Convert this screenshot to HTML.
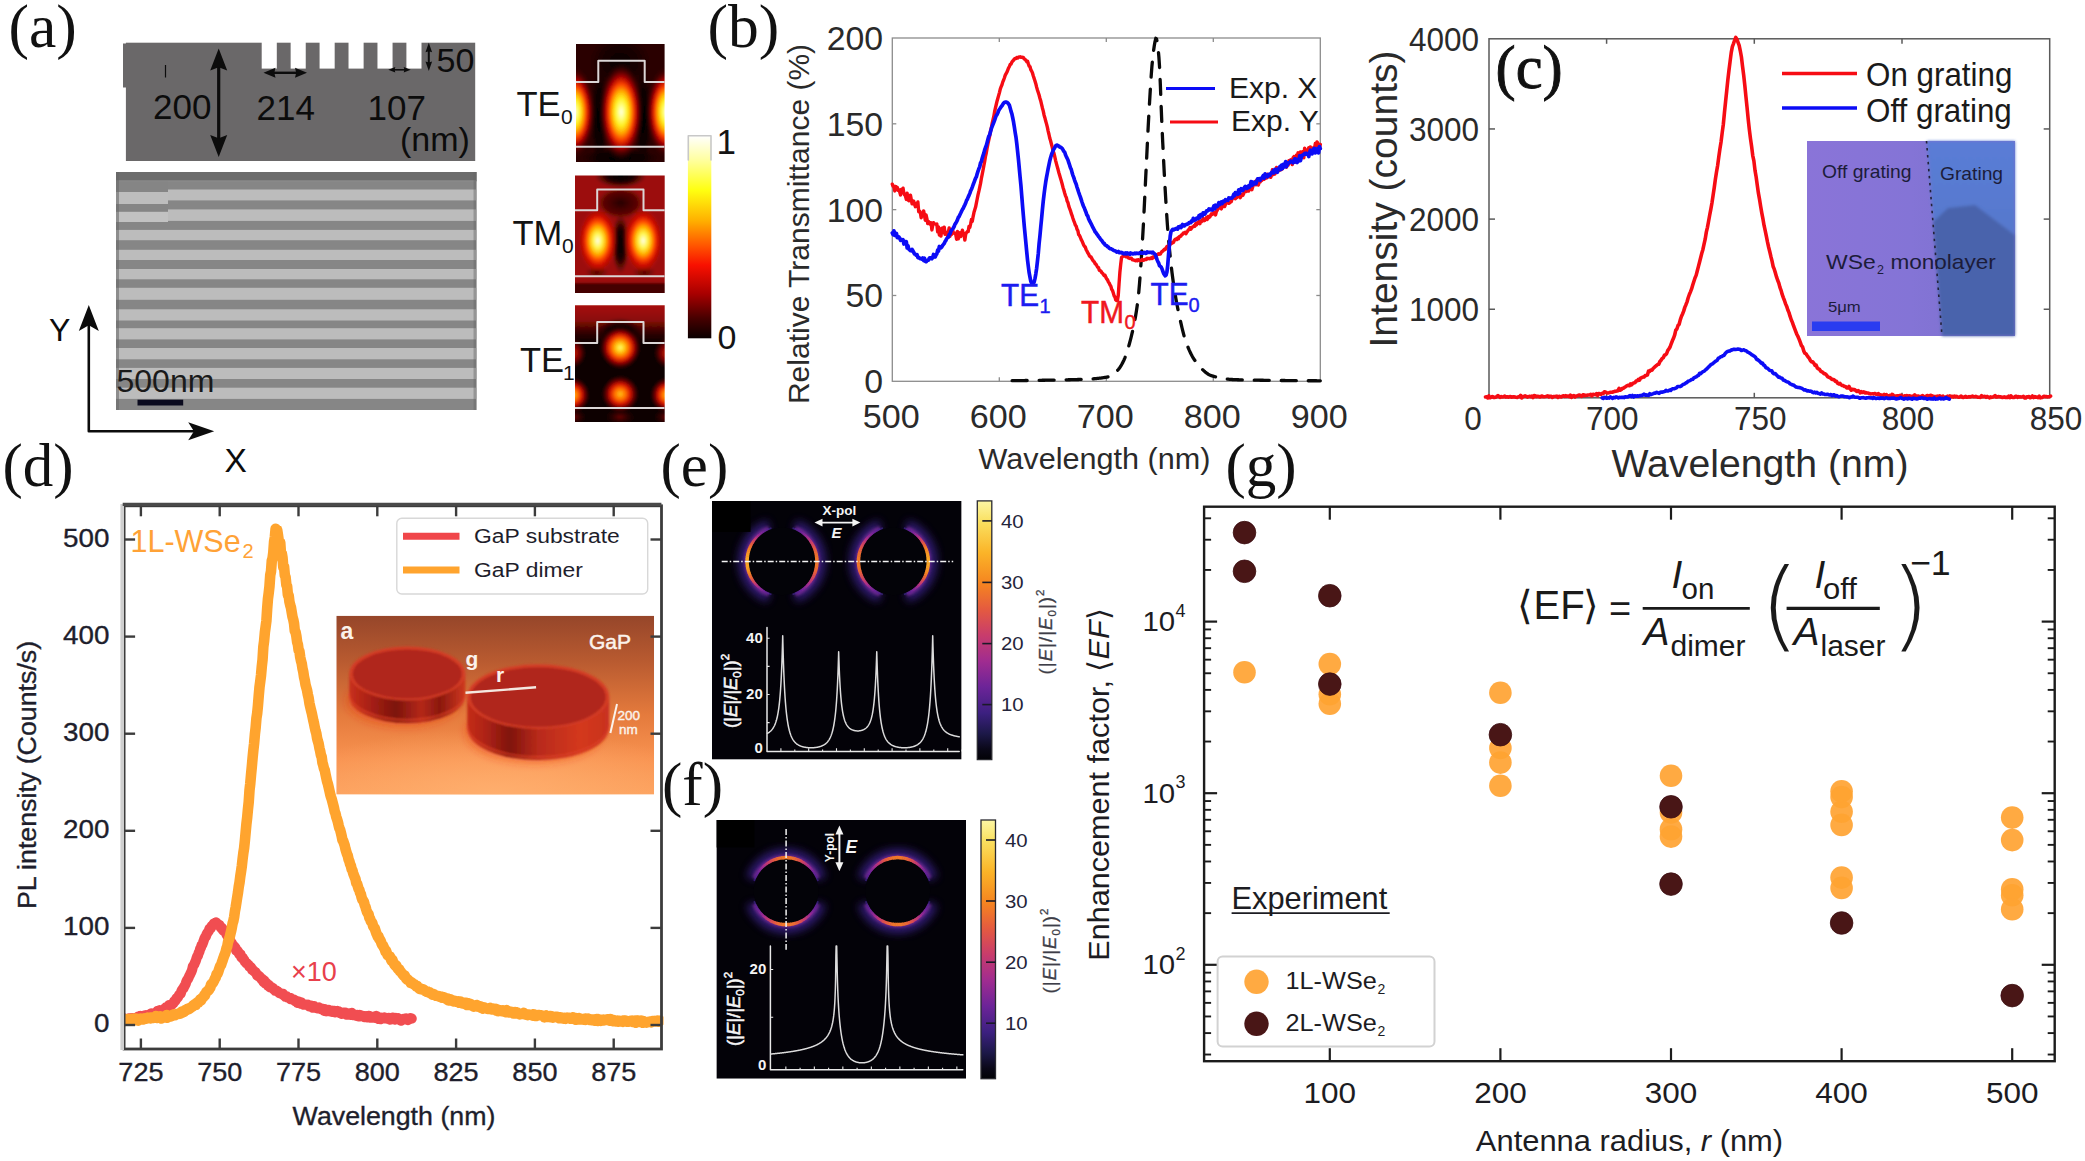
<!DOCTYPE html>
<html><head><meta charset="utf-8"><title>Figure</title>
<style>
html,body{margin:0;padding:0;background:#fff;}
svg{display:block}
.s{font-family:"Liberation Sans",Arial,sans-serif}
.r{font-family:"Liberation Serif","Times New Roman",serif}
</style></head><body>
<svg width="2085" height="1161" viewBox="0 0 2085 1161">
<defs>
<filter id="b1" x="-5%" y="-5%" width="110%" height="110%"><feGaussianBlur stdDeviation="0.7"/></filter>
<radialGradient id="hg1"><stop offset="0" stop-color="#000" stop-opacity="0.9"/><stop offset="0.6" stop-color="#100000" stop-opacity="0.6"/><stop offset="1" stop-color="#200000" stop-opacity="0"/></radialGradient>
<radialGradient id="hg2"><stop offset="0" stop-color="#000" stop-opacity="1"/><stop offset="0.5" stop-color="#050000" stop-opacity="0.85"/><stop offset="1" stop-color="#100000" stop-opacity="0"/></radialGradient>
<radialGradient id="hg3"><stop offset="0" stop-color="#000" stop-opacity="1"/><stop offset="0.5" stop-color="#050000" stop-opacity="0.85"/><stop offset="1" stop-color="#100000" stop-opacity="0"/></radialGradient>
<radialGradient id="hg4"><stop offset="0" stop-color="#000" stop-opacity="1"/><stop offset="0.5" stop-color="#050000" stop-opacity="0.85"/><stop offset="1" stop-color="#100000" stop-opacity="0"/></radialGradient>
<radialGradient id="hg5"><stop offset="0" stop-color="#ffffe4" stop-opacity="1"/><stop offset="0.14" stop-color="#ffff80" stop-opacity="1"/><stop offset="0.28" stop-color="#ffee20" stop-opacity="1"/><stop offset="0.42" stop-color="#ffa800" stop-opacity="1"/><stop offset="0.56" stop-color="#fa4000" stop-opacity="1"/><stop offset="0.7" stop-color="#b40600" stop-opacity="0.95"/><stop offset="0.85" stop-color="#5a0000" stop-opacity="0.6"/><stop offset="1" stop-color="#300000" stop-opacity="0"/></radialGradient>
<radialGradient id="hg6"><stop offset="0" stop-color="#ffffe4" stop-opacity="1"/><stop offset="0.14" stop-color="#ffff80" stop-opacity="1"/><stop offset="0.28" stop-color="#ffee20" stop-opacity="1"/><stop offset="0.42" stop-color="#ffa800" stop-opacity="1"/><stop offset="0.56" stop-color="#fa4000" stop-opacity="1"/><stop offset="0.7" stop-color="#b40600" stop-opacity="0.95"/><stop offset="0.85" stop-color="#5a0000" stop-opacity="0.6"/><stop offset="1" stop-color="#300000" stop-opacity="0"/></radialGradient>
<radialGradient id="hg7"><stop offset="0" stop-color="#ffffe4" stop-opacity="1"/><stop offset="0.14" stop-color="#ffff80" stop-opacity="1"/><stop offset="0.28" stop-color="#ffee20" stop-opacity="1"/><stop offset="0.42" stop-color="#ffa800" stop-opacity="1"/><stop offset="0.56" stop-color="#fa4000" stop-opacity="1"/><stop offset="0.7" stop-color="#b40600" stop-opacity="0.95"/><stop offset="0.85" stop-color="#5a0000" stop-opacity="0.6"/><stop offset="1" stop-color="#300000" stop-opacity="0"/></radialGradient>
<radialGradient id="hg8"><stop offset="0" stop-color="#000" stop-opacity="1"/><stop offset="0.5" stop-color="#050000" stop-opacity="0.85"/><stop offset="1" stop-color="#100000" stop-opacity="0"/></radialGradient>
<radialGradient id="hg9"><stop offset="0" stop-color="#1a0000" stop-opacity="0.9"/><stop offset="0.7" stop-color="#300000" stop-opacity="0.6"/><stop offset="1" stop-color="#500000" stop-opacity="0"/></radialGradient>
<radialGradient id="hg10"><stop offset="0" stop-color="#000" stop-opacity="1"/><stop offset="0.5" stop-color="#050000" stop-opacity="0.85"/><stop offset="1" stop-color="#100000" stop-opacity="0"/></radialGradient>
<radialGradient id="hg11"><stop offset="0" stop-color="#200000" stop-opacity="0.8"/><stop offset="1" stop-color="#400000" stop-opacity="0"/></radialGradient>
<radialGradient id="hg12"><stop offset="0" stop-color="#200000" stop-opacity="0.8"/><stop offset="1" stop-color="#400000" stop-opacity="0"/></radialGradient>
<radialGradient id="hg13"><stop offset="0" stop-color="#ffffe8" stop-opacity="1"/><stop offset="0.22" stop-color="#fff44a" stop-opacity="1"/><stop offset="0.4" stop-color="#ffb000" stop-opacity="1"/><stop offset="0.56" stop-color="#ff4a00" stop-opacity="1"/><stop offset="0.74" stop-color="#d00c00" stop-opacity="0.9"/><stop offset="1" stop-color="#a00a08" stop-opacity="0"/></radialGradient>
<radialGradient id="hg14"><stop offset="0" stop-color="#ffffe8" stop-opacity="1"/><stop offset="0.22" stop-color="#fff44a" stop-opacity="1"/><stop offset="0.4" stop-color="#ffb000" stop-opacity="1"/><stop offset="0.56" stop-color="#ff4a00" stop-opacity="1"/><stop offset="0.74" stop-color="#d00c00" stop-opacity="0.9"/><stop offset="1" stop-color="#a00a08" stop-opacity="0"/></radialGradient>
<radialGradient id="hg15"><stop offset="0" stop-color="#000" stop-opacity="1"/><stop offset="0.5" stop-color="#050000" stop-opacity="0.85"/><stop offset="1" stop-color="#100000" stop-opacity="0"/></radialGradient>
<radialGradient id="hg16"><stop offset="0" stop-color="#fff870" stop-opacity="1"/><stop offset="0.16" stop-color="#ffd820" stop-opacity="1"/><stop offset="0.34" stop-color="#ff9000" stop-opacity="1"/><stop offset="0.52" stop-color="#f03800" stop-opacity="1"/><stop offset="0.7" stop-color="#a80400" stop-opacity="0.9"/><stop offset="0.86" stop-color="#500000" stop-opacity="0.55"/><stop offset="1" stop-color="#300000" stop-opacity="0"/></radialGradient>
<radialGradient id="hg17"><stop offset="0" stop-color="#ffc010" stop-opacity="1"/><stop offset="0.3" stop-color="#ff6a00" stop-opacity="1"/><stop offset="0.55" stop-color="#d81000" stop-opacity="0.95"/><stop offset="0.8" stop-color="#700000" stop-opacity="0.6"/><stop offset="1" stop-color="#300000" stop-opacity="0"/></radialGradient>
<radialGradient id="hg18"><stop offset="0" stop-color="#ffc010" stop-opacity="1"/><stop offset="0.3" stop-color="#ff6a00" stop-opacity="1"/><stop offset="0.55" stop-color="#d81000" stop-opacity="0.95"/><stop offset="0.8" stop-color="#700000" stop-opacity="0.6"/><stop offset="1" stop-color="#300000" stop-opacity="0"/></radialGradient>
<radialGradient id="hg19"><stop offset="0" stop-color="#ffc010" stop-opacity="1"/><stop offset="0.3" stop-color="#ff6a00" stop-opacity="1"/><stop offset="0.55" stop-color="#d81000" stop-opacity="0.95"/><stop offset="0.8" stop-color="#700000" stop-opacity="0.6"/><stop offset="1" stop-color="#300000" stop-opacity="0"/></radialGradient>
<radialGradient id="hg20"><stop offset="0" stop-color="#d01000" stop-opacity="1"/><stop offset="0.5" stop-color="#900400" stop-opacity="0.8"/><stop offset="1" stop-color="#300000" stop-opacity="0"/></radialGradient>
<radialGradient id="hg21"><stop offset="0" stop-color="#d01000" stop-opacity="1"/><stop offset="0.5" stop-color="#900400" stop-opacity="0.8"/><stop offset="1" stop-color="#300000" stop-opacity="0"/></radialGradient>
<radialGradient id="hg22"><stop offset="0" stop-color="#800000" stop-opacity="0.8"/><stop offset="1" stop-color="#300000" stop-opacity="0"/></radialGradient>
<radialGradient id="hg23"><stop offset="0" stop-color="#800000" stop-opacity="0.8"/><stop offset="1" stop-color="#300000" stop-opacity="0"/></radialGradient>
<radialGradient id="hg24"><stop offset="0" stop-color="#800000" stop-opacity="0.8"/><stop offset="1" stop-color="#300000" stop-opacity="0"/></radialGradient>
<linearGradient id="te1top" x1="0" y1="0" x2="0" y2="1"><stop offset="0" stop-color="#b01410"/><stop offset="0.45" stop-color="#8a0c08"/><stop offset="1" stop-color="#300000" stop-opacity="0"/></linearGradient>
<linearGradient id="hotbar" x1="0" y1="0" x2="0" y2="1">
<stop offset="0" stop-color="#ffffff"/><stop offset="0.12" stop-color="#ffffa0"/><stop offset="0.27" stop-color="#ffff10"/><stop offset="0.42" stop-color="#ffb000"/><stop offset="0.55" stop-color="#ff5000"/><stop offset="0.64" stop-color="#f81000"/><stop offset="0.78" stop-color="#a80000"/><stop offset="0.9" stop-color="#480000"/><stop offset="1" stop-color="#0a0000"/></linearGradient>
<filter id="b2" x="-10%" y="-10%" width="120%" height="120%"><feGaussianBlur stdDeviation="1.2"/></filter>
<linearGradient id="infb" x1="0" y1="0" x2="0" y2="1">
<stop offset="0" stop-color="#fcf6a4"/><stop offset="0.08" stop-color="#fae060"/><stop offset="0.2" stop-color="#fbb428"/><stop offset="0.32" stop-color="#f58420"/><stop offset="0.42" stop-color="#e45a40"/><stop offset="0.52" stop-color="#c83c6c"/><stop offset="0.62" stop-color="#a02c90"/><stop offset="0.72" stop-color="#6c2498"/><stop offset="0.82" stop-color="#3c2080"/><stop offset="0.9" stop-color="#1c1848"/><stop offset="0.96" stop-color="#0a0818"/><stop offset="1" stop-color="#020206"/></linearGradient>
<filter id="g1" x="-50%" y="-50%" width="200%" height="200%"><feGaussianBlur stdDeviation="4.5"/></filter>
<filter id="g2" x="-50%" y="-50%" width="200%" height="200%"><feGaussianBlur stdDeviation="1.6"/></filter>
<filter id="g3" x="-50%" y="-50%" width="200%" height="200%"><feGaussianBlur stdDeviation="0.7"/></filter>
<filter id="gb" x="-20%" y="-20%" width="140%" height="140%"><feGaussianBlur stdDeviation="0.6"/></filter>
<filter id="g4" x="-5%" y="-5%" width="110%" height="110%"><feGaussianBlur stdDeviation="0.5"/></filter>

<linearGradient id="dbg" x1="0" y1="0" x2="0" y2="1"><stop offset="0" stop-color="#96462a"/><stop offset="0.25" stop-color="#b85a30"/><stop offset="0.55" stop-color="#e47a3c"/><stop offset="0.8" stop-color="#f89250"/><stop offset="1" stop-color="#fca05c"/></linearGradient>
<radialGradient id="dglow" cx="0.5" cy="1" r="0.7"><stop offset="0" stop-color="#ffb070" stop-opacity="0.9"/><stop offset="1" stop-color="#ffb070" stop-opacity="0"/></radialGradient>
<linearGradient id="dside" x1="0" y1="0" x2="1" y2="0"><stop offset="0" stop-color="#c8301c"/><stop offset="0.18" stop-color="#a82014"/><stop offset="0.4" stop-color="#7c140c"/><stop offset="0.62" stop-color="#b4281a"/><stop offset="0.78" stop-color="#8a180e"/><stop offset="1" stop-color="#d03820"/></linearGradient>
<linearGradient id="dside2" x1="0" y1="0" x2="1" y2="0"><stop offset="0" stop-color="#c42c1a"/><stop offset="0.12" stop-color="#b02416"/><stop offset="0.3" stop-color="#80140c"/><stop offset="0.5" stop-color="#b82a1a"/><stop offset="0.8" stop-color="#d4381e"/><stop offset="1" stop-color="#c83220"/></linearGradient>
<radialGradient id="dtop"><stop offset="0" stop-color="#b4261a"/><stop offset="0.85" stop-color="#b0241a"/><stop offset="1" stop-color="#d03a26"/></radialGradient>
<filter id="b4" x="-10%" y="-10%" width="120%" height="120%"><feGaussianBlur stdDeviation="1.1"/></filter>
<filter id="b5" x="-20%" y="-20%" width="140%" height="140%"><feGaussianBlur stdDeviation="5"/></filter>

<linearGradient id="cins" x1="0" y1="0" x2="1" y2="0"><stop offset="0" stop-color="#8a74d8"/><stop offset="0.5" stop-color="#8474d6"/><stop offset="1" stop-color="#7a70cc"/></linearGradient>
<linearGradient id="cins2" x1="0" y1="0" x2="0" y2="1"><stop offset="0" stop-color="#5a7cd6"/><stop offset="0.5" stop-color="#5678cc"/><stop offset="1" stop-color="#4e6cb8"/></linearGradient>
<filter id="b3" x="-5%" y="-5%" width="110%" height="110%"><feGaussianBlur stdDeviation="1.5"/></filter>

</defs>
<rect width="2085" height="1161" fill="#fff"/>
<g id="pa">
<text x="8.5" y="47" class="r" font-size="61.5" fill="#111">(a)</text>
<rect x="125.9" y="42.7" width="349.3" height="118.3" fill="#6a6869" />
<rect x="123" y="43.5" width="4" height="44" fill="#6a6869" />
<rect x="261.7" y="41" width="15.1" height="27.6" fill="#fff" />
<rect x="290.64" y="41" width="15.1" height="27.6" fill="#fff" />
<rect x="319.58" y="41" width="15.1" height="27.6" fill="#fff" />
<rect x="348.52" y="41" width="15.1" height="27.6" fill="#fff" />
<rect x="377.46" y="41" width="15.1" height="27.6" fill="#fff" />
<rect x="406.4" y="41" width="15.1" height="27.6" fill="#fff" />
<line x1="218.7" y1="62" x2="218.7" y2="144" stroke="#0c0c0c" stroke-width="3.2" />
<polygon points="218.7,48.5 227.2,70.5 218.7,67.2 210.2,70.5" fill="#0c0c0c"/>
<polygon points="218.7,157 210.2,135 218.7,138.3 227.2,135" fill="#0c0c0c"/>
<line x1="165.5" y1="65" x2="165.5" y2="77.5" stroke="#0c0c0c" stroke-width="1.2" />
<text x="153" y="118.7" class="s" font-size="35" fill="#0c0c0c">200</text>
<text x="256.5" y="120.3" class="s" font-size="35" fill="#0c0c0c">214</text>
<text x="367.5" y="120" class="s" font-size="35" fill="#0c0c0c">107</text>
<text x="400" y="150.6" class="s" font-size="34" fill="#0c0c0c">(nm)</text>
<text x="436.5" y="71.6" class="s" font-size="34" fill="#0c0c0c">50</text>
<line x1="272" y1="72.8" x2="298" y2="72.8" stroke="#0c0c0c" stroke-width="2.4" />
<polygon points="263.5,72.8 275.5,67.8 274.3,72.8 275.5,77.8" fill="#0c0c0c"/>
<polygon points="307,72.8 295,77.8 296.2,72.8 295,67.8" fill="#0c0c0c"/>
<line x1="392" y1="69.8" x2="407" y2="69.8" stroke="#0c0c0c" stroke-width="1.6" />
<polygon points="388.3,69.8 395.3,67.05 394.6,69.8 395.3,72.55" fill="#0c0c0c"/>
<polygon points="410.7,69.8 403.7,72.55 404.4,69.8 403.7,67.05" fill="#0c0c0c"/>
<line x1="428.8" y1="50" x2="428.8" y2="63" stroke="#0c0c0c" stroke-width="2" />
<polygon points="428.8,42.7 432.1,52.2 428.8,51.25 425.5,52.2" fill="#0c0c0c"/>
<polygon points="428.8,71 425.5,61.5 428.8,62.45 432.1,61.5" fill="#0c0c0c"/>
<g filter="url(#b1)">
<rect x="116" y="172" width="360.5" height="238" fill="#868686" />
<rect x="116" y="172" width="360.5" height="9" fill="#6c6c6c" />
<rect x="116" y="180.3" width="360.5" height="1.2" fill="#8c8c8c" />
<rect x="116" y="189.5" width="360.5" height="10.9" fill="#bcbcbc" />
<rect x="116" y="209.4" width="360.5" height="11.5" fill="#bcbcbc" />
<rect x="116" y="229.9" width="360.5" height="10.3" fill="#bcbcbc" />
<rect x="116" y="249.8" width="360.5" height="10.2" fill="#bcbcbc" />
<rect x="116" y="269" width="360.5" height="10.3" fill="#bcbcbc" />
<rect x="116" y="287.8" width="360.5" height="12" fill="#bcbcbc" />
<rect x="116" y="309.3" width="360.5" height="11.2" fill="#bcbcbc" />
<rect x="116" y="328.2" width="360.5" height="11.2" fill="#bcbcbc" />
<rect x="116" y="348" width="360.5" height="11.3" fill="#bcbcbc" />
<rect x="116" y="367.9" width="360.5" height="11.1" fill="#bcbcbc" />
<rect x="116" y="387.7" width="360.5" height="11.2" fill="#bcbcbc" />
<rect x="116" y="181.5" width="52" height="40.5" fill="#858585" />
<rect x="116" y="192" width="52" height="12" fill="#bdbdbd" />
<rect x="116" y="211.8" width="52" height="10.2" fill="#c2c2c2" />
<rect x="116" y="172" width="3" height="238" fill="#666" opacity="0.55"/>
<rect x="473.5" y="172" width="3" height="238" fill="#666" opacity="0.45"/>
</g>
<rect x="137.5" y="399.7" width="45.7" height="5.8" fill="#0a0a1e" />
<text x="116.5" y="392" class="s" font-size="32" fill="#1a1a1a">500nm</text>
<polyline points="88.8,322 88.8,431.3 195,431.3" fill="none" stroke="#0c0c0c" stroke-width="2.6" stroke-linejoin="round" stroke-linecap="round" stroke-linejoin="miter" stroke-linecap="butt"/>
<polygon points="88.8,305 98.8,331 88.8,325.28 78.8,331" fill="#0c0c0c"/>
<polygon points="214.2,431.3 188.2,440.3 193.92,431.3 188.2,422.3" fill="#0c0c0c"/>
<text x="49" y="341" class="s" font-size="32" fill="#0c0c0c">Y</text>
<text x="224.5" y="472.3" class="s" font-size="33.5" fill="#0c0c0c">X</text>
</g>
<g id="pa2">
<clipPath id="c1"><rect x="576" y="43.9" width="88.60000000000002" height="118.1"/></clipPath>
<g clip-path="url(#c1)"><g filter="url(#b2)">
<rect x="571" y="38.9" width="98.6" height="128.1" fill="#2c0606" />
<ellipse cx="620" cy="62" rx="34" ry="30" fill="url(#hg1)"/>
<ellipse cx="599.5" cy="118" rx="9" ry="52" fill="url(#hg2)"/>
<ellipse cx="643" cy="118" rx="9" ry="52" fill="url(#hg3)"/>
<ellipse cx="620" cy="158" rx="40" ry="10" fill="url(#hg4)"/>
<ellipse cx="621.2" cy="112" rx="22.5" ry="50" fill="url(#hg5)"/>
<ellipse cx="574.5" cy="112" rx="21" ry="46" fill="url(#hg6)"/>
<ellipse cx="666.5" cy="112" rx="21" ry="46" fill="url(#hg7)"/>
</g>
<polyline points="576,82.1 598.3,82.1 598.3,60.8 644.7,60.8 644.7,82.1 664.6,82.1" fill="none" stroke="#dcd6d6" stroke-width="2" stroke-linejoin="round" stroke-linecap="round" stroke-linejoin="miter" stroke-linecap="butt"/><line x1="576" y1="146.7" x2="664.6" y2="146.7" stroke="#dcd6d6" stroke-width="2" />
</g>
<clipPath id="c2"><rect x="575" y="175.5" width="89.70000000000005" height="117.39999999999998"/></clipPath>
<g clip-path="url(#c2)"><g filter="url(#b2)">
<rect x="570" y="170.5" width="99.7" height="127.4" fill="#9c0e0a" />
<ellipse cx="620.5" cy="176" rx="26" ry="12" fill="url(#hg8)"/>
<ellipse cx="620.5" cy="203" rx="24" ry="16" fill="url(#hg9)"/>
<ellipse cx="620.5" cy="244" rx="9" ry="30" fill="url(#hg10)"/>
<ellipse cx="597" cy="272" rx="12" ry="6" fill="url(#hg11)"/>
<ellipse cx="644" cy="272" rx="12" ry="6" fill="url(#hg12)"/>
<rect x="570" y="283" width="99.7" height="15" fill="#300404" opacity="0.8"/>
<ellipse cx="597.7" cy="240.6" rx="20.5" ry="34" fill="url(#hg13)"/>
<ellipse cx="643.2" cy="240.6" rx="20.5" ry="34" fill="url(#hg14)"/>
</g>
<polyline points="575,210.3 597.2,210.3 597.2,189.4 643.5,189.4 643.5,210.3 664.7,210.3" fill="none" stroke="#dcd6d6" stroke-width="2" stroke-linejoin="round" stroke-linecap="round" stroke-linejoin="miter" stroke-linecap="butt"/><line x1="575" y1="276.2" x2="664.7" y2="276.2" stroke="#dcd6d6" stroke-width="2" />
</g>
<clipPath id="c3"><rect x="575" y="305.2" width="89.70000000000005" height="116.80000000000001"/></clipPath>
<g clip-path="url(#c3)"><g filter="url(#b2)">
<rect x="570" y="300.2" width="99.7" height="126.8" fill="#0c0000" />
<rect x="570" y="300.2" width="99.70000000000005" height="45" fill="url(#te1top)"/>
<ellipse cx="620.2" cy="332" rx="22" ry="14" fill="url(#hg15)"/>
<ellipse cx="620.2" cy="347.6" rx="21" ry="22" fill="url(#hg16)"/>
<ellipse cx="620.2" cy="394" rx="19" ry="19" fill="url(#hg17)"/>
<ellipse cx="573" cy="395" rx="17" ry="18" fill="url(#hg18)"/>
<ellipse cx="667" cy="395" rx="17" ry="18" fill="url(#hg19)"/>
<ellipse cx="573" cy="353" rx="14" ry="16" fill="url(#hg20)"/>
<ellipse cx="667" cy="353" rx="14" ry="16" fill="url(#hg21)"/>
<ellipse cx="620" cy="417" rx="16" ry="9" fill="url(#hg22)"/>
<ellipse cx="575" cy="417" rx="12" ry="9" fill="url(#hg23)"/>
<ellipse cx="665" cy="417" rx="12" ry="9" fill="url(#hg24)"/>
</g>
<polyline points="575,342.9 597.2,342.9 597.2,322 643.5,322 643.5,342.9 664.7,342.9" fill="none" stroke="#dcd6d6" stroke-width="2" stroke-linejoin="round" stroke-linecap="round" stroke-linejoin="miter" stroke-linecap="butt"/><line x1="575" y1="408" x2="664.7" y2="408" stroke="#dcd6d6" stroke-width="2" />
</g>
<text x="516.5" y="116.2" class="s" font-size="34.5" fill="#141414">TE</text><text x="561" y="123.7" class="s" font-size="21" fill="#141414">0</text>
<text x="512.5" y="245.2" class="s" font-size="34.5" fill="#141414">TM</text><text x="562" y="252.7" class="s" font-size="21" fill="#141414">0</text>
<text x="520" y="372" class="s" font-size="34.5" fill="#141414">TE</text><text x="563" y="379.5" class="s" font-size="21" fill="#141414">1</text>
<rect x="687.9" y="135.5" width="23.4" height="202.8" fill="url(#hotbar)" stroke="none"/>
<polyline points="688.3,160 688.3,135.8 711,135.8 711,160" fill="none" stroke="#c8c8c8" stroke-width="1.6" stroke-linejoin="round" stroke-linecap="round" stroke-linejoin="miter" stroke-linecap="butt"/>
<text x="716.5" y="154" class="s" font-size="35" fill="#141414">1</text>
<text x="717.5" y="348.5" class="s" font-size="34" fill="#141414">0</text>
</g>
<g id="pb">
<text x="707.5" y="46.5" class="r" font-size="61.5" fill="#111">(b)</text>
<rect x="892.3" y="38" width="428" height="343.3" fill="none" stroke="#8c8c8c" stroke-width="1.3"/>
<line x1="999.3" y1="381.3" x2="999.3" y2="377.3" stroke="#8c8c8c" stroke-width="1.3" />
<line x1="999.3" y1="38" x2="999.3" y2="42" stroke="#8c8c8c" stroke-width="1.3" />
<line x1="1106.3" y1="381.3" x2="1106.3" y2="377.3" stroke="#8c8c8c" stroke-width="1.3" />
<line x1="1106.3" y1="38" x2="1106.3" y2="42" stroke="#8c8c8c" stroke-width="1.3" />
<line x1="1213.3" y1="381.3" x2="1213.3" y2="377.3" stroke="#8c8c8c" stroke-width="1.3" />
<line x1="1213.3" y1="38" x2="1213.3" y2="42" stroke="#8c8c8c" stroke-width="1.3" />
<line x1="892.3" y1="295.48" x2="896.3" y2="295.48" stroke="#8c8c8c" stroke-width="1.3" />
<line x1="1320.3" y1="295.48" x2="1316.3" y2="295.48" stroke="#8c8c8c" stroke-width="1.3" />
<line x1="892.3" y1="209.65" x2="896.3" y2="209.65" stroke="#8c8c8c" stroke-width="1.3" />
<line x1="1320.3" y1="209.65" x2="1316.3" y2="209.65" stroke="#8c8c8c" stroke-width="1.3" />
<line x1="892.3" y1="123.82" x2="896.3" y2="123.82" stroke="#8c8c8c" stroke-width="1.3" />
<line x1="1320.3" y1="123.82" x2="1316.3" y2="123.82" stroke="#8c8c8c" stroke-width="1.3" />
<text x="0" y="0" class="s" font-size="32.5" fill="#2a2a2a" text-anchor="end"  transform="translate(883 393.3) scale(1.04 1)">0</text>
<text x="0" y="0" class="s" font-size="32.5" fill="#2a2a2a" text-anchor="end"  transform="translate(883 307.48) scale(1.04 1)">50</text>
<text x="0" y="0" class="s" font-size="32.5" fill="#2a2a2a" text-anchor="end"  transform="translate(883 221.65) scale(1.04 1)">100</text>
<text x="0" y="0" class="s" font-size="32.5" fill="#2a2a2a" text-anchor="end"  transform="translate(883 135.82) scale(1.04 1)">150</text>
<text x="0" y="0" class="s" font-size="32.5" fill="#2a2a2a" text-anchor="end"  transform="translate(883 50) scale(1.04 1)">200</text>
<text x="0" y="0" class="s" font-size="32.5" fill="#2a2a2a" text-anchor="middle"  transform="translate(891.3 428) scale(1.05 1)">500</text>
<text x="0" y="0" class="s" font-size="32.5" fill="#2a2a2a" text-anchor="middle"  transform="translate(998.3 428) scale(1.05 1)">600</text>
<text x="0" y="0" class="s" font-size="32.5" fill="#2a2a2a" text-anchor="middle"  transform="translate(1105.3 428) scale(1.05 1)">700</text>
<text x="0" y="0" class="s" font-size="32.5" fill="#2a2a2a" text-anchor="middle"  transform="translate(1212.3 428) scale(1.05 1)">800</text>
<text x="0" y="0" class="s" font-size="32.5" fill="#2a2a2a" text-anchor="middle"  transform="translate(1319.3 428) scale(1.05 1)">900</text>
<text x="0" y="0" class="s" font-size="30" fill="#2a2a2a" text-anchor="middle"  transform="translate(1094.5 469) scale(1.02 1)">Wavelength (nm)</text>
<text x="809" y="224" class="s" font-size="30" fill="#2a2a2a" text-anchor="middle" transform="rotate(-90 809 224)">Relative Transmittance (%)</text>
<polyline points="1012.14,380.68 1012.91,380.67 1013.68,380.66 1014.46,380.65 1015.23,380.65 1016,380.64 1016.77,380.63 1017.55,380.62 1018.32,380.61 1019.09,380.6 1019.86,380.59 1020.64,380.58 1021.41,380.57 1022.18,380.56 1022.95,380.55 1023.72,380.54 1024.5,380.53 1025.27,380.52 1026.04,380.51 1026.81,380.5 1027.59,380.49 1028.36,380.48 1029.13,380.47 1029.9,380.46 1030.68,380.45 1031.45,380.43 1032.22,380.42 1032.99,380.41 1033.77,380.4 1034.54,380.39 1035.31,380.38 1036.08,380.36 1036.85,380.35 1037.63,380.34 1038.4,380.33 1039.17,380.32 1039.94,380.3 1040.72,380.29 1041.49,380.28 1042.26,380.27 1043.03,380.26 1043.81,380.24 1044.58,380.23 1045.35,380.22 1046.12,380.21 1046.89,380.19 1047.67,380.18 1048.44,380.17 1049.21,380.16 1049.98,380.14 1050.76,380.13 1051.53,380.12 1052.3,380.1 1053.07,380.09 1053.85,380.08 1054.62,380.06 1055.39,380.05 1056.16,380.04 1056.94,380.02 1057.71,380.01 1058.48,379.99 1059.25,379.98 1060.02,379.96 1060.8,379.95 1061.57,379.93 1062.34,379.92 1063.11,379.9 1063.89,379.88 1064.66,379.87 1065.43,379.85 1066.2,379.83 1066.98,379.81 1067.75,379.79 1068.52,379.77 1069.29,379.75 1070.06,379.73 1070.84,379.71 1071.61,379.69 1072.38,379.67 1073.15,379.65 1073.93,379.63 1074.7,379.6 1075.47,379.58 1076.24,379.56 1077.02,379.53 1077.79,379.51 1078.56,379.48 1079.33,379.45 1080.11,379.43 1080.88,379.4 1081.65,379.37 1082.42,379.34 1083.19,379.31 1083.97,379.28 1084.74,379.25 1085.51,379.21 1086.28,379.18 1087.06,379.15 1087.83,379.11 1088.6,379.07 1089.37,379.03 1090.15,378.99 1090.92,378.94 1091.69,378.89 1092.46,378.84 1093.23,378.79 1094.01,378.73 1094.78,378.67 1095.55,378.61 1096.32,378.54 1097.1,378.47 1097.87,378.39 1098.64,378.31 1099.41,378.23 1100.19,378.14 1100.96,378.04 1101.73,377.94 1102.5,377.84 1103.28,377.73 1104.05,377.61 1104.82,377.49 1105.59,377.36 1106.36,377.23 1107.14,377.09 1107.91,376.94 1108.68,376.78 1109.45,376.55 1110.23,376.24 1111,375.85 1111.77,375.38 1112.54,374.86 1113.32,374.28 1114.09,373.65 1114.86,372.99 1115.63,372.29 1116.4,371.57 1117.18,370.83 1117.95,370 1118.72,369.07 1119.49,368.03 1120.27,366.88 1121.04,365.64 1121.81,364.3 1122.58,362.87 1123.36,361.35 1124.13,359.69 1124.9,357.85 1125.67,355.81 1126.44,353.6 1127.22,351.23 1127.99,348.71 1128.76,346.04 1129.53,343.24 1130.31,340.32 1131.08,337.29 1131.85,334.15 1132.62,330.9 1133.4,327.47 1134.17,323.78 1134.94,319.79 1135.71,315.4 1136.49,310.58 1137.26,305.23 1138.03,299.28 1138.8,291.9 1139.57,282.95 1140.35,272.74 1141.12,261.54 1141.89,249.66 1142.66,237.37 1143.44,223.81 1144.21,208.44 1144.98,192.28 1145.75,176.33 1146.53,160.75 1147.3,144.8 1148.07,129.17 1148.84,114.59 1149.61,101.3 1150.39,88.4 1151.16,76.47 1151.93,66.22 1152.7,58.14 1153.48,51.41 1154.25,46.03 1155.02,41.57 1155.79,38.29 1156.57,38.97 1157.34,42.89 1158.11,48.29 1158.88,56.83 1159.66,68.71 1160.43,86.72 1161.2,107.38 1161.97,126.24 1162.74,142.71 1163.52,158.58 1164.29,173.6 1165.06,187.53 1165.83,200.57 1166.61,213.02 1167.38,224.51 1168.15,234.65 1168.92,243.41 1169.7,251.53 1170.47,259.07 1171.24,266.08 1172.01,272.57 1172.78,278.58 1173.56,284.13 1174.33,289.27 1175.1,294.05 1175.87,298.53 1176.65,302.74 1177.42,306.72 1178.19,310.52 1178.96,314.17 1179.74,317.72 1180.51,321.23 1181.28,324.66 1182.05,328 1182.83,331.19 1183.6,334.21 1184.37,337.01 1185.14,339.57 1185.91,341.84 1186.69,343.91 1187.46,345.9 1188.23,347.8 1189,349.62 1189.78,351.35 1190.55,352.99 1191.32,354.54 1192.09,356 1192.87,357.36 1193.64,358.63 1194.41,359.81 1195.18,360.89 1195.95,361.89 1196.73,362.87 1197.5,363.84 1198.27,364.78 1199.04,365.71 1199.82,366.6 1200.59,367.48 1201.36,368.32 1202.13,369.13 1202.91,369.91 1203.68,370.65 1204.45,371.36 1205.22,372.02 1206,372.65 1206.77,373.23 1207.54,373.76 1208.31,374.24 1209.08,374.68 1209.86,375.06 1210.63,375.38 1211.4,375.64 1212.17,375.88 1212.95,376.11 1213.72,376.33 1214.49,376.54 1215.26,376.75 1216.04,376.95 1216.81,377.14 1217.58,377.33 1218.35,377.51 1219.12,377.68 1219.9,377.85 1220.67,378.01 1221.44,378.16 1222.21,378.31 1222.99,378.44 1223.76,378.57 1224.53,378.7 1225.3,378.81 1226.08,378.92 1226.85,379.02 1227.62,379.12 1228.39,379.2 1229.16,379.28 1229.94,379.35 1230.71,379.41 1231.48,379.47 1232.25,379.52 1233.03,379.56 1233.8,379.59 1234.57,379.62 1235.34,379.65 1236.12,379.68 1236.89,379.7 1237.66,379.73 1238.43,379.75 1239.21,379.78 1239.98,379.8 1240.75,379.83 1241.52,379.85 1242.29,379.87 1243.07,379.89 1243.84,379.91 1244.61,379.93 1245.38,379.95 1246.16,379.97 1246.93,379.99 1247.7,380.01 1248.47,380.02 1249.25,380.04 1250.02,380.06 1250.79,380.07 1251.56,380.09 1252.33,380.1 1253.11,380.12 1253.88,380.13 1254.65,380.15 1255.42,380.16 1256.2,380.17 1256.97,380.19 1257.74,380.2 1258.51,380.21 1259.29,380.22 1260.06,380.23 1260.83,380.24 1261.6,380.25 1262.38,380.26 1263.15,380.27 1263.92,380.28 1264.69,380.29 1265.46,380.3 1266.24,380.31 1267.01,380.32 1267.78,380.33 1268.55,380.34 1269.33,380.35 1270.1,380.36 1270.87,380.37 1271.64,380.38 1272.42,380.38 1273.19,380.39 1273.96,380.4 1274.73,380.41 1275.5,380.42 1276.28,380.43 1277.05,380.44 1277.82,380.45 1278.59,380.45 1279.37,380.46 1280.14,380.47 1280.91,380.48 1281.68,380.49 1282.46,380.5 1283.23,380.51 1284,380.51 1284.77,380.52 1285.55,380.53 1286.32,380.54 1287.09,380.55 1287.86,380.56 1288.63,380.56 1289.41,380.57 1290.18,380.58 1290.95,380.59 1291.72,380.59 1292.5,380.6 1293.27,380.61 1294.04,380.62 1294.81,380.62 1295.59,380.63 1296.36,380.64 1297.13,380.65 1297.9,380.65 1298.67,380.66 1299.45,380.67 1300.22,380.67 1300.99,380.68 1301.76,380.69 1302.54,380.69 1303.31,380.7 1304.08,380.7 1304.85,380.71 1305.63,380.71 1306.4,380.72 1307.17,380.73 1307.94,380.73 1308.72,380.73 1309.49,380.74 1310.26,380.74 1311.03,380.75 1311.8,380.75 1312.58,380.76 1313.35,380.76 1314.12,380.76 1314.89,380.77 1315.67,380.77 1316.44,380.77 1317.21,380.78 1317.98,380.78 1318.76,380.78 1319.53,380.78 1320.3,380.79" fill="none" stroke="#0a0a0a" stroke-width="3.3" stroke-linejoin="round" stroke-linecap="round" stroke-dasharray="15 12" stroke-linecap="butt"/>
<polyline points="892.3,184.14 893.12,186.36 893.95,186.2 894.77,190.93 895.6,186.39 896.42,187.07 897.25,187.35 898.07,190.15 898.9,189.84 899.72,192.02 900.55,194.96 901.37,189.47 902.2,189.97 903.02,188.15 903.85,193.19 904.67,194.97 905.49,195.98 906.32,199.42 907.14,193.22 907.97,199.73 908.79,200.79 909.62,198.96 910.44,195.19 911.27,199.51 912.09,203.87 912.92,203.91 913.74,201.11 914.57,204.15 915.39,206.72 916.22,206.14 917.04,204.38 917.86,201.93 918.69,211.71 919.51,210.95 920.34,212.38 921.16,217.76 921.99,214.6 922.81,215.82 923.64,210.85 924.46,215.23 925.29,220.28 926.11,215.03 926.94,218.79 927.76,223.61 928.59,221.48 929.41,222.48 930.23,224.26 931.06,222.74 931.88,229.93 932.71,225.37 933.53,222.67 934.36,223.86 935.18,223.84 936.01,224.44 936.83,224.04 937.66,231.79 938.48,226.96 939.31,234.93 940.13,231.98 940.96,236.04 941.78,228.32 942.6,227.91 943.43,232.43 944.25,227.27 945.08,234.23 945.9,232.16 946.73,232.32 947.55,235.83 948.38,231.86 949.2,227.9 950.03,236.22 950.85,231.13 951.68,234.27 952.5,229.3 953.33,233.18 954.15,232.99 954.97,233.38 955.8,234.65 956.62,239.23 957.45,231.49 958.27,238.89 959.1,234.2 959.92,232.84 960.75,236.47 961.57,233.4 962.4,230.24 963.22,233.12 964.05,235.07 964.87,240.14 965.69,234.23 966.52,232.51 967.34,231.52 968.17,231.62 968.99,226.44 969.82,227.24 970.64,223.89 971.47,219.48 972.29,221.33 973.12,216.58 973.94,212.56 974.77,209.77 975.59,207.1 976.42,202.81 977.24,198.71 978.06,194.63 978.89,191.22 979.71,187.47 980.54,183.39 981.36,178.53 982.19,174.32 983.01,170.27 983.84,165.7 984.66,161.38 985.49,156.5 986.31,152.77 987.14,148.02 987.96,143.73 988.79,139.89 989.61,136.46 990.43,131.47 991.26,128.28 992.08,123.74 992.91,120.23 993.73,116.69 994.56,111.98 995.38,108.2 996.21,104.75 997.03,101.16 997.86,98.31 998.68,95.34 999.51,92.33 1000.33,88.79 1001.16,86.68 1001.98,84.76 1002.8,81.88 1003.63,79.99 1004.45,77.75 1005.28,75.05 1006.1,73.62 1006.93,72.2 1007.75,70.07 1008.58,67.98 1009.4,66.43 1010.23,64.56 1011.05,64.05 1011.88,62.12 1012.7,61.05 1013.53,60.24 1014.35,58.96 1015.17,58.48 1016,58.64 1016.82,57.42 1017.65,58.06 1018.47,57.22 1019.3,57.03 1020.12,56.73 1020.95,57.2 1021.77,57.09 1022.6,57.51 1023.42,57.56 1024.25,58.99 1025.07,59.35 1025.9,60.28 1026.72,61.63 1027.54,61.16 1028.37,63.84 1029.19,66.15 1030.02,66.75 1030.84,69.75 1031.67,71.1 1032.49,73.02 1033.32,75.99 1034.14,78.38 1034.97,81.06 1035.79,83.64 1036.62,87.14 1037.44,89.92 1038.27,92.47 1039.09,95.02 1039.91,98.27 1040.74,100.88 1041.56,104.39 1042.39,107.94 1043.21,110.88 1044.04,114.9 1044.86,117.71 1045.69,121.07 1046.51,123.89 1047.34,127.13 1048.16,131.06 1048.99,134.49 1049.81,138.3 1050.64,141.05 1051.46,144.21 1052.28,147.38 1053.11,151.1 1053.93,153.08 1054.76,156.59 1055.58,160.31 1056.41,163.64 1057.23,166.68 1058.06,169.58 1058.88,172.72 1059.71,175.54 1060.53,178.4 1061.36,181.09 1062.18,184.07 1063.01,187.44 1063.83,189.98 1064.65,193.04 1065.48,195.83 1066.3,197.42 1067.13,201.06 1067.95,202.6 1068.78,206.16 1069.6,208.41 1070.43,210.52 1071.25,213.39 1072.08,215.61 1072.9,218.21 1073.73,220.59 1074.55,222.68 1075.38,225.09 1076.2,226.3 1077.02,229.23 1077.85,230.55 1078.67,234.54 1079.5,235.43 1080.32,237.2 1081.15,239.51 1081.97,240.81 1082.8,242.83 1083.62,244.97 1084.45,246.34 1085.27,246.91 1086.1,249.55 1086.92,251.01 1087.75,252.76 1088.57,253.9 1089.39,255.86 1090.22,256.7 1091.04,256.84 1091.87,258.69 1092.69,260.1 1093.52,261.11 1094.34,261.97 1095.17,263.71 1095.99,264.24 1096.82,265.78 1097.64,267.22 1098.47,267.57 1099.29,270.31 1100.12,270.51 1100.94,271.12 1101.76,272.6 1102.59,273.27 1103.41,274.51 1104.24,275.6 1105.06,275.29 1105.89,277.4 1106.71,278.99 1107.54,279.8 1108.36,281.94 1109.19,283.03 1110.01,284.91 1110.84,286.11 1111.66,289.24 1112.48,290.39 1113.31,293 1114.13,295.87 1114.96,296.97 1115.78,299.95 1116.61,300.54 1117.43,300.35 1118.26,295.38 1119.08,283.4 1119.91,271.96 1120.73,264.13 1121.56,257.38 1122.38,256.8 1123.21,256.07 1124.03,256.04 1124.85,255.76 1125.68,256.62 1126.5,255.89 1127.33,256.2 1128.15,257.82 1128.98,258.22 1129.8,258.44 1130.63,258.26 1131.45,258.23 1132.28,259.79 1133.1,259.76 1133.93,260.15 1134.75,260.36 1135.58,260.74 1136.4,260 1137.22,260.74 1138.05,259.64 1138.87,259.89 1139.7,260.69 1140.52,260.63 1141.35,260.37 1142.17,259.4 1143,260.24 1143.82,260.38 1144.65,259.6 1145.47,259.25 1146.3,259.51 1147.12,258.35 1147.95,258.74 1148.77,258.46 1149.59,258.81 1150.42,258.22 1151.24,257.98 1152.07,258.57 1152.89,257.12 1153.72,257.64 1154.54,256.47 1155.37,256.66 1156.19,254.71 1157.02,254.96 1157.84,254.25 1158.67,253.73 1159.49,254.18 1160.32,254.07 1161.14,252.64 1161.96,251.47 1162.79,251.12 1163.61,250.09 1164.44,249.26 1165.26,249.52 1166.09,247.96 1166.91,246.44 1167.74,246.74 1168.56,246.58 1169.39,245.05 1170.21,244.42 1171.04,243.35 1171.86,243.22 1172.69,242.12 1173.51,242.43 1174.33,240.43 1175.16,239.45 1175.98,238.91 1176.81,239.46 1177.63,238.01 1178.46,238.78 1179.28,236.74 1180.11,236.26 1180.93,236.03 1181.76,234.68 1182.58,234.24 1183.41,232.92 1184.23,233.03 1185.06,232.33 1185.88,233.72 1186.7,232.42 1187.53,231.19 1188.35,229.88 1189.18,229.58 1190,227.54 1190.83,229.26 1191.65,228.07 1192.48,227 1193.3,226.91 1194.13,225.61 1194.95,226.13 1195.78,223.5 1196.6,224.74 1197.43,222.66 1198.25,223.32 1199.07,221.11 1199.9,223.68 1200.72,221.04 1201.55,221.53 1202.37,220.23 1203.2,218.58 1204.02,220.67 1204.85,220.34 1205.67,219.42 1206.5,217.41 1207.32,219.37 1208.15,216.47 1208.97,217.58 1209.8,216.86 1210.62,215.36 1211.44,213.88 1212.27,214.57 1213.09,213.84 1213.92,212.71 1214.74,212.44 1215.57,214.96 1216.39,211.52 1217.22,210.29 1218.04,208.4 1218.87,206.57 1219.69,207.82 1220.52,208.04 1221.34,208.89 1222.17,206.9 1222.99,205.39 1223.81,204.14 1224.64,206.56 1225.46,204.44 1226.29,203.05 1227.11,200.99 1227.94,202.72 1228.76,203.31 1229.59,202.97 1230.41,201.93 1231.24,201.8 1232.06,199.05 1232.89,198.12 1233.71,198.07 1234.54,196.8 1235.36,198.74 1236.18,196.9 1237.01,197.52 1237.83,196.3 1238.66,193.89 1239.48,195.3 1240.31,197.66 1241.13,194.55 1241.96,194.73 1242.78,195.47 1243.61,193.76 1244.43,190.35 1245.26,188.6 1246.08,191.62 1246.91,188.59 1247.73,187.73 1248.55,191.11 1249.38,188.67 1250.2,188.12 1251.03,187.2 1251.85,189.7 1252.68,187 1253.5,183.99 1254.33,183.07 1255.15,181.5 1255.98,184.8 1256.8,180.3 1257.63,181.9 1258.45,185.01 1259.27,180.62 1260.1,182.1 1260.92,179.96 1261.75,180.56 1262.57,177.57 1263.4,178.8 1264.22,179.27 1265.05,176.36 1265.87,177.16 1266.7,177.89 1267.52,174.11 1268.35,176.81 1269.17,176.72 1270,175.99 1270.82,177.28 1271.64,174.95 1272.47,169.63 1273.29,174.59 1274.12,172.22 1274.94,173.94 1275.77,172.4 1276.59,167.54 1277.42,168.26 1278.24,170.81 1279.07,169 1279.89,170.2 1280.72,169.58 1281.54,169.33 1282.37,168.76 1283.19,165.65 1284.01,164.54 1284.84,164.23 1285.66,165.1 1286.49,167.14 1287.31,163.82 1288.14,165.15 1288.96,160.68 1289.79,160.86 1290.61,159.9 1291.44,161.79 1292.26,164.52 1293.09,157.81 1293.91,156.67 1294.74,162.25 1295.56,158.06 1296.38,155.12 1297.21,159.78 1298.03,152.72 1298.86,157.07 1299.68,158.23 1300.51,152.01 1301.33,153.99 1302.16,155.69 1302.98,151.56 1303.81,157.75 1304.63,148.26 1305.46,154.01 1306.28,150.85 1307.11,151.98 1307.93,149.44 1308.75,147.81 1309.58,151.46 1310.4,147 1311.23,149.13 1312.05,149.59 1312.88,147.92 1313.7,149.35 1314.53,148.32 1315.35,143.42 1316.18,145.67 1317,141.88 1317.83,143.16 1318.65,146.36 1319.48,148.09 1320.3,144.48" fill="none" stroke="#f60c14" stroke-width="3.4" stroke-linejoin="round" stroke-linecap="round" />
<polyline points="892.3,233 893.12,234.63 893.95,230.81 894.77,235.39 895.6,235.28 896.42,233.42 897.25,237.69 898.07,237.64 898.9,236.94 899.72,238.3 900.55,240.25 901.37,239.39 902.2,240.35 903.02,239.63 903.85,244.01 904.67,243.5 905.49,241.69 906.32,241.68 907.14,247.95 907.97,245.64 908.79,249.07 909.62,249.77 910.44,250.65 911.27,250.8 912.09,249.43 912.92,250.69 913.74,252.51 914.57,253.99 915.39,254.25 916.22,255.24 917.04,254.63 917.86,257.56 918.69,257.28 919.51,258.08 920.34,258.61 921.16,258.68 921.99,259.26 922.81,257.95 923.64,260.51 924.46,258.24 925.29,261.36 926.11,261.71 926.94,260.74 927.76,260.17 928.59,260.07 929.41,258.06 930.23,257.74 931.06,258.15 931.88,258.76 932.71,257.64 933.53,254.49 934.36,255.49 935.18,256.96 936.01,255.05 936.83,253.89 937.66,250.21 938.48,251.15 939.31,246.48 940.13,247.94 940.96,247.87 941.78,246.97 942.6,245.34 943.43,244.52 944.25,243.4 945.08,241.56 945.9,240.37 946.73,238.59 947.55,237.64 948.38,237.2 949.2,234.54 950.03,234.03 950.85,231.43 951.68,229.88 952.5,229.19 953.33,227.96 954.15,226.54 954.97,224.24 955.8,223.07 956.62,221.63 957.45,219.92 958.27,217.52 959.1,216.49 959.92,214.71 960.75,213.03 961.57,211.26 962.4,209.53 963.22,208.39 964.05,206.46 964.87,204.85 965.69,203.01 966.52,200.51 967.34,199.19 968.17,197.13 968.99,195.39 969.82,193.37 970.64,190.88 971.47,189.25 972.29,187.18 973.12,184.73 973.94,182.57 974.77,180.28 975.59,178.26 976.42,176.66 977.24,173.54 978.06,171.24 978.89,168.63 979.71,166.75 980.54,162.98 981.36,161.59 982.19,158.2 983.01,155.68 983.84,153.1 984.66,149.89 985.49,147.52 986.31,145.53 987.14,142.47 987.96,139.34 988.79,136.23 989.61,135 990.43,131.96 991.26,128.91 992.08,126.67 992.91,124.53 993.73,122.49 994.56,120.32 995.38,117.82 996.21,115.7 997.03,114.56 997.86,112.74 998.68,110.5 999.51,109.28 1000.33,108.06 1001.16,106.73 1001.98,105.81 1002.8,104.31 1003.63,103.17 1004.45,102.23 1005.28,102.2 1006.1,102.16 1006.93,102.32 1007.75,102.96 1008.58,104 1009.4,105.33 1010.23,108.15 1011.05,111.39 1011.88,113.85 1012.7,117.75 1013.53,121.94 1014.35,127.04 1015.17,132.52 1016,137.39 1016.82,144.03 1017.65,151.92 1018.47,159.67 1019.3,168.5 1020.12,177.45 1020.95,185.84 1021.77,196.13 1022.6,206.52 1023.42,216.08 1024.25,225.95 1025.07,234.43 1025.9,243.19 1026.72,251.73 1027.54,260.12 1028.37,266.9 1029.19,272.95 1030.02,277.39 1030.84,281.51 1031.67,283.17 1032.49,283.07 1033.32,283.69 1034.14,281.96 1034.97,278.65 1035.79,274.1 1036.62,268.48 1037.44,261.18 1038.27,253.65 1039.09,243.76 1039.91,236.11 1040.74,227.18 1041.56,218.85 1042.39,209.79 1043.21,201.45 1044.04,194.41 1044.86,188 1045.69,182.17 1046.51,177.36 1047.34,173 1048.16,168.6 1048.99,164.56 1049.81,160.69 1050.64,157.49 1051.46,154.76 1052.28,152.81 1053.11,150.35 1053.93,149 1054.76,147.58 1055.58,145.97 1056.41,145.29 1057.23,145.11 1058.06,145.87 1058.88,146.09 1059.71,147.04 1060.53,147.07 1061.36,147.84 1062.18,148.41 1063.01,149.82 1063.83,151.39 1064.65,152.07 1065.48,154.76 1066.3,156.58 1067.13,158.26 1067.95,160 1068.78,162.58 1069.6,165.02 1070.43,167.73 1071.25,169.37 1072.08,172.63 1072.9,175.3 1073.73,177.43 1074.55,180.03 1075.38,182.24 1076.2,184.16 1077.02,187.25 1077.85,189.62 1078.67,192.24 1079.5,194.68 1080.32,196.8 1081.15,199.33 1081.97,202.01 1082.8,204.52 1083.62,206.46 1084.45,208.25 1085.27,210.55 1086.1,212.56 1086.92,215.09 1087.75,216.03 1088.57,218.76 1089.39,220.52 1090.22,221.98 1091.04,223.57 1091.87,225.24 1092.69,227.12 1093.52,228.51 1094.34,230.08 1095.17,231.89 1095.99,232.67 1096.82,234.12 1097.64,235.01 1098.47,236.44 1099.29,237.27 1100.12,238.53 1100.94,239.59 1101.76,240.56 1102.59,241.75 1103.41,243 1104.24,243.36 1105.06,244.95 1105.89,245.38 1106.71,245.72 1107.54,246.74 1108.36,247 1109.19,248.11 1110.01,248.58 1110.84,248.73 1111.66,249.17 1112.48,249.47 1113.31,250.33 1114.13,250.6 1114.96,250.83 1115.78,251.19 1116.61,252.05 1117.43,252.01 1118.26,251.52 1119.08,252.64 1119.91,252.18 1120.73,252.73 1121.56,252.4 1122.38,253.17 1123.21,253.02 1124.03,253.86 1124.85,253.27 1125.68,252.97 1126.5,253.91 1127.33,253.01 1128.15,253.67 1128.98,253.44 1129.8,254.37 1130.63,253.05 1131.45,253.72 1132.28,253.61 1133.1,253.86 1133.93,253.76 1134.75,253.03 1135.58,253.6 1136.4,253.11 1137.22,253.48 1138.05,253.3 1138.87,253.59 1139.7,253.24 1140.52,252.44 1141.35,253.04 1142.17,253 1143,253.24 1143.82,252.64 1144.65,252.42 1145.47,253.38 1146.3,253.18 1147.12,251.92 1147.95,252.44 1148.77,252.52 1149.59,252.38 1150.42,252.24 1151.24,252.42 1152.07,252.9 1152.89,252.28 1153.72,253.2 1154.54,253.76 1155.37,254.91 1156.19,257.04 1157.02,259.65 1157.84,261.58 1158.67,262.98 1159.49,265.67 1160.32,266.21 1161.14,267.05 1161.96,268.73 1162.79,271.19 1163.61,273.49 1164.44,274.72 1165.26,275.8 1166.09,274.92 1166.91,271.92 1167.74,265.11 1168.56,254.27 1169.39,245.47 1170.21,236.09 1171.04,231.43 1171.86,230.59 1172.69,229.4 1173.51,229.87 1174.33,229.02 1175.16,229.2 1175.98,228.67 1176.81,228.27 1177.63,229.14 1178.46,226.95 1179.28,227.63 1180.11,226.35 1180.93,227.6 1181.76,225.91 1182.58,224.49 1183.41,225.69 1184.23,225.96 1185.06,224.71 1185.88,224.56 1186.7,224.42 1187.53,223.92 1188.35,223.84 1189.18,222.59 1190,222.78 1190.83,222.7 1191.65,220.86 1192.48,221.18 1193.3,218.35 1194.13,220.27 1194.95,220.16 1195.78,219.51 1196.6,218.21 1197.43,218.62 1198.25,218.59 1199.07,215.52 1199.9,217.53 1200.72,214.55 1201.55,215.25 1202.37,215.8 1203.2,212.78 1204.02,213.96 1204.85,214.17 1205.67,212.65 1206.5,210.97 1207.32,211 1208.15,210.33 1208.97,208.91 1209.8,209.87 1210.62,209.2 1211.44,209.28 1212.27,209.99 1213.09,208.2 1213.92,205.94 1214.74,208.82 1215.57,205.2 1216.39,205.8 1217.22,206.51 1218.04,205 1218.87,202.71 1219.69,204.66 1220.52,202.72 1221.34,201.84 1222.17,203.5 1222.99,201.35 1223.81,200.94 1224.64,201.52 1225.46,199.74 1226.29,200.38 1227.11,200.11 1227.94,200.33 1228.76,198 1229.59,198.4 1230.41,198.04 1231.24,198.2 1232.06,197.94 1232.89,196.77 1233.71,194.48 1234.54,195.77 1235.36,192.59 1236.18,193.29 1237.01,193.07 1237.83,194.19 1238.66,189.87 1239.48,193.46 1240.31,190.54 1241.13,188.6 1241.96,190.41 1242.78,190.5 1243.61,189.16 1244.43,187.47 1245.26,186.4 1246.08,186.83 1246.91,188.46 1247.73,187.45 1248.55,185.81 1249.38,187.23 1250.2,185.38 1251.03,181.62 1251.85,185.46 1252.68,182.02 1253.5,184.31 1254.33,183.02 1255.15,182.17 1255.98,183.62 1256.8,181.23 1257.63,178.83 1258.45,179.13 1259.27,178.66 1260.1,180.26 1260.92,178.87 1261.75,177.9 1262.57,176.76 1263.4,175.34 1264.22,178.19 1265.05,173.88 1265.87,176.25 1266.7,175.74 1267.52,176.67 1268.35,174.56 1269.17,174.34 1270,175.36 1270.82,173.52 1271.64,172.46 1272.47,172.8 1273.29,170.57 1274.12,172.82 1274.94,169.49 1275.77,170.66 1276.59,169.37 1277.42,172.31 1278.24,168.84 1279.07,168.69 1279.89,166.7 1280.72,169.55 1281.54,165.14 1282.37,168.53 1283.19,164.31 1284.01,165.04 1284.84,166.72 1285.66,161.61 1286.49,166.57 1287.31,164.49 1288.14,163.45 1288.96,162.5 1289.79,162.55 1290.61,161.18 1291.44,161.31 1292.26,161.58 1293.09,162.76 1293.91,161.36 1294.74,158.85 1295.56,161.9 1296.38,159.33 1297.21,162.58 1298.03,159.87 1298.86,161.04 1299.68,155.71 1300.51,160.58 1301.33,157.44 1302.16,155.34 1302.98,155.14 1303.81,154.43 1304.63,153.51 1305.46,154.14 1306.28,153.09 1307.11,154.26 1307.93,153.8 1308.75,156.51 1309.58,152.65 1310.4,150.27 1311.23,153.51 1312.05,153.89 1312.88,151.2 1313.7,148.89 1314.53,148.35 1315.35,152.95 1316.18,148.96 1317,150.62 1317.83,148.49 1318.65,152.86 1319.48,146.51 1320.3,148.6" fill="none" stroke="#0c0cf6" stroke-width="3.7" stroke-linejoin="round" stroke-linecap="round" />
<text x="0" y="0" class="s" font-size="32" fill="#1c1cf0" stroke="#1c1cf0" stroke-width="0.5" transform="translate(1001 306) scale(0.93 1)">TE</text><text x="1039.5" y="312.5" class="s" font-size="20" fill="#1c1cf0" stroke="#1c1cf0" stroke-width="0.4">1</text>
<text x="0" y="0" class="s" font-size="32" fill="#f01820" stroke="#f01820" stroke-width="0.5" transform="translate(1081 322.5) scale(0.93 1)">TM</text><text x="1124.5" y="329" class="s" font-size="20" fill="#f01820" stroke="#f01820" stroke-width="0.4">0</text>
<text x="0" y="0" class="s" font-size="32" fill="#1c1cf0" stroke="#1c1cf0" stroke-width="0.5" transform="translate(1150.5 305) scale(0.93 1)">TE</text><text x="1188.5" y="311.5" class="s" font-size="20" fill="#1c1cf0" stroke="#1c1cf0" stroke-width="0.4">0</text>
<line x1="1166" y1="88.5" x2="1215" y2="88.5" stroke="#0c0cf6" stroke-width="3" />
<line x1="1170" y1="122" x2="1218" y2="122" stroke="#f60c14" stroke-width="3" />
<text x="1229" y="97.5" class="s" font-size="30" fill="#1a1a1a">Exp. X</text>
<text x="1231" y="131" class="s" font-size="30" fill="#1a1a1a">Exp. Y</text>
</g>
<g id="pc">
<rect x="1489" y="38.8" width="560.7" height="359" fill="none" stroke="#5a5a5a" stroke-width="1.5"/>
<line x1="1606.6" y1="397.8" x2="1606.6" y2="392.8" stroke="#5a5a5a" stroke-width="1.5" />
<line x1="1606.6" y1="38.8" x2="1606.6" y2="43.8" stroke="#5a5a5a" stroke-width="1.5" />
<line x1="1754.3" y1="397.8" x2="1754.3" y2="392.8" stroke="#5a5a5a" stroke-width="1.5" />
<line x1="1754.3" y1="38.8" x2="1754.3" y2="43.8" stroke="#5a5a5a" stroke-width="1.5" />
<line x1="1902" y1="397.8" x2="1902" y2="392.8" stroke="#5a5a5a" stroke-width="1.5" />
<line x1="1902" y1="38.8" x2="1902" y2="43.8" stroke="#5a5a5a" stroke-width="1.5" />
<line x1="1489" y1="309.25" x2="1495" y2="309.25" stroke="#5a5a5a" stroke-width="1.5" />
<line x1="2049.7" y1="309.25" x2="2043.7" y2="309.25" stroke="#5a5a5a" stroke-width="1.5" />
<line x1="1489" y1="219.1" x2="1495" y2="219.1" stroke="#5a5a5a" stroke-width="1.5" />
<line x1="2049.7" y1="219.1" x2="2043.7" y2="219.1" stroke="#5a5a5a" stroke-width="1.5" />
<line x1="1489" y1="128.95" x2="1495" y2="128.95" stroke="#5a5a5a" stroke-width="1.5" />
<line x1="2049.7" y1="128.95" x2="2043.7" y2="128.95" stroke="#5a5a5a" stroke-width="1.5" />
<text x="0" y="0" class="s" font-size="33.5" fill="#2a2a2a" text-anchor="end"  transform="translate(1479 321.05) scale(0.94 1)">1000</text>
<text x="0" y="0" class="s" font-size="33.5" fill="#2a2a2a" text-anchor="end"  transform="translate(1479 230.9) scale(0.94 1)">2000</text>
<text x="0" y="0" class="s" font-size="33.5" fill="#2a2a2a" text-anchor="end"  transform="translate(1479 140.75) scale(0.94 1)">3000</text>
<text x="0" y="0" class="s" font-size="33.5" fill="#2a2a2a" text-anchor="end"  transform="translate(1479 50.6) scale(0.94 1)">4000</text>
<text x="0" y="0" class="s" font-size="33.5" fill="#2a2a2a" text-anchor="middle"  transform="translate(1473 430.3) scale(0.94 1)">0</text>
<text x="0" y="0" class="s" font-size="33.5" fill="#2a2a2a" text-anchor="middle"  transform="translate(1612.2 430.3) scale(0.94 1)">700</text>
<text x="0" y="0" class="s" font-size="33.5" fill="#2a2a2a" text-anchor="middle"  transform="translate(1760.3 430.3) scale(0.94 1)">750</text>
<text x="0" y="0" class="s" font-size="33.5" fill="#2a2a2a" text-anchor="middle"  transform="translate(1908 430.3) scale(0.94 1)">800</text>
<text x="0" y="0" class="s" font-size="33.5" fill="#2a2a2a" text-anchor="middle"  transform="translate(2056 430.3) scale(0.94 1)">850</text>
<text x="1760" y="477" class="s" font-size="39.2" fill="#2a2a2a" text-anchor="middle">Wavelength (nm)</text>
<text x="1397" y="199" class="s" font-size="39" fill="#2a2a2a" text-anchor="middle" transform="rotate(-90 1397 199)">Intensity (counts)</text>
<text x="1495.5" y="87.5" class="r" font-size="60.5" fill="#111" stroke="#111" stroke-width="0.9">(c)</text>
<g>
<rect x="1807" y="141" width="208" height="195" fill="url(#cins)" />
<g filter="url(#b3)"><clipPath id="cc1"><rect x="1807" y="141" width="208" height="195"/></clipPath><g clip-path="url(#cc1)">
<polygon points="1927,141 2016,141 2016,336 1942,336" fill="url(#cins2)"/>
<polygon points="1933,222 1948,208 1975,205 2016,236 2016,336 1942,336" fill="#4a64ac"/>
</g></g>
<line x1="1926.5" y1="141" x2="1942" y2="336" stroke="#222238" stroke-width="1.6" stroke-dasharray="2.5 4.5"/>
<text x="0" y="0" class="s" font-size="17.5" fill="#1c1c3a"  transform="translate(1822 178) scale(1.1 1)">Off grating</text>
<text x="0" y="0" class="s" font-size="17.5" fill="#1c1c3a"  transform="translate(1940 180) scale(1.1 1)">Grating</text>
<text x="0" y="0" class="s" font-size="20.5" fill="#1c1c3a"  transform="translate(1826 269) scale(1.12 1)">WSe</text><text x="1877" y="273.8" class="s" font-size="12.5" fill="#1c1c3a">2</text><text x="0" y="0" class="s" font-size="20.5" fill="#1c1c3a"  transform="translate(1890.5 269) scale(1.1 1)">monolayer</text>
<text x="0" y="0" class="s" font-size="14.5" fill="#1c1c3a"  transform="translate(1828 312) scale(1.15 1)">5μm</text>
<rect x="1812" y="321.5" width="68" height="9.5" fill="#2a3cf0" />
</g>
<polyline points="1485.49,397.01 1486.62,396.81 1487.75,397.94 1488.88,395.89 1490.02,397.75 1491.15,397.23 1492.28,396.5 1493.41,397.44 1494.55,397.34 1495.68,397.26 1496.81,396.46 1497.94,395.52 1499.08,396.73 1500.21,397.36 1501.34,396.46 1502.47,397.07 1503.61,396.75 1504.74,396.1 1505.87,397.14 1507,396.72 1508.14,397.2 1509.27,396.8 1510.4,396.58 1511.53,397.25 1512.67,396.89 1513.8,396.83 1514.93,397.04 1516.06,397.33 1517.2,397.45 1518.33,396.76 1519.46,396.82 1520.59,395.46 1521.72,397.98 1522.86,396.6 1523.99,396.45 1525.12,395.91 1526.25,396.37 1527.39,397.09 1528.52,396.62 1529.65,396.32 1530.78,396.78 1531.92,396.19 1533.05,397.61 1534.18,395.65 1535.31,395.79 1536.45,396.75 1537.58,396.23 1538.71,396.53 1539.84,397 1540.98,396.49 1542.11,395.99 1543.24,396.73 1544.37,396.72 1545.51,396.54 1546.64,396.26 1547.77,395.79 1548.9,396.81 1550.04,396.18 1551.17,396.32 1552.3,397.43 1553.43,396.63 1554.57,396.46 1555.7,396.39 1556.83,396.17 1557.96,397.43 1559.1,396.28 1560.23,396.65 1561.36,397.04 1562.49,395.95 1563.63,395.81 1564.76,396.54 1565.89,395.7 1567.02,396.33 1568.16,396.06 1569.29,396.66 1570.42,395.18 1571.55,397.44 1572.69,396.01 1573.82,395.55 1574.95,396.99 1576.08,395.95 1577.22,395.85 1578.35,395.32 1579.48,395.05 1580.61,395.9 1581.75,396.39 1582.88,394.85 1584.01,394.88 1585.14,395.72 1586.28,395.21 1587.41,395.12 1588.54,394.93 1589.67,395.03 1590.81,394.27 1591.94,395.86 1593.07,394.24 1594.2,394.47 1595.34,394.66 1596.47,393.77 1597.6,395.52 1598.73,393.47 1599.86,393.73 1601,394.38 1602.13,393.36 1603.26,393.57 1604.39,391.82 1605.53,392.04 1606.66,392.59 1607.79,393.01 1608.92,392.73 1610.06,392.37 1611.19,392.28 1612.32,392.23 1613.45,391.81 1614.59,391.35 1615.72,391.16 1616.85,390.91 1617.98,390.67 1619.12,388.38 1620.25,390.13 1621.38,389.44 1622.51,388.18 1623.65,388.09 1624.78,387.17 1625.91,386.43 1627.04,385.63 1628.18,385.33 1629.31,385.69 1630.44,383.95 1631.57,384.89 1632.71,383.37 1633.84,382.94 1634.97,382.6 1636.1,381.05 1637.24,380.8 1638.37,379.47 1639.5,380.13 1640.63,378.15 1641.77,377.6 1642.9,377.03 1644.03,377.07 1645.16,375.62 1646.3,375.48 1647.43,374.89 1648.56,371.08 1649.69,371.39 1650.83,369.98 1651.96,370.17 1653.09,368.52 1654.22,367.43 1655.36,366.36 1656.49,365.52 1657.62,364.44 1658.75,364.19 1659.89,361.45 1661.02,360.21 1662.15,358.45 1663.28,357.77 1664.42,355.19 1665.55,354.82 1666.68,353.51 1667.81,350.35 1668.95,348.95 1670.08,347.02 1671.21,343.77 1672.34,340.77 1673.48,338.27 1674.61,335.24 1675.74,330.31 1676.87,329.04 1678.01,325.55 1679.14,324.31 1680.27,319.88 1681.4,316.5 1682.53,313.97 1683.67,311.14 1684.8,307.39 1685.93,304.72 1687.06,301.79 1688.2,297.74 1689.33,294.49 1690.46,291.83 1691.59,288.96 1692.73,285.06 1693.86,281.43 1694.99,277.96 1696.12,275.39 1697.26,270.95 1698.39,266.59 1699.52,262.3 1700.65,257.74 1701.79,253.25 1702.92,249.44 1704.05,244.16 1705.18,239.18 1706.32,232.09 1707.45,227.32 1708.58,221.28 1709.71,214.96 1710.85,209.2 1711.98,202.77 1713.11,195.19 1714.24,187.64 1715.38,179.21 1716.51,171.97 1717.64,165.47 1718.77,156.92 1719.91,149.1 1721.04,141.97 1722.17,132.88 1723.3,124.5 1724.44,112.72 1725.57,101.77 1726.7,91.02 1727.83,80.05 1728.97,70.18 1730.1,61.37 1731.23,52.62 1732.36,46.62 1733.5,43.6 1734.63,40.29 1735.76,37.43 1736.89,39.23 1738.03,42.28 1739.16,45.35 1740.29,50.8 1741.42,56.98 1742.56,66.43 1743.69,75.23 1744.82,85.47 1745.95,96.87 1747.09,107.94 1748.22,119.32 1749.35,129.62 1750.48,138.61 1751.62,146.58 1752.75,155.58 1753.88,160.9 1755.01,170.37 1756.15,177.06 1757.28,185.29 1758.41,193.14 1759.54,199.37 1760.68,206.5 1761.81,213.08 1762.94,218.92 1764.07,225.46 1765.2,230.64 1766.34,236.1 1767.47,241.9 1768.6,247 1769.73,251.48 1770.87,256.43 1772,260.85 1773.13,266.45 1774.26,269.18 1775.4,272.9 1776.53,276.93 1777.66,280.29 1778.79,282.95 1779.93,287.34 1781.06,290.34 1782.19,294.4 1783.32,297.58 1784.46,300.5 1785.59,303.88 1786.72,306.4 1787.85,309.95 1788.99,312.63 1790.12,316.44 1791.25,319.72 1792.38,322.35 1793.52,325.71 1794.65,328.61 1795.78,331.66 1796.91,334.53 1798.05,336.7 1799.18,339.35 1800.31,342.41 1801.44,345.56 1802.58,346.97 1803.71,350.85 1804.84,353.17 1805.97,353.77 1807.11,355.53 1808.24,357.11 1809.37,358.47 1810.5,360.79 1811.64,361.88 1812.77,361.9 1813.9,363.28 1815.03,365.44 1816.17,365.19 1817.3,367.95 1818.43,368.78 1819.56,369.37 1820.7,371.2 1821.83,371.8 1822.96,372.58 1824.09,373.62 1825.23,373.83 1826.36,374.84 1827.49,376.58 1828.62,377.16 1829.76,377.47 1830.89,378.35 1832.02,379.47 1833.15,379.52 1834.29,380 1835.42,381.45 1836.55,381.34 1837.68,383.29 1838.82,383.93 1839.95,383.42 1841.08,384.76 1842.21,385.46 1843.35,385.65 1844.48,386.45 1845.61,386.47 1846.74,387.98 1847.87,387.91 1849.01,386.51 1850.14,388.64 1851.27,390.19 1852.4,389.27 1853.54,389.71 1854.67,389.64 1855.8,390.67 1856.93,391.43 1858.07,390.62 1859.2,391.26 1860.33,392.86 1861.46,391.7 1862.6,392.45 1863.73,391.94 1864.86,392.95 1865.99,392.52 1867.13,393.04 1868.26,393.02 1869.39,393.53 1870.52,393.92 1871.66,393.83 1872.79,393.69 1873.92,393.97 1875.05,393.47 1876.19,394.26 1877.32,394.28 1878.45,393.62 1879.58,394.84 1880.72,394.7 1881.85,395.42 1882.98,395.18 1884.11,394.4 1885.25,395.2 1886.38,394.66 1887.51,396.09 1888.64,396.33 1889.78,395.45 1890.91,396.41 1892.04,394.27 1893.17,395.08 1894.31,396.47 1895.44,395.93 1896.57,396.19 1897.7,395.69 1898.84,395.98 1899.97,395.48 1901.1,395.23 1902.23,396.17 1903.37,396.72 1904.5,395.81 1905.63,396.23 1906.76,395.55 1907.9,396.28 1909.03,395.78 1910.16,396.07 1911.29,396.38 1912.43,396.54 1913.56,395.94 1914.69,394.97 1915.82,395.91 1916.96,396.45 1918.09,396.02 1919.22,396.36 1920.35,397.13 1921.49,396.28 1922.62,395.62 1923.75,396.65 1924.88,397.1 1926.02,396.23 1927.15,395.52 1928.28,396.01 1929.41,395.98 1930.54,395.29 1931.68,395.67 1932.81,396.17 1933.94,396.67 1935.07,396.49 1936.21,396.63 1937.34,396.13 1938.47,397.07 1939.6,395.76 1940.74,396.53 1941.87,396.83 1943,396.18 1944.13,397.75 1945.27,397.09 1946.4,397 1947.53,396.2 1948.66,396.92 1949.8,395.89 1950.93,396.91 1952.06,396.39 1953.19,397.06 1954.33,396.06 1955.46,396.83 1956.59,396.41 1957.72,396.97 1958.86,397.29 1959.99,396.83 1961.12,396.12 1962.25,397.27 1963.39,397.55 1964.52,396.89 1965.65,396.31 1966.78,397.31 1967.92,397.03 1969.05,396.64 1970.18,396.93 1971.31,396.59 1972.45,396.11 1973.58,396.74 1974.71,396.79 1975.84,396.35 1976.98,396.8 1978.11,397.28 1979.24,397.32 1980.37,397.38 1981.51,395.74 1982.64,396.8 1983.77,396.47 1984.9,396.39 1986.04,397.29 1987.17,396.45 1988.3,397.09 1989.43,397.92 1990.57,396.91 1991.7,397.37 1992.83,396.98 1993.96,396.61 1995.1,395.56 1996.23,397.07 1997.36,396.89 1998.49,396.6 1999.63,396.7 2000.76,396.89 2001.89,397.39 2003.02,397.33 2004.16,396.91 2005.29,397.44 2006.42,397.17 2007.55,397.49 2008.68,396.21 2009.82,397.63 2010.95,395.79 2012.08,397.14 2013.21,397.39 2014.35,397.46 2015.48,396.4 2016.61,396.27 2017.74,397.29 2018.88,396.65 2020.01,396.91 2021.14,396.96 2022.27,396.75 2023.41,396.42 2024.54,397.87 2025.67,398.04 2026.8,396.73 2027.94,396.88 2029.07,396.47 2030.2,397.77 2031.33,397.38 2032.47,396.01 2033.6,397.55 2034.73,396.65 2035.86,397.28 2037,397.07 2038.13,397.6 2039.26,396.21 2040.39,397.88 2041.53,397.5 2042.66,397.35 2043.79,396.22 2044.92,396.69 2046.06,396.49 2047.19,396.87 2048.32,396.73 2049.45,396.59 2050.59,396.02" fill="none" stroke="#f60c14" stroke-width="3.6" stroke-linejoin="round" stroke-linecap="round" />
<polyline points="1602.17,397.82 1603.33,398.49 1604.49,397.4 1605.65,397.8 1606.81,398.25 1607.97,397.84 1609.13,398.12 1610.29,396.83 1611.46,397.77 1612.62,398.39 1613.78,397.4 1614.94,397.8 1616.1,396.88 1617.26,397.28 1618.42,397.99 1619.58,397.4 1620.74,397.57 1621.9,397.36 1623.06,397.23 1624.23,397.7 1625.39,396.72 1626.55,397.07 1627.71,396.99 1628.87,396.23 1630.03,395.67 1631.19,396.6 1632.35,395.52 1633.51,396.99 1634.67,395.82 1635.83,396.19 1636.99,395.87 1638.16,396.13 1639.32,395.85 1640.48,395.61 1641.64,395.49 1642.8,395.04 1643.96,394.11 1645.12,395.16 1646.28,394.81 1647.44,395.29 1648.6,395.43 1649.76,393.66 1650.92,394.58 1652.09,394.15 1653.25,393.65 1654.41,393.08 1655.57,393.11 1656.73,392.27 1657.89,392.88 1659.05,393.31 1660.21,392.28 1661.37,392.05 1662.53,392.18 1663.69,391.73 1664.86,391.58 1666.02,390.36 1667.18,391.02 1668.34,391.01 1669.5,389.98 1670.66,390.45 1671.82,389.15 1672.98,388.74 1674.14,388.82 1675.3,388.25 1676.46,387.81 1677.62,386.44 1678.79,386.45 1679.95,386.58 1681.11,386.05 1682.27,384.99 1683.43,384.36 1684.59,384.04 1685.75,382.96 1686.91,382.49 1688.07,381.29 1689.23,380.87 1690.39,380.39 1691.55,379.59 1692.72,379.29 1693.88,377.84 1695.04,377.29 1696.2,376.85 1697.36,375.85 1698.52,375.31 1699.68,373.26 1700.84,373.62 1702,372.37 1703.16,371.56 1704.32,371.12 1705.48,369.84 1706.65,368.97 1707.81,367.71 1708.97,366.66 1710.13,365.4 1711.29,364.34 1712.45,363.79 1713.61,362.84 1714.77,361.88 1715.93,360.99 1717.09,360.36 1718.25,358.42 1719.42,357.74 1720.58,356.86 1721.74,356.58 1722.9,355.69 1724.06,355.28 1725.22,353.45 1726.38,352.31 1727.54,351.55 1728.7,351.13 1729.86,350.97 1731.02,350.13 1732.18,349.88 1733.35,349.38 1734.51,349.18 1735.67,349.47 1736.83,349.3 1737.99,349 1739.15,349.17 1740.31,349.55 1741.47,350.53 1742.63,350.13 1743.79,349.75 1744.95,350.43 1746.11,350.66 1747.28,351.87 1748.44,352.47 1749.6,353.01 1750.76,353.9 1751.92,354.85 1753.08,355.38 1754.24,356.15 1755.4,357.05 1756.56,359.24 1757.72,359.75 1758.88,360.69 1760.04,361.7 1761.21,363.2 1762.37,363 1763.53,364.97 1764.69,365.57 1765.85,367.64 1767.01,367.92 1768.17,368.85 1769.33,370.13 1770.49,370.41 1771.65,370.66 1772.81,372.85 1773.98,373.71 1775.14,373.49 1776.3,374.79 1777.46,375.95 1778.62,377.13 1779.78,377.08 1780.94,378.04 1782.1,378.23 1783.26,379.94 1784.42,380.36 1785.58,381.1 1786.74,381.75 1787.91,381.92 1789.07,382.67 1790.23,383.92 1791.39,384.33 1792.55,385 1793.71,385.13 1794.87,386.12 1796.03,387.02 1797.19,387.19 1798.35,387.54 1799.51,387.61 1800.67,387.91 1801.84,388.34 1803,389.13 1804.16,389.89 1805.32,389.82 1806.48,390.49 1807.64,390.99 1808.8,390.92 1809.96,391.15 1811.12,391.22 1812.28,392.19 1813.44,392.75 1814.61,392.11 1815.77,392.95 1816.93,392.38 1818.09,393.45 1819.25,393.46 1820.41,394.17 1821.57,392.81 1822.73,394.02 1823.89,394.06 1825.05,394.43 1826.21,394.49 1827.37,394.23 1828.54,394.69 1829.7,394.9 1830.86,394.57 1832.02,395.75 1833.18,394.88 1834.34,394.83 1835.5,396.17 1836.66,395.61 1837.82,396.36 1838.98,396.8 1840.14,396.39 1841.3,395.94 1842.47,395.94 1843.63,396.5 1844.79,396.79 1845.95,396.71 1847.11,396.92 1848.27,396.97 1849.43,397.78 1850.59,396.98 1851.75,397.02 1852.91,396.16 1854.07,396.85 1855.23,397.26 1856.4,397.24 1857.56,397.21 1858.72,397.69 1859.88,398.31 1861.04,397.82 1862.2,397.68 1863.36,397.59 1864.52,397.98 1865.68,398.11 1866.84,397.88 1868,397.79 1869.17,397.61 1870.33,397.97 1871.49,397.73 1872.65,398.34 1873.81,397.63 1874.97,398.01 1876.13,398.56 1877.29,398.13 1878.45,398.01 1879.61,398.51 1880.77,397.81 1881.93,398.26 1883.1,397.96 1884.26,398.57 1885.42,398.06 1886.58,397.91 1887.74,398.4 1888.9,398.32 1890.06,398.49 1891.22,398.14 1892.38,398.28 1893.54,398.11 1894.7,398.35 1895.86,398.86 1897.03,398.89 1898.19,398.55 1899.35,398.19 1900.51,397.48 1901.67,398.05 1902.83,398.67 1903.99,399.25 1905.15,398.23 1906.31,398.44 1907.47,398.95 1908.63,398.1 1909.8,398.47 1910.96,398.65 1912.12,399.27 1913.28,398.11 1914.44,398.48 1915.6,398.61 1916.76,398.91 1917.92,398.67 1919.08,398.03 1920.24,398.32 1921.4,397.73 1922.56,398.11 1923.73,398.41 1924.89,398.19 1926.05,398.49 1927.21,399.15 1928.37,398.82 1929.53,398.44 1930.69,398.96 1931.85,398.8 1933.01,399.1 1934.17,397.91 1935.33,399.13 1936.49,399.03 1937.66,398.97 1938.82,398.22 1939.98,398.16 1941.14,398.85 1942.3,398.39 1943.46,398.99 1944.62,398.63 1945.78,397.58 1946.94,398.26 1948.1,398.66 1949.26,399.18" fill="none" stroke="#0c0cf6" stroke-width="3.6" stroke-linejoin="round" stroke-linecap="round" />
<line x1="1782" y1="73.5" x2="1857" y2="73.5" stroke="#f60c14" stroke-width="3.4" />
<line x1="1782" y1="108" x2="1857" y2="108" stroke="#0c0cf6" stroke-width="3.4" />
<text x="0" y="0" class="s" font-size="32.5" fill="#1a1a1a"  transform="translate(1866 86) scale(0.965 1)">On grating</text>
<text x="0" y="0" class="s" font-size="32.5" fill="#1a1a1a"  transform="translate(1866 121.5) scale(0.965 1)">Off grating</text>
</g>
<g id="pd">
<text x="2.5" y="485.5" class="r" font-size="61" fill="#111">(d)</text>
<clipPath id="dc1"><rect x="336.3" y="615.7" width="317.8" height="178.8"/></clipPath>
<g clip-path="url(#dc1)">
<rect x="336.3" y="615.7" width="317.8" height="178.8" fill="url(#dbg)" />
<rect x="336.3" y="700" width="317.8" height="95" fill="url(#dglow)" />
<g filter="url(#b4)">
<ellipse cx="403.3" cy="701" rx="55.1" ry="24.3" fill="#e83810" opacity="0.55" filter="url(#b5)"/><path d="M349.3,673.5 L349.3,696 A58,27 0 0 0 465.3,696 L465.3,673.5 Z" fill="url(#dside)"/><path d="M349.3,693 A58,27 0 0 0 465.3,693" fill="none" stroke="#e04428" stroke-width="1.6" opacity="0.8"/><ellipse cx="407.3" cy="673.5" rx="58" ry="27" fill="#d43c26"/><ellipse cx="407.3" cy="674" rx="54.5" ry="24.5" fill="#b0261a"/>
<ellipse cx="534.2" cy="732.6" rx="67.45" ry="29.07" fill="#e83810" opacity="0.55" filter="url(#b5)"/><path d="M467.2,696.6 L467.2,727.6 A71,32.3 0 0 0 609.2,727.6 L609.2,696.6 Z" fill="url(#dside2)"/><path d="M467.2,724.6 A71,32.3 0 0 0 609.2,724.6" fill="none" stroke="#e04428" stroke-width="1.6" opacity="0.8"/><ellipse cx="538.2" cy="696.6" rx="71" ry="32.3" fill="#d43c26"/><ellipse cx="538.2" cy="697.1" rx="67.5" ry="29.8" fill="#b0261a"/>
</g>
<line x1="465.5" y1="692.8" x2="536.1" y2="687.3" stroke="#f4e8e0" stroke-width="2.4" />
<text x="340.5" y="639.4" class="s" font-size="23" fill="#fbf3ec" font-weight="bold">a</text>
<text x="589" y="649" class="s" font-size="21" fill="#fbf3ec" stroke="#fbf3ec" stroke-width="0.5">GaP</text>
<text x="465.5" y="666" class="s" font-size="21" fill="#fbf3ec" font-weight="bold">g</text>
<text x="496" y="681.6" class="s" font-size="21" fill="#fbf3ec" font-weight="bold">r</text>
<line x1="617" y1="704" x2="610.4" y2="733" stroke="#fbf3ec" stroke-width="2" />
<text x="617.5" y="720.4" class="s" font-size="13.5" fill="#fbf3ec" stroke="#fbf3ec" stroke-width="0.4">200</text>
<text x="619" y="734" class="s" font-size="13.5" fill="#fbf3ec" stroke="#fbf3ec" stroke-width="0.4">nm</text>
</g>
<clipPath id="dclip"><rect x="124.1" y="505.8" width="539.4" height="543.2"/></clipPath>
<polyline points="123.56,1018.19 124.29,1019.44 125.01,1019.14 125.73,1018.89 126.45,1019.56 127.17,1019.05 127.9,1019 128.62,1019.97 129.34,1018.29 130.06,1018.45 130.78,1019.09 131.51,1018.73 132.23,1018.24 132.95,1018.59 133.67,1018.47 134.39,1019.06 135.12,1017.77 135.84,1017.89 136.56,1017.68 137.28,1018.59 138,1016.6 138.73,1017.33 139.45,1017.49 140.17,1015.94 140.89,1016.99 141.61,1017.65 142.34,1016.88 143.06,1017.82 143.78,1015.71 144.5,1016.39 145.23,1016.41 145.95,1015.19 146.67,1016.6 147.39,1015.16 148.11,1016.5 148.84,1015.51 149.56,1015.64 150.28,1013.89 151,1013.51 151.72,1014.52 152.45,1013.62 153.17,1013.99 153.89,1013.31 154.61,1013.83 155.33,1014.13 156.06,1013.91 156.78,1012.36 157.5,1010.98 158.22,1011.83 158.94,1011.98 159.67,1010.24 160.39,1010.88 161.11,1010.61 161.83,1010.17 162.55,1010.02 163.28,1009.74 164,1010.01 164.72,1008.47 165.44,1008.4 166.16,1007.22 166.89,1007.69 167.61,1008.13 168.33,1006.61 169.05,1005.08 169.77,1005.79 170.5,1005.58 171.22,1005.23 171.94,1004.61 172.66,1003.62 173.38,1003.51 174.11,1001.25 174.83,1001.51 175.55,1000.43 176.27,998.74 176.99,997.72 177.72,997.68 178.44,996.27 179.16,994.9 179.88,994.26 180.6,993.97 181.33,991.29 182.05,989.87 182.77,988.84 183.49,988.29 184.22,986.52 184.94,985.4 185.66,983.86 186.38,981.57 187.1,980.06 187.83,979.13 188.55,977.69 189.27,976.03 189.99,974.77 190.71,973.1 191.44,971.69 192.16,969.54 192.88,966.37 193.6,965.34 194.32,964.2 195.05,962.42 195.77,960.81 196.49,958.27 197.21,956.46 197.93,955.77 198.66,952.94 199.38,951.87 200.1,948.97 200.82,947.93 201.54,945.21 202.27,944.67 202.99,942.77 203.71,940.66 204.43,938.49 205.15,937.11 205.88,936.58 206.6,934.27 207.32,932.99 208.04,932.01 208.76,931.05 209.49,928.6 210.21,928.78 210.93,927.98 211.65,926.11 212.37,925.46 213.1,924.75 213.82,923.55 214.54,923.19 215.26,922.94 215.98,922.48 216.71,923 217.43,923.84 218.15,924.16 218.87,924.85 219.59,925.12 220.32,926.64 221.04,927.9 221.76,927.61 222.48,929.25 223.21,930.4 223.93,929.91 224.65,931.5 225.37,931.82 226.09,933.52 226.82,935.02 227.54,936.29 228.26,937.1 228.98,938.22 229.7,939.81 230.43,940.78 231.15,942.78 231.87,943.12 232.59,945.4 233.31,945.65 234.04,946.26 234.76,947.11 235.48,947.76 236.2,950.65 236.92,950.28 237.65,951 238.37,952.09 239.09,954.16 239.81,954.32 240.53,954.41 241.26,957.29 241.98,957.06 242.7,957.59 243.42,959.55 244.14,959.69 244.87,961.53 245.59,962.25 246.31,963.11 247.03,963.37 247.75,964.38 248.48,964.6 249.2,966.53 249.92,966.87 250.64,967.04 251.36,968.06 252.09,969.95 252.81,969.56 253.53,970.99 254.25,971.25 254.97,972.05 255.7,972.26 256.42,973.65 257.14,975.54 257.86,976 258.58,975.51 259.31,976.82 260.03,976.73 260.75,977.96 261.47,979.27 262.2,978.9 262.92,980.7 263.64,982.11 264.36,980.39 265.08,983.38 265.81,982.55 266.53,983.02 267.25,984.11 267.97,985.79 268.69,984.82 269.42,986.84 270.14,987.36 270.86,987.34 271.58,987.21 272.3,988.01 273.03,988.22 273.75,989.43 274.47,989.74 275.19,990.77 275.91,990.76 276.64,990.69 277.36,991.66 278.08,991.65 278.8,992.71 279.52,993.15 280.25,993.22 280.97,993.78 281.69,993.74 282.41,994.39 283.13,993.89 283.86,995.44 284.58,995.84 285.3,996.7 286.02,996.47 286.74,996.46 287.47,997.67 288.19,997.63 288.91,997.55 289.63,998.39 290.35,998.97 291.08,998.45 291.8,999.29 292.52,999.45 293.24,999.32 293.96,999.66 294.69,1000.84 295.41,1001.25 296.13,1001.08 296.85,1001.62 297.57,1002.93 298.3,1001.36 299.02,1002.37 299.74,1002.22 300.46,1003.59 301.19,1002.41 301.91,1003.75 302.63,1003.71 303.35,1004.7 304.07,1004.21 304.8,1004.48 305.52,1004.68 306.24,1004.54 306.96,1004.98 307.68,1004.67 308.41,1005.73 309.13,1006.25 309.85,1005.89 310.57,1005.72 311.29,1005.57 312.02,1006.02 312.74,1007.72 313.46,1006.67 314.18,1006.24 314.9,1007.24 315.63,1007.77 316.35,1007.48 317.07,1008.14 317.79,1007.65 318.51,1008.21 319.24,1007.57 319.96,1008.27 320.68,1009.16 321.4,1008.55 322.12,1008.53 322.85,1009.57 323.57,1009.66 324.29,1010.91 325.01,1009.21 325.73,1010.23 326.46,1011.28 327.18,1011.23 327.9,1010.48 328.62,1010.06 329.34,1010.7 330.07,1010.52 330.79,1011.59 331.51,1011.87 332.23,1010.71 332.95,1011.08 333.68,1011.52 334.4,1010.89 335.12,1012.33 335.84,1012.15 336.56,1011.44 337.29,1011.09 338.01,1012.29 338.73,1011.44 339.45,1012.89 340.18,1012.47 340.9,1012.89 341.62,1013.83 342.34,1012.87 343.06,1012.6 343.79,1013.34 344.51,1013.42 345.23,1012.68 345.95,1014.34 346.67,1014.6 347.4,1014.22 348.12,1014.65 348.84,1013.28 349.56,1014 350.28,1014.79 351.01,1014.76 351.73,1012.84 352.45,1014.97 353.17,1015.17 353.89,1014.65 354.62,1014.56 355.34,1014.91 356.06,1015.67 356.78,1015.92 357.5,1015 358.23,1015.48 358.95,1016.5 359.67,1014.96 360.39,1015.29 361.11,1015.97 361.84,1016.08 362.56,1015.88 363.28,1016.51 364,1016.98 364.72,1016.1 365.45,1017.21 366.17,1016.23 366.89,1017.38 367.61,1016.68 368.33,1016.78 369.06,1015.74 369.78,1017.47 370.5,1017.75 371.22,1017.38 371.94,1017.73 372.67,1017.48 373.39,1016.96 374.11,1016.82 374.83,1016.37 375.55,1017.83 376.28,1015.92 377,1016.36 377.72,1017.69 378.44,1018.96 379.17,1017.72 379.89,1017.68 380.61,1019.11 381.33,1017.77 382.05,1017.98 382.78,1018.37 383.5,1017.59 384.22,1017.42 384.94,1018.33 385.66,1017.96 386.39,1018.52 387.11,1018.64 387.83,1018.18 388.55,1017.97 389.27,1018.65 390,1019.65 390.72,1018.06 391.44,1019.37 392.16,1018.41 392.88,1017.49 393.61,1018.57 394.33,1019.29 395.05,1019.49 395.77,1017.99 396.49,1018.72 397.22,1018.43 397.94,1018.24 398.66,1018.84 399.38,1019.02 400.1,1019.42 400.83,1020.7 401.55,1019.81 402.27,1019 402.99,1019.08 403.71,1018.77 404.44,1019.1 405.16,1018.96 405.88,1018.61 406.6,1019.6 407.32,1019.27 408.05,1020.06 408.77,1018.57 409.49,1019.12 410.21,1018.87 410.93,1018.27 411.66,1018.55" fill="none" stroke="#f0464a" stroke-width="10.2" stroke-linejoin="round" stroke-linecap="round" opacity="0.96" clip-path="url(#dclip)"/>
<polyline points="123.56,1020.18 124.33,1019.63 125.1,1020.88 125.87,1019.74 126.64,1019.85 127.4,1020.82 128.17,1019.05 128.94,1020.18 129.71,1019.31 130.48,1019.9 131.24,1019.01 132.01,1018.77 132.78,1019.96 133.55,1020.3 134.32,1019.43 135.08,1018.79 135.85,1019.44 136.62,1019.52 137.39,1018.81 138.15,1020.64 138.92,1019.35 139.69,1019.7 140.46,1018.65 141.23,1019.19 141.99,1019.34 142.76,1018.83 143.53,1019.4 144.3,1018.49 145.07,1018.8 145.83,1018.55 146.6,1018.68 147.37,1017.66 148.14,1018.18 148.91,1017.74 149.67,1017.69 150.44,1018.37 151.21,1017.5 151.98,1017.56 152.75,1017.52 153.51,1017.86 154.28,1017.81 155.05,1017.03 155.82,1016.15 156.59,1017.83 157.35,1016.97 158.12,1017.42 158.89,1016.67 159.66,1016.8 160.42,1016.35 161.19,1018.52 161.96,1017.16 162.73,1017.3 163.5,1016.69 164.26,1016.96 165.03,1016.81 165.8,1015.94 166.57,1015.13 167.34,1017.77 168.1,1016.2 168.87,1015.72 169.64,1015.77 170.41,1015.85 171.18,1016.3 171.94,1015.93 172.71,1014.81 173.48,1014.45 174.25,1014.84 175.02,1015.19 175.78,1014.44 176.55,1014.41 177.32,1013.71 178.09,1013.7 178.86,1013.86 179.62,1013.1 180.39,1013.6 181.16,1012.11 181.93,1011.57 182.69,1012.6 183.46,1011.31 184.23,1011.76 185,1010.17 185.77,1009.86 186.53,1010.11 187.3,1008.97 188.07,1009.36 188.84,1009.04 189.61,1008.53 190.37,1007.81 191.14,1007.43 191.91,1006.65 192.68,1006.59 193.45,1005.27 194.21,1004.59 194.98,1004.93 195.75,1004.92 196.52,1003.11 197.29,1002.27 198.05,1002.39 198.82,1002.36 199.59,1000.72 200.36,999.22 201.13,1000.38 201.89,998.15 202.66,997.71 203.43,997.09 204.2,995.32 204.96,995.35 205.73,993.36 206.5,991.68 207.27,991.22 208.04,990.67 208.8,990 209.57,988.48 210.34,987.55 211.11,984.25 211.88,984.01 212.64,983.12 213.41,981.89 214.18,980.35 214.95,978.49 215.72,977.58 216.48,974.36 217.25,974.2 218.02,972.56 218.79,970.19 219.56,967.7 220.32,965.87 221.09,964.94 221.86,962.44 222.63,960.35 223.4,957.89 224.16,955.73 224.93,954.02 225.7,951.71 226.47,948.29 227.24,946.42 228,942.17 228.77,940.1 229.54,937.79 230.31,934.36 231.07,931.29 231.84,927.64 232.61,923.34 233.38,920.87 234.15,917.02 234.91,911.38 235.68,907.18 236.45,902.27 237.22,897.22 237.99,892.57 238.75,886.76 239.52,882.5 240.29,876.43 241.06,871.43 241.83,865.94 242.59,858.96 243.36,852.8 244.13,847.99 244.9,840.44 245.67,832.08 246.43,823.86 247.2,817.38 247.97,808.96 248.74,801.84 249.51,790.06 250.27,783.54 251.04,774.76 251.81,766.65 252.58,758.1 253.34,750.34 254.11,743.51 254.88,734.46 255.65,727.59 256.42,718.22 257.18,713.39 257.95,705.49 258.72,695.95 259.49,687.2 260.26,681.41 261.02,675.28 261.79,666.51 262.56,659.56 263.33,646.88 264.1,641.12 264.86,632.42 265.63,626.74 266.4,620.92 267.17,608.56 267.94,598.89 268.7,593.15 269.47,586.36 270.24,575.14 271.01,571.38 271.78,560.88 272.54,558.34 273.31,552.42 274.08,541.71 274.85,537.3 275.61,528.7 276.38,531.9 277.15,529.74 277.92,534.83 278.69,540.27 279.45,543.74 280.22,542.38 280.99,553.51 281.76,553.24 282.53,557.69 283.29,567.27 284.06,566.81 284.83,575.16 285.6,577.34 286.37,585 287.13,586.4 287.9,594.91 288.67,595.47 289.44,601.8 290.21,605.09 290.97,607.58 291.74,612.45 292.51,616.9 293.28,619.59 294.05,623.57 294.81,631.01 295.58,632.11 296.35,636 297.12,641.92 297.88,644.42 298.65,650.45 299.42,651.18 300.19,657.01 300.96,660.74 301.72,663.37 302.49,668.57 303.26,671.74 304.03,677.03 304.8,680.41 305.56,684.85 306.33,687.65 307.1,690.45 307.87,694.79 308.64,698.01 309.4,703.03 310.17,706.56 310.94,709.88 311.71,712.78 312.48,716.48 313.24,720.26 314.01,723.39 314.78,727.38 315.55,730.8 316.32,733.47 317.08,738.08 317.85,741.06 318.62,743.63 319.39,747.94 320.16,750.96 320.92,755.1 321.69,756.93 322.46,762.73 323.23,765.36 323.99,768.58 324.76,770.25 325.53,774.21 326.3,777.76 327.07,781.51 327.83,783.68 328.6,786.92 329.37,790.46 330.14,793.96 330.91,796.73 331.67,798.93 332.44,801.82 333.21,804.88 333.98,807.92 334.75,811.74 335.51,813.55 336.28,817.02 337.05,819.22 337.82,821.77 338.59,825.21 339.35,828.17 340.12,829.73 340.89,832.81 341.66,836.07 342.43,840.11 343.19,841.02 343.96,843.24 344.73,845.54 345.5,849.15 346.26,851.66 347.03,854.05 347.8,855.78 348.57,859.41 349.34,861.21 350.1,864.08 350.87,865.75 351.64,869.16 352.41,870.36 353.18,873.19 353.94,875.33 354.71,877.18 355.48,879.09 356.25,882.99 357.02,883.65 357.78,886.12 358.55,888.81 359.32,889.98 360.09,892.84 360.86,894.32 361.62,897.52 362.39,899.75 363.16,900.59 363.93,902.06 364.7,904.95 365.46,906.77 366.23,909.51 367,911.92 367.77,913.16 368.53,914 369.3,917.78 370.07,918.77 370.84,921.36 371.61,921.93 372.37,923.22 373.14,926.18 373.91,927.41 374.68,928.1 375.45,930.6 376.21,932.94 376.98,934.64 377.75,936.67 378.52,936.65 379.29,939.12 380.05,939.64 380.82,941.28 381.59,943.68 382.36,945.08 383.13,945.77 383.89,947.55 384.66,948.87 385.43,951.33 386.2,951.16 386.97,953.47 387.73,955.52 388.5,955.76 389.27,956.31 390.04,956.45 390.8,959 391.57,960.65 392.34,959.73 393.11,961.95 393.88,963.26 394.64,964.78 395.41,965.78 396.18,965.35 396.95,967.38 397.72,968.53 398.48,969.5 399.25,969.25 400.02,971.45 400.79,971.67 401.56,972.78 402.32,973.69 403.09,975.21 403.86,975.16 404.63,975.44 405.4,977.21 406.16,978.5 406.93,979.48 407.7,979.35 408.47,980.33 409.24,980.92 410,981.51 410.77,983.01 411.54,982.31 412.31,983.21 413.07,983.94 413.84,984.28 414.61,984.38 415.38,985.39 416.15,986.4 416.91,985.7 417.68,987.09 418.45,987.71 419.22,988.64 419.99,988.16 420.75,989.19 421.52,989.29 422.29,989.13 423.06,989.76 423.83,989.57 424.59,990.36 425.36,991.14 426.13,991.45 426.9,991.91 427.67,991.58 428.43,992.27 429.2,992.85 429.97,992.44 430.74,993.19 431.51,993.82 432.27,994.74 433.04,993.89 433.81,994.3 434.58,994.69 435.35,995.26 436.11,995.76 436.88,995.68 437.65,995.68 438.42,996.15 439.18,996.42 439.95,996.86 440.72,996.64 441.49,996.96 442.26,997.78 443.02,997.14 443.79,997.37 444.56,997.59 445.33,998.38 446.1,998.65 446.86,999.45 447.63,998.56 448.4,1000.47 449.17,999.68 449.94,999.87 450.7,999.4 451.47,1000.11 452.24,1000.89 453.01,1001.37 453.78,1001.18 454.54,1000.9 455.31,1001.14 456.08,1001.49 456.85,1001.97 457.62,1001.9 458.38,1001.39 459.15,1002.81 459.92,1002.34 460.69,1001.61 461.45,1002.42 462.22,1003.2 462.99,1002.74 463.76,1003.74 464.53,1003.48 465.29,1002.76 466.06,1002.74 466.83,1005.02 467.6,1003.79 468.37,1003.24 469.13,1004.87 469.9,1004.57 470.67,1004.01 471.44,1005.34 472.21,1004.96 472.97,1005.42 473.74,1006.67 474.51,1005.51 475.28,1005.98 476.05,1005.49 476.81,1004.97 477.58,1005.95 478.35,1006.72 479.12,1006.4 479.89,1006.7 480.65,1006.37 481.42,1007.96 482.19,1007.95 482.96,1008.61 483.72,1007.21 484.49,1007.72 485.26,1008.23 486.03,1008.43 486.8,1008.48 487.56,1008.83 488.33,1008.62 489.1,1008.87 489.87,1007.91 490.64,1008.67 491.4,1009.48 492.17,1009.48 492.94,1008.58 493.71,1009.15 494.48,1009.38 495.24,1009.27 496.01,1008.9 496.78,1010.67 497.55,1010.53 498.32,1011.24 499.08,1010.07 499.85,1010.71 500.62,1011.01 501.39,1011.19 502.16,1010.47 502.92,1011.08 503.69,1011.44 504.46,1010.52 505.23,1011.99 505.99,1012.24 506.76,1010.11 507.53,1011.96 508.3,1012.18 509.07,1012.41 509.83,1012.18 510.6,1011.77 511.37,1011.9 512.14,1012.14 512.91,1012.73 513.67,1013.55 514.44,1012.63 515.21,1012.02 515.98,1012.39 516.75,1013.22 517.51,1012.76 518.28,1013.56 519.05,1013.48 519.82,1014.27 520.59,1013.84 521.35,1013.67 522.12,1013.95 522.89,1013.51 523.66,1012.96 524.43,1013.38 525.19,1014.42 525.96,1014.77 526.73,1014.82 527.5,1015.1 528.27,1014.6 529.03,1014.46 529.8,1014.69 530.57,1014.77 531.34,1014.88 532.1,1015.13 532.87,1015.57 533.64,1014.22 534.41,1014.69 535.18,1015.91 535.94,1015.99 536.71,1015.89 537.48,1015.6 538.25,1014.97 539.02,1015.19 539.78,1015.24 540.55,1015.3 541.32,1015.37 542.09,1015.66 542.86,1015.9 543.62,1016.31 544.39,1017.33 545.16,1016.47 545.93,1015.42 546.7,1016.85 547.46,1016.98 548.23,1016.09 549,1016.71 549.77,1017.11 550.54,1015.99 551.3,1016.61 552.07,1016.6 552.84,1017.44 553.61,1016.89 554.37,1017.02 555.14,1016.86 555.91,1016.71 556.68,1016.79 557.45,1017.41 558.21,1017.17 558.98,1018.3 559.75,1017.32 560.52,1017.36 561.29,1018.05 562.05,1018.33 562.82,1017.97 563.59,1018.71 564.36,1017.86 565.13,1017.94 565.89,1018.72 566.66,1018.2 567.43,1017.66 568.2,1017.72 568.97,1017.8 569.73,1018.53 570.5,1018.69 571.27,1018.77 572.04,1018.25 572.81,1017.27 573.57,1017.87 574.34,1017.81 575.11,1018 575.88,1019.77 576.64,1018.99 577.41,1019.17 578.18,1018.23 578.95,1018.01 579.72,1019.42 580.48,1019.05 581.25,1018.79 582.02,1019.44 582.79,1019.55 583.56,1019.62 584.32,1018.74 585.09,1019.82 585.86,1018.67 586.63,1019.32 587.4,1018.96 588.16,1018.54 588.93,1019.86 589.7,1019.98 590.47,1019.3 591.24,1020.18 592,1020.04 592.77,1019.72 593.54,1019.59 594.31,1020.44 595.08,1019.98 595.84,1019.45 596.61,1019.04 597.38,1021 598.15,1019.13 598.91,1019.41 599.68,1020.59 600.45,1020.85 601.22,1019.79 601.99,1020.31 602.75,1020.02 603.52,1019.63 604.29,1020.38 605.06,1020.1 605.83,1019.95 606.59,1019.74 607.36,1019.27 608.13,1019.34 608.9,1020.22 609.67,1020.52 610.43,1019.04 611.2,1020.08 611.97,1020.23 612.74,1021.15 613.51,1020.09 614.27,1021.02 615.04,1020.87 615.81,1021.4 616.58,1020.96 617.35,1020.65 618.11,1021.58 618.88,1021.26 619.65,1020.82 620.42,1021.53 621.18,1021.55 621.95,1021.33 622.72,1021.69 623.49,1020.55 624.26,1021.51 625.02,1020.51 625.79,1020.44 626.56,1021.7 627.33,1021.01 628.1,1021.33 628.86,1021.74 629.63,1021.29 630.4,1021.26 631.17,1020.73 631.94,1020.57 632.7,1021.83 633.47,1021.44 634.24,1020.92 635.01,1020.56 635.78,1022.69 636.54,1020.54 637.31,1021.4 638.08,1020.43 638.85,1021.59 639.62,1021.84 640.38,1021.35 641.15,1020.71 641.92,1021.39 642.69,1022.79 643.46,1021.04 644.22,1022.38 644.99,1022.03 645.76,1022.15 646.53,1022.56 647.29,1022.23 648.06,1022.08 648.83,1021.88 649.6,1021.56 650.37,1021.73 651.13,1022.41 651.9,1021.66 652.67,1021 653.44,1021.02 654.21,1021.5 654.97,1021.22 655.74,1021.07 656.51,1020.8 657.28,1020.61 658.05,1021.78 658.81,1021.76 659.58,1020.74 660.35,1020.69" fill="none" stroke="#ffa42e" stroke-width="10.6" stroke-linejoin="round" stroke-linecap="round" clip-path="url(#dclip)"/>
<rect x="124.1" y="505.8" width="537.4" height="543.2" fill="none" stroke="#3c3c3c" stroke-width="2.8"/>
<line x1="122.2" y1="504" x2="122.2" y2="1050" stroke="#cfcfcf" stroke-width="3.6" />
<line x1="122.7" y1="504.3" x2="661.4" y2="504.3" stroke="#4a4a4a" stroke-width="3.2" />
<line x1="140.9" y1="1049" x2="140.9" y2="1038.5" stroke="#3c3c3c" stroke-width="2.4" />
<line x1="140.9" y1="505.8" x2="140.9" y2="516.3" stroke="#3c3c3c" stroke-width="2.4" />
<line x1="219.7" y1="1049" x2="219.7" y2="1038.5" stroke="#3c3c3c" stroke-width="2.4" />
<line x1="219.7" y1="505.8" x2="219.7" y2="516.3" stroke="#3c3c3c" stroke-width="2.4" />
<line x1="298.5" y1="1049" x2="298.5" y2="1038.5" stroke="#3c3c3c" stroke-width="2.4" />
<line x1="298.5" y1="505.8" x2="298.5" y2="516.3" stroke="#3c3c3c" stroke-width="2.4" />
<line x1="377.3" y1="1049" x2="377.3" y2="1038.5" stroke="#3c3c3c" stroke-width="2.4" />
<line x1="377.3" y1="505.8" x2="377.3" y2="516.3" stroke="#3c3c3c" stroke-width="2.4" />
<line x1="456.1" y1="1049" x2="456.1" y2="1038.5" stroke="#3c3c3c" stroke-width="2.4" />
<line x1="456.1" y1="505.8" x2="456.1" y2="516.3" stroke="#3c3c3c" stroke-width="2.4" />
<line x1="534.9" y1="1049" x2="534.9" y2="1038.5" stroke="#3c3c3c" stroke-width="2.4" />
<line x1="534.9" y1="505.8" x2="534.9" y2="516.3" stroke="#3c3c3c" stroke-width="2.4" />
<line x1="613.7" y1="1049" x2="613.7" y2="1038.5" stroke="#3c3c3c" stroke-width="2.4" />
<line x1="613.7" y1="505.8" x2="613.7" y2="516.3" stroke="#3c3c3c" stroke-width="2.4" />
<line x1="124.1" y1="1025" x2="135.1" y2="1025" stroke="#3c3c3c" stroke-width="2.4" />
<line x1="661.5" y1="1025" x2="650.5" y2="1025" stroke="#3c3c3c" stroke-width="2.4" />
<text x="0" y="0" class="s" font-size="26" fill="#1e1e2c" text-anchor="end" stroke="#1e1e2c" stroke-width="0.35" transform="translate(109.5 1032.2) scale(1.07 1)">0</text>
<line x1="124.1" y1="927.9" x2="135.1" y2="927.9" stroke="#3c3c3c" stroke-width="2.4" />
<line x1="661.5" y1="927.9" x2="650.5" y2="927.9" stroke="#3c3c3c" stroke-width="2.4" />
<text x="0" y="0" class="s" font-size="26" fill="#1e1e2c" text-anchor="end" stroke="#1e1e2c" stroke-width="0.35" transform="translate(109.5 935.1) scale(1.07 1)">100</text>
<line x1="124.1" y1="830.8" x2="135.1" y2="830.8" stroke="#3c3c3c" stroke-width="2.4" />
<line x1="661.5" y1="830.8" x2="650.5" y2="830.8" stroke="#3c3c3c" stroke-width="2.4" />
<text x="0" y="0" class="s" font-size="26" fill="#1e1e2c" text-anchor="end" stroke="#1e1e2c" stroke-width="0.35" transform="translate(109.5 838) scale(1.07 1)">200</text>
<line x1="124.1" y1="733.7" x2="135.1" y2="733.7" stroke="#3c3c3c" stroke-width="2.4" />
<line x1="661.5" y1="733.7" x2="650.5" y2="733.7" stroke="#3c3c3c" stroke-width="2.4" />
<text x="0" y="0" class="s" font-size="26" fill="#1e1e2c" text-anchor="end" stroke="#1e1e2c" stroke-width="0.35" transform="translate(109.5 740.9) scale(1.07 1)">300</text>
<line x1="124.1" y1="636.6" x2="135.1" y2="636.6" stroke="#3c3c3c" stroke-width="2.4" />
<line x1="661.5" y1="636.6" x2="650.5" y2="636.6" stroke="#3c3c3c" stroke-width="2.4" />
<text x="0" y="0" class="s" font-size="26" fill="#1e1e2c" text-anchor="end" stroke="#1e1e2c" stroke-width="0.35" transform="translate(109.5 643.8) scale(1.07 1)">400</text>
<line x1="124.1" y1="539.5" x2="135.1" y2="539.5" stroke="#3c3c3c" stroke-width="2.4" />
<line x1="661.5" y1="539.5" x2="650.5" y2="539.5" stroke="#3c3c3c" stroke-width="2.4" />
<text x="0" y="0" class="s" font-size="26" fill="#1e1e2c" text-anchor="end" stroke="#1e1e2c" stroke-width="0.35" transform="translate(109.5 546.7) scale(1.07 1)">500</text>
<text x="0" y="0" class="s" font-size="26" fill="#1e1e2c" text-anchor="middle" stroke="#1e1e2c" stroke-width="0.35" transform="translate(140.9 1081) scale(1.04 1)">725</text>
<text x="0" y="0" class="s" font-size="26" fill="#1e1e2c" text-anchor="middle" stroke="#1e1e2c" stroke-width="0.35" transform="translate(219.7 1081) scale(1.04 1)">750</text>
<text x="0" y="0" class="s" font-size="26" fill="#1e1e2c" text-anchor="middle" stroke="#1e1e2c" stroke-width="0.35" transform="translate(298.5 1081) scale(1.04 1)">775</text>
<text x="0" y="0" class="s" font-size="26" fill="#1e1e2c" text-anchor="middle" stroke="#1e1e2c" stroke-width="0.35" transform="translate(377.3 1081) scale(1.04 1)">800</text>
<text x="0" y="0" class="s" font-size="26" fill="#1e1e2c" text-anchor="middle" stroke="#1e1e2c" stroke-width="0.35" transform="translate(456.1 1081) scale(1.04 1)">825</text>
<text x="0" y="0" class="s" font-size="26" fill="#1e1e2c" text-anchor="middle" stroke="#1e1e2c" stroke-width="0.35" transform="translate(534.9 1081) scale(1.04 1)">850</text>
<text x="0" y="0" class="s" font-size="26" fill="#1e1e2c" text-anchor="middle" stroke="#1e1e2c" stroke-width="0.35" transform="translate(613.7 1081) scale(1.04 1)">875</text>
<text x="0" y="0" class="s" font-size="26" fill="#1e1e2c" text-anchor="middle" stroke="#1e1e2c" stroke-width="0.35" transform="translate(394 1125) scale(1.03 1)">Wavelength (nm)</text>
<text x="0" y="0" class="s" font-size="26" fill="#1e1e2c" text-anchor="middle" stroke="#1e1e2c" stroke-width="0.35" transform="translate(35.5 775) rotate(-90) scale(1.03 1)">PL intensity (Counts/s)</text>
<text x="130.5" y="551.5" class="s" font-size="30.5" fill="#ffa236">1L-WSe</text><text x="242.5" y="558.3" class="s" font-size="20" fill="#ffa236">2</text>
<text x="291" y="981" class="s" font-size="27" fill="#e8404c">×10</text>
<rect x="396.8" y="518.3" width="250.9" height="75.7" rx="5" fill="#fff" fill-opacity="0.9" stroke="#d8d8d8" stroke-width="1.4"/>
<line x1="403" y1="536.2" x2="459.5" y2="536.2" stroke="#f0464a" stroke-width="7" />
<line x1="403" y1="570" x2="459.5" y2="570" stroke="#ffa42e" stroke-width="7" />
<text x="0" y="0" class="s" font-size="21" fill="#1e1e2c"  transform="translate(474 543.3) scale(1.09 1)">GaP substrate</text>
<text x="0" y="0" class="s" font-size="21" fill="#1e1e2c"  transform="translate(474 577) scale(1.09 1)">GaP dimer</text>
</g>
<g id="pe">
<text x="660.5" y="486" class="r" font-size="61" fill="#111">(e)</text>
<text x="662" y="805" class="r" font-size="61" fill="#111">(f)</text>
<clipPath id="ec"><rect x="712" y="500.9" width="249.6" height="258.7"/></clipPath><g clip-path="url(#ec)">
<rect x="712" y="500.9" width="249.6" height="258.7" fill="#030208" />
<path d="M768.93,597.2 A38.2,38.2 0 0 1 768.93,525.4" fill="none" stroke="#4428a0" stroke-width="11" opacity="0.7" filter="url(#g1)"/>
<path d="M768.63,594.4 A35.7,35.7 0 0 1 768.63,528.2" fill="none" stroke="#7a2c9c" stroke-width="4" opacity="0.9" filter="url(#g2)"/>
<path d="M795.07,525.4 A38.2,38.2 0 0 1 795.07,597.2" fill="none" stroke="#4428a0" stroke-width="11" opacity="0.7" filter="url(#g1)"/>
<path d="M795.37,528.2 A35.7,35.7 0 0 1 795.37,594.4" fill="none" stroke="#7a2c9c" stroke-width="4" opacity="0.9" filter="url(#g2)"/>
<path d="M880.33,597.2 A38.2,38.2 0 0 1 880.33,525.4" fill="none" stroke="#4428a0" stroke-width="11" opacity="0.7" filter="url(#g1)"/>
<path d="M880.03,594.4 A35.7,35.7 0 0 1 880.03,528.2" fill="none" stroke="#7a2c9c" stroke-width="4" opacity="0.9" filter="url(#g2)"/>
<path d="M906.47,525.4 A38.2,38.2 0 0 1 906.47,597.2" fill="none" stroke="#4428a0" stroke-width="11" opacity="0.7" filter="url(#g1)"/>
<path d="M906.77,528.2 A35.7,35.7 0 0 1 906.77,594.4" fill="none" stroke="#7a2c9c" stroke-width="4" opacity="0.9" filter="url(#g2)"/>
<circle cx="782" cy="561.3" r="33.900000000000006" fill="#030308"/><circle cx="893.4" cy="561.3" r="33.900000000000006" fill="#030308"/>
<g filter="url(#g3)"><path d="M771.45,594.57 A34.9,34.9 0 0 1 768.7,593.57" fill="none" stroke="#321e6f" stroke-width="1.58"/><path d="M769.15,593.75 A34.9,34.9 0 0 1 766.48,592.56" fill="none" stroke="#57228d" stroke-width="1.65"/><path d="M766.92,592.77 A34.9,34.9 0 0 1 764.34,591.4" fill="none" stroke="#622393" stroke-width="1.75"/><path d="M764.76,591.65 A34.9,34.9 0 0 1 762.28,590.1" fill="none" stroke="#702597" stroke-width="1.86"/><path d="M762.69,590.37 A34.9,34.9 0 0 1 760.32,588.65" fill="none" stroke="#812795" stroke-width="1.99"/><path d="M760.71,588.95 A34.9,34.9 0 0 1 758.47,587.07" fill="none" stroke="#932a92" stroke-width="2.13"/><path d="M758.83,587.4 A34.9,34.9 0 0 1 756.73,585.37" fill="none" stroke="#a62e8a" stroke-width="2.27"/><path d="M757.06,585.72 A34.9,34.9 0 0 1 755.11,583.55" fill="none" stroke="#b9367a" stroke-width="2.43"/><path d="M755.42,583.92 A34.9,34.9 0 0 1 753.62,581.62" fill="none" stroke="#cb3f68" stroke-width="2.59"/><path d="M753.91,582.01 A34.9,34.9 0 0 1 752.27,579.59" fill="none" stroke="#d84d53" stroke-width="2.74"/><path d="M752.53,580 A34.9,34.9 0 0 1 751.07,577.47" fill="none" stroke="#e45b3f" stroke-width="2.89"/><path d="M751.3,577.9 A34.9,34.9 0 0 1 750.02,575.27" fill="none" stroke="#eb6c32" stroke-width="3.03"/><path d="M750.22,575.72 A34.9,34.9 0 0 1 749.12,573.01" fill="none" stroke="#f27d26" stroke-width="3.15"/><path d="M749.29,573.47 A34.9,34.9 0 0 1 748.39,570.69" fill="none" stroke="#f68a21" stroke-width="3.26"/><path d="M748.52,571.15 A34.9,34.9 0 0 1 747.81,568.32" fill="none" stroke="#f79523" stroke-width="3.35"/><path d="M747.91,568.79 A34.9,34.9 0 0 1 747.41,565.92" fill="none" stroke="#f89e24" stroke-width="3.42"/><path d="M747.47,566.4 A34.9,34.9 0 0 1 747.17,563.49" fill="none" stroke="#f9a425" stroke-width="3.47"/><path d="M747.2,563.98 A34.9,34.9 0 0 1 747.1,561.06" fill="none" stroke="#f9a726" stroke-width="3.5"/><path d="M747.1,561.54 A34.9,34.9 0 0 1 747.2,558.62" fill="none" stroke="#f9a726" stroke-width="3.5"/><path d="M747.17,559.11 A34.9,34.9 0 0 1 747.47,556.2" fill="none" stroke="#f9a425" stroke-width="3.47"/><path d="M747.41,556.68 A34.9,34.9 0 0 1 747.91,553.81" fill="none" stroke="#f89e24" stroke-width="3.42"/><path d="M747.81,554.28 A34.9,34.9 0 0 1 748.52,551.45" fill="none" stroke="#f79523" stroke-width="3.35"/><path d="M748.39,551.91 A34.9,34.9 0 0 1 749.29,549.13" fill="none" stroke="#f68a21" stroke-width="3.26"/><path d="M749.12,549.59 A34.9,34.9 0 0 1 750.22,546.88" fill="none" stroke="#f27d26" stroke-width="3.15"/><path d="M750.02,547.33 A34.9,34.9 0 0 1 751.3,544.7" fill="none" stroke="#eb6c32" stroke-width="3.03"/><path d="M751.07,545.13 A34.9,34.9 0 0 1 752.53,542.6" fill="none" stroke="#e45b3f" stroke-width="2.89"/><path d="M752.27,543.01 A34.9,34.9 0 0 1 753.91,540.59" fill="none" stroke="#d84d53" stroke-width="2.74"/><path d="M753.62,540.98 A34.9,34.9 0 0 1 755.42,538.68" fill="none" stroke="#cb3f68" stroke-width="2.59"/><path d="M755.11,539.05 A34.9,34.9 0 0 1 757.06,536.88" fill="none" stroke="#b9367a" stroke-width="2.43"/><path d="M756.73,537.23 A34.9,34.9 0 0 1 758.83,535.2" fill="none" stroke="#a62e8a" stroke-width="2.27"/><path d="M758.47,535.53 A34.9,34.9 0 0 1 760.71,533.65" fill="none" stroke="#932a92" stroke-width="2.13"/><path d="M760.32,533.95 A34.9,34.9 0 0 1 762.69,532.23" fill="none" stroke="#812795" stroke-width="1.99"/><path d="M762.28,532.5 A34.9,34.9 0 0 1 764.76,530.95" fill="none" stroke="#702597" stroke-width="1.86"/><path d="M764.34,531.2 A34.9,34.9 0 0 1 766.92,529.83" fill="none" stroke="#622393" stroke-width="1.75"/><path d="M766.48,530.04 A34.9,34.9 0 0 1 769.15,528.85" fill="none" stroke="#57228d" stroke-width="1.65"/><path d="M768.7,529.03 A34.9,34.9 0 0 1 771.45,528.03" fill="none" stroke="#321e6f" stroke-width="1.58"/></g>
<g filter="url(#g3)"><path d="M792.55,528.03 A34.9,34.9 0 0 1 795.3,529.03" fill="none" stroke="#321e6f" stroke-width="1.58"/><path d="M794.85,528.85 A34.9,34.9 0 0 1 797.52,530.04" fill="none" stroke="#53228c" stroke-width="1.65"/><path d="M797.08,529.83 A34.9,34.9 0 0 1 799.66,531.2" fill="none" stroke="#5c2390" stroke-width="1.75"/><path d="M799.24,530.95 A34.9,34.9 0 0 1 801.72,532.5" fill="none" stroke="#672496" stroke-width="1.86"/><path d="M801.31,532.23 A34.9,34.9 0 0 1 803.68,533.95" fill="none" stroke="#752597" stroke-width="1.99"/><path d="M803.29,533.65 A34.9,34.9 0 0 1 805.53,535.53" fill="none" stroke="#842894" stroke-width="2.13"/><path d="M805.17,535.2 A34.9,34.9 0 0 1 807.27,537.23" fill="none" stroke="#942a92" stroke-width="2.27"/><path d="M806.94,536.88 A34.9,34.9 0 0 1 808.89,539.05" fill="none" stroke="#a42e8d" stroke-width="2.43"/><path d="M808.58,538.68 A34.9,34.9 0 0 1 810.38,540.98" fill="none" stroke="#b3347f" stroke-width="2.59"/><path d="M810.09,540.59 A34.9,34.9 0 0 1 811.73,543.01" fill="none" stroke="#c23a71" stroke-width="2.74"/><path d="M811.47,542.6 A34.9,34.9 0 0 1 812.93,545.13" fill="none" stroke="#ce4362" stroke-width="2.89"/><path d="M812.7,544.7 A34.9,34.9 0 0 1 813.98,547.33" fill="none" stroke="#d84d53" stroke-width="3.03"/><path d="M813.78,546.88 A34.9,34.9 0 0 1 814.88,549.59" fill="none" stroke="#e15645" stroke-width="3.15"/><path d="M814.71,549.13 A34.9,34.9 0 0 1 815.61,551.91" fill="none" stroke="#e7603b" stroke-width="3.26"/><path d="M815.48,551.45 A34.9,34.9 0 0 1 816.19,554.28" fill="none" stroke="#ea6a34" stroke-width="3.35"/><path d="M816.09,553.81 A34.9,34.9 0 0 1 816.59,556.68" fill="none" stroke="#ed712e" stroke-width="3.42"/><path d="M816.53,556.2 A34.9,34.9 0 0 1 816.83,559.11" fill="none" stroke="#ef762a" stroke-width="3.47"/><path d="M816.8,558.62 A34.9,34.9 0 0 1 816.9,561.54" fill="none" stroke="#f07929" stroke-width="3.5"/><path d="M816.9,561.06 A34.9,34.9 0 0 1 816.8,563.98" fill="none" stroke="#f07929" stroke-width="3.5"/><path d="M816.83,563.49 A34.9,34.9 0 0 1 816.53,566.4" fill="none" stroke="#ef762a" stroke-width="3.47"/><path d="M816.59,565.92 A34.9,34.9 0 0 1 816.09,568.79" fill="none" stroke="#ed712e" stroke-width="3.42"/><path d="M816.19,568.32 A34.9,34.9 0 0 1 815.48,571.15" fill="none" stroke="#ea6a34" stroke-width="3.35"/><path d="M815.61,570.69 A34.9,34.9 0 0 1 814.71,573.47" fill="none" stroke="#e7603b" stroke-width="3.26"/><path d="M814.88,573.01 A34.9,34.9 0 0 1 813.78,575.72" fill="none" stroke="#e15645" stroke-width="3.15"/><path d="M813.98,575.27 A34.9,34.9 0 0 1 812.7,577.9" fill="none" stroke="#d84d53" stroke-width="3.03"/><path d="M812.93,577.47 A34.9,34.9 0 0 1 811.47,580" fill="none" stroke="#ce4362" stroke-width="2.89"/><path d="M811.73,579.59 A34.9,34.9 0 0 1 810.09,582.01" fill="none" stroke="#c23a71" stroke-width="2.74"/><path d="M810.38,581.62 A34.9,34.9 0 0 1 808.58,583.92" fill="none" stroke="#b3347f" stroke-width="2.59"/><path d="M808.89,583.55 A34.9,34.9 0 0 1 806.94,585.72" fill="none" stroke="#a42e8d" stroke-width="2.43"/><path d="M807.27,585.37 A34.9,34.9 0 0 1 805.17,587.4" fill="none" stroke="#942a92" stroke-width="2.27"/><path d="M805.53,587.07 A34.9,34.9 0 0 1 803.29,588.95" fill="none" stroke="#842894" stroke-width="2.13"/><path d="M803.68,588.65 A34.9,34.9 0 0 1 801.31,590.37" fill="none" stroke="#752597" stroke-width="1.99"/><path d="M801.72,590.1 A34.9,34.9 0 0 1 799.24,591.65" fill="none" stroke="#672496" stroke-width="1.86"/><path d="M799.66,591.4 A34.9,34.9 0 0 1 797.08,592.77" fill="none" stroke="#5c2390" stroke-width="1.75"/><path d="M797.52,592.56 A34.9,34.9 0 0 1 794.85,593.75" fill="none" stroke="#53228c" stroke-width="1.65"/><path d="M795.3,593.57 A34.9,34.9 0 0 1 792.55,594.57" fill="none" stroke="#321e6f" stroke-width="1.58"/></g>
<g filter="url(#g3)"><path d="M882.85,594.57 A34.9,34.9 0 0 1 880.1,593.57" fill="none" stroke="#321e6f" stroke-width="1.58"/><path d="M880.55,593.75 A34.9,34.9 0 0 1 877.88,592.56" fill="none" stroke="#53228c" stroke-width="1.65"/><path d="M878.32,592.77 A34.9,34.9 0 0 1 875.74,591.4" fill="none" stroke="#5c2390" stroke-width="1.75"/><path d="M876.16,591.65 A34.9,34.9 0 0 1 873.68,590.1" fill="none" stroke="#672496" stroke-width="1.86"/><path d="M874.09,590.37 A34.9,34.9 0 0 1 871.72,588.65" fill="none" stroke="#752597" stroke-width="1.99"/><path d="M872.11,588.95 A34.9,34.9 0 0 1 869.87,587.07" fill="none" stroke="#842894" stroke-width="2.13"/><path d="M870.23,587.4 A34.9,34.9 0 0 1 868.13,585.37" fill="none" stroke="#942a92" stroke-width="2.27"/><path d="M868.46,585.72 A34.9,34.9 0 0 1 866.51,583.55" fill="none" stroke="#a42e8d" stroke-width="2.43"/><path d="M866.82,583.92 A34.9,34.9 0 0 1 865.02,581.62" fill="none" stroke="#b3347f" stroke-width="2.59"/><path d="M865.31,582.01 A34.9,34.9 0 0 1 863.67,579.59" fill="none" stroke="#c23a71" stroke-width="2.74"/><path d="M863.93,580 A34.9,34.9 0 0 1 862.47,577.47" fill="none" stroke="#ce4362" stroke-width="2.89"/><path d="M862.7,577.9 A34.9,34.9 0 0 1 861.42,575.27" fill="none" stroke="#d84d53" stroke-width="3.03"/><path d="M861.62,575.72 A34.9,34.9 0 0 1 860.52,573.01" fill="none" stroke="#e15645" stroke-width="3.15"/><path d="M860.69,573.47 A34.9,34.9 0 0 1 859.79,570.69" fill="none" stroke="#e7603b" stroke-width="3.26"/><path d="M859.92,571.15 A34.9,34.9 0 0 1 859.21,568.32" fill="none" stroke="#ea6a34" stroke-width="3.35"/><path d="M859.31,568.79 A34.9,34.9 0 0 1 858.81,565.92" fill="none" stroke="#ed712e" stroke-width="3.42"/><path d="M858.87,566.4 A34.9,34.9 0 0 1 858.57,563.49" fill="none" stroke="#ef762a" stroke-width="3.47"/><path d="M858.6,563.98 A34.9,34.9 0 0 1 858.5,561.06" fill="none" stroke="#f07929" stroke-width="3.5"/><path d="M858.5,561.54 A34.9,34.9 0 0 1 858.6,558.62" fill="none" stroke="#f07929" stroke-width="3.5"/><path d="M858.57,559.11 A34.9,34.9 0 0 1 858.87,556.2" fill="none" stroke="#ef762a" stroke-width="3.47"/><path d="M858.81,556.68 A34.9,34.9 0 0 1 859.31,553.81" fill="none" stroke="#ed712e" stroke-width="3.42"/><path d="M859.21,554.28 A34.9,34.9 0 0 1 859.92,551.45" fill="none" stroke="#ea6a34" stroke-width="3.35"/><path d="M859.79,551.91 A34.9,34.9 0 0 1 860.69,549.13" fill="none" stroke="#e7603b" stroke-width="3.26"/><path d="M860.52,549.59 A34.9,34.9 0 0 1 861.62,546.88" fill="none" stroke="#e15645" stroke-width="3.15"/><path d="M861.42,547.33 A34.9,34.9 0 0 1 862.7,544.7" fill="none" stroke="#d84d53" stroke-width="3.03"/><path d="M862.47,545.13 A34.9,34.9 0 0 1 863.93,542.6" fill="none" stroke="#ce4362" stroke-width="2.89"/><path d="M863.67,543.01 A34.9,34.9 0 0 1 865.31,540.59" fill="none" stroke="#c23a71" stroke-width="2.74"/><path d="M865.02,540.98 A34.9,34.9 0 0 1 866.82,538.68" fill="none" stroke="#b3347f" stroke-width="2.59"/><path d="M866.51,539.05 A34.9,34.9 0 0 1 868.46,536.88" fill="none" stroke="#a42e8d" stroke-width="2.43"/><path d="M868.13,537.23 A34.9,34.9 0 0 1 870.23,535.2" fill="none" stroke="#942a92" stroke-width="2.27"/><path d="M869.87,535.53 A34.9,34.9 0 0 1 872.11,533.65" fill="none" stroke="#842894" stroke-width="2.13"/><path d="M871.72,533.95 A34.9,34.9 0 0 1 874.09,532.23" fill="none" stroke="#752597" stroke-width="1.99"/><path d="M873.68,532.5 A34.9,34.9 0 0 1 876.16,530.95" fill="none" stroke="#672496" stroke-width="1.86"/><path d="M875.74,531.2 A34.9,34.9 0 0 1 878.32,529.83" fill="none" stroke="#5c2390" stroke-width="1.75"/><path d="M877.88,530.04 A34.9,34.9 0 0 1 880.55,528.85" fill="none" stroke="#53228c" stroke-width="1.65"/><path d="M880.1,529.03 A34.9,34.9 0 0 1 882.85,528.03" fill="none" stroke="#321e6f" stroke-width="1.58"/></g>
<g filter="url(#g3)"><path d="M903.95,528.03 A34.9,34.9 0 0 1 906.7,529.03" fill="none" stroke="#321e6f" stroke-width="1.58"/><path d="M906.25,528.85 A34.9,34.9 0 0 1 908.92,530.04" fill="none" stroke="#57228d" stroke-width="1.65"/><path d="M908.48,529.83 A34.9,34.9 0 0 1 911.06,531.2" fill="none" stroke="#622393" stroke-width="1.75"/><path d="M910.64,530.95 A34.9,34.9 0 0 1 913.12,532.5" fill="none" stroke="#702597" stroke-width="1.86"/><path d="M912.71,532.23 A34.9,34.9 0 0 1 915.08,533.95" fill="none" stroke="#812795" stroke-width="1.99"/><path d="M914.69,533.65 A34.9,34.9 0 0 1 916.93,535.53" fill="none" stroke="#932a92" stroke-width="2.13"/><path d="M916.57,535.2 A34.9,34.9 0 0 1 918.67,537.23" fill="none" stroke="#a62e8a" stroke-width="2.27"/><path d="M918.34,536.88 A34.9,34.9 0 0 1 920.29,539.05" fill="none" stroke="#b9367a" stroke-width="2.43"/><path d="M919.98,538.68 A34.9,34.9 0 0 1 921.78,540.98" fill="none" stroke="#cb3f68" stroke-width="2.59"/><path d="M921.49,540.59 A34.9,34.9 0 0 1 923.13,543.01" fill="none" stroke="#d84d53" stroke-width="2.74"/><path d="M922.87,542.6 A34.9,34.9 0 0 1 924.33,545.13" fill="none" stroke="#e45b3f" stroke-width="2.89"/><path d="M924.1,544.7 A34.9,34.9 0 0 1 925.38,547.33" fill="none" stroke="#eb6c32" stroke-width="3.03"/><path d="M925.18,546.88 A34.9,34.9 0 0 1 926.28,549.59" fill="none" stroke="#f27d26" stroke-width="3.15"/><path d="M926.11,549.13 A34.9,34.9 0 0 1 927.01,551.91" fill="none" stroke="#f68a21" stroke-width="3.26"/><path d="M926.88,551.45 A34.9,34.9 0 0 1 927.59,554.28" fill="none" stroke="#f79523" stroke-width="3.35"/><path d="M927.49,553.81 A34.9,34.9 0 0 1 927.99,556.68" fill="none" stroke="#f89e24" stroke-width="3.42"/><path d="M927.93,556.2 A34.9,34.9 0 0 1 928.23,559.11" fill="none" stroke="#f9a425" stroke-width="3.47"/><path d="M928.2,558.62 A34.9,34.9 0 0 1 928.3,561.54" fill="none" stroke="#f9a726" stroke-width="3.5"/><path d="M928.3,561.06 A34.9,34.9 0 0 1 928.2,563.98" fill="none" stroke="#f9a726" stroke-width="3.5"/><path d="M928.23,563.49 A34.9,34.9 0 0 1 927.93,566.4" fill="none" stroke="#f9a425" stroke-width="3.47"/><path d="M927.99,565.92 A34.9,34.9 0 0 1 927.49,568.79" fill="none" stroke="#f89e24" stroke-width="3.42"/><path d="M927.59,568.32 A34.9,34.9 0 0 1 926.88,571.15" fill="none" stroke="#f79523" stroke-width="3.35"/><path d="M927.01,570.69 A34.9,34.9 0 0 1 926.11,573.47" fill="none" stroke="#f68a21" stroke-width="3.26"/><path d="M926.28,573.01 A34.9,34.9 0 0 1 925.18,575.72" fill="none" stroke="#f27d26" stroke-width="3.15"/><path d="M925.38,575.27 A34.9,34.9 0 0 1 924.1,577.9" fill="none" stroke="#eb6c32" stroke-width="3.03"/><path d="M924.33,577.47 A34.9,34.9 0 0 1 922.87,580" fill="none" stroke="#e45b3f" stroke-width="2.89"/><path d="M923.13,579.59 A34.9,34.9 0 0 1 921.49,582.01" fill="none" stroke="#d84d53" stroke-width="2.74"/><path d="M921.78,581.62 A34.9,34.9 0 0 1 919.98,583.92" fill="none" stroke="#cb3f68" stroke-width="2.59"/><path d="M920.29,583.55 A34.9,34.9 0 0 1 918.34,585.72" fill="none" stroke="#b9367a" stroke-width="2.43"/><path d="M918.67,585.37 A34.9,34.9 0 0 1 916.57,587.4" fill="none" stroke="#a62e8a" stroke-width="2.27"/><path d="M916.93,587.07 A34.9,34.9 0 0 1 914.69,588.95" fill="none" stroke="#932a92" stroke-width="2.13"/><path d="M915.08,588.65 A34.9,34.9 0 0 1 912.71,590.37" fill="none" stroke="#812795" stroke-width="1.99"/><path d="M913.12,590.1 A34.9,34.9 0 0 1 910.64,591.65" fill="none" stroke="#702597" stroke-width="1.86"/><path d="M911.06,591.4 A34.9,34.9 0 0 1 908.48,592.77" fill="none" stroke="#622393" stroke-width="1.75"/><path d="M908.92,592.56 A34.9,34.9 0 0 1 906.25,593.75" fill="none" stroke="#57228d" stroke-width="1.65"/><path d="M906.7,593.57 A34.9,34.9 0 0 1 903.95,594.57" fill="none" stroke="#321e6f" stroke-width="1.58"/></g>
<rect x="712" y="500.9" width="38.6" height="31" fill="#000" />
<line x1="721.7" y1="561.6" x2="953.2" y2="561.6" stroke="#f4f4f4" stroke-width="1.5" stroke-dasharray="6 2 1.5 2"/>
<text x="839.3" y="515.3" class="s" font-size="13.5" fill="#f4f4f4" text-anchor="middle" font-weight="bold">X-pol</text>
<line x1="819" y1="522.6" x2="856" y2="522.6" stroke="#f4f4f4" stroke-width="1.8" />
<polygon points="814.5,522.6 822.5,518.8 822.5,526.4" fill="#f4f4f4"/><polygon points="860.4,522.6 852.4,518.8 852.4,526.4" fill="#f4f4f4"/>
<text x="836.5" y="538.4" class="s" font-size="15" fill="#f4f4f4" text-anchor="middle" font-weight="bold" font-style="italic">E</text>
<polyline points="767,627.4 767,751.6 959.2,751.6" fill="none" stroke="#e8e8e8" stroke-width="1.5" stroke-linejoin="round" stroke-linecap="round" stroke-linejoin="miter"/>
<line x1="780.9" y1="751.6" x2="780.9" y2="748.2" stroke="#e8e8e8" stroke-width="1.1" />
<line x1="794.8" y1="751.6" x2="794.8" y2="749.6" stroke="#e8e8e8" stroke-width="1.1" />
<line x1="808.7" y1="751.6" x2="808.7" y2="748.2" stroke="#e8e8e8" stroke-width="1.1" />
<line x1="822.6" y1="751.6" x2="822.6" y2="749.6" stroke="#e8e8e8" stroke-width="1.1" />
<line x1="836.5" y1="751.6" x2="836.5" y2="748.2" stroke="#e8e8e8" stroke-width="1.1" />
<line x1="850.4" y1="751.6" x2="850.4" y2="749.6" stroke="#e8e8e8" stroke-width="1.1" />
<line x1="864.3" y1="751.6" x2="864.3" y2="748.2" stroke="#e8e8e8" stroke-width="1.1" />
<line x1="878.2" y1="751.6" x2="878.2" y2="749.6" stroke="#e8e8e8" stroke-width="1.1" />
<line x1="892.1" y1="751.6" x2="892.1" y2="748.2" stroke="#e8e8e8" stroke-width="1.1" />
<line x1="906" y1="751.6" x2="906" y2="749.6" stroke="#e8e8e8" stroke-width="1.1" />
<line x1="919.9" y1="751.6" x2="919.9" y2="748.2" stroke="#e8e8e8" stroke-width="1.1" />
<line x1="933.8" y1="751.6" x2="933.8" y2="749.6" stroke="#e8e8e8" stroke-width="1.1" />
<line x1="947.7" y1="751.6" x2="947.7" y2="748.2" stroke="#e8e8e8" stroke-width="1.1" />
<line x1="961.6" y1="751.6" x2="961.6" y2="749.6" stroke="#e8e8e8" stroke-width="1.1" />
<line x1="767" y1="638.3" x2="769.6" y2="638.3" stroke="#e8e8e8" stroke-width="1.1" />
<line x1="767" y1="666.4" x2="769.6" y2="666.4" stroke="#e8e8e8" stroke-width="1.1" />
<line x1="767" y1="694.5" x2="769.6" y2="694.5" stroke="#e8e8e8" stroke-width="1.1" />
<line x1="767" y1="722.6" x2="769.6" y2="722.6" stroke="#e8e8e8" stroke-width="1.1" />
<text x="762.8" y="642.9" class="s" font-size="15" fill="#f4f4f4" text-anchor="end" font-weight="bold">40</text>
<text x="762.8" y="699.1" class="s" font-size="15" fill="#f4f4f4" text-anchor="end" font-weight="bold">20</text>
<text x="762.8" y="753.1" class="s" font-size="15" fill="#f4f4f4" text-anchor="end" font-weight="bold">0</text>
<text class="s" transform="translate(736.5 691) rotate(-90)" font-size="18.5" fill="#f4f4f4" text-anchor="middle" stroke="#f4f4f4" stroke-width="0.55">(|<tspan font-style="italic">E</tspan>|/|<tspan font-style="italic">E</tspan><tspan font-size="11.47" dy="4.07">0</tspan><tspan dy="-4.07">|)</tspan><tspan font-size="11.47" dy="-7.77">2</tspan></text>
<polyline points="767.52,733.33 767.84,733.14 768.16,732.94 768.48,732.74 768.8,732.52 769.12,732.29 769.44,732.05 769.76,731.79 770.08,731.52 770.4,731.24 770.72,730.94 771.04,730.62 771.36,730.28 771.68,729.92 772,729.54 772.32,729.13 772.64,728.7 772.96,728.23 773.28,727.73 773.6,727.2 773.92,726.63 774.24,726.01 774.56,725.35 774.88,724.63 775.2,723.85 775.52,723.01 775.84,722.09 776.16,721.09 776.48,720 776.8,718.8 777.12,717.49 777.44,716.05 777.76,714.45 778.08,712.69 778.4,710.73 778.72,708.54 779.04,706.1 779.36,703.36 779.68,700.27 780,696.78 780.32,692.82 780.64,688.31 780.96,683.13 781.28,677.18 781.6,670.28 781.92,662.24 782.24,652.83 782.56,641.72 782.71,635.83 782.88,642.92 783.2,654.67 783.52,664.71 783.84,673.33 784.16,680.79 784.48,687.28 784.8,692.95 785.12,697.94 785.44,702.34 785.76,706.25 786.08,709.72 786.4,712.83 786.72,715.62 787.04,718.13 787.36,720.39 787.68,722.44 788,724.3 788.32,725.99 788.64,727.53 788.96,728.94 789.28,730.24 789.6,731.42 789.92,732.52 790.24,733.52 790.56,734.45 790.88,735.31 791.2,736.11 791.52,736.85 791.84,737.53 792.16,738.17 792.48,738.77 792.8,739.32 793.12,739.84 793.44,740.32 793.76,740.78 794.08,741.2 794.4,741.6 794.72,741.98 795.04,742.33 795.36,742.66 795.68,742.97 796,743.26 796.32,743.54 796.64,743.8 796.96,744.04 797.28,744.27 797.6,744.49 797.92,744.7 798.24,744.9 798.56,745.08 798.88,745.26 799.2,745.42 799.52,745.58 799.84,745.73 800.16,745.87 800.48,746 800.8,746.13 801.12,746.25 801.44,746.36 801.76,746.46 802.08,746.57 802.4,746.66 802.72,746.75 803.04,746.84 803.36,746.92 803.68,746.99 804,747.06 804.32,747.13 804.64,747.19 804.96,747.25 805.28,747.31 805.6,747.36 805.92,747.41 806.24,747.45 806.56,747.49 806.88,747.53 807.2,747.57 807.52,747.6 807.84,747.63 808.16,747.65 808.48,747.68 808.8,747.7 809.12,747.71 809.44,747.73 809.76,747.74 810.08,747.75 810.4,747.76 810.72,747.76 811.04,747.76 811.36,747.76 811.68,747.76 812,747.75 812.32,747.74 812.64,747.73 812.96,747.72 813.28,747.7 813.6,747.68 813.92,747.66 814.24,747.63 814.56,747.6 814.88,747.57 815.2,747.54 815.52,747.5 815.84,747.46 816.16,747.41 816.49,747.37 816.81,747.31 817.13,747.26 817.45,747.2 817.77,747.14 818.09,747.07 818.41,747 818.73,746.93 819.05,746.85 819.37,746.76 819.69,746.68 820.01,746.58 820.33,746.48 820.65,746.38 820.97,746.27 821.29,746.15 821.61,746.02 821.93,745.89 822.25,745.75 822.57,745.61 822.89,745.45 823.21,745.29 823.53,745.11 823.85,744.93 824.17,744.74 824.49,744.53 824.81,744.31 825.13,744.08 825.45,743.84 825.77,743.58 826.09,743.31 826.41,743.01 826.73,742.7 827.05,742.37 827.37,742.02 827.69,741.65 828.01,741.25 828.33,740.82 828.65,740.36 828.97,739.87 829.29,739.35 829.61,738.78 829.93,738.18 830.25,737.53 830.57,736.83 830.89,736.07 831.21,735.25 831.53,734.36 831.85,733.4 832.17,732.36 832.49,731.22 832.81,729.98 833.13,728.62 833.45,727.13 833.77,725.49 834.09,723.68 834.41,721.69 834.73,719.48 835.05,717.02 835.37,714.28 835.69,711.21 836.01,707.76 836.33,703.86 836.65,699.45 836.97,694.42 837.29,688.67 837.61,682.04 837.93,674.38 838.25,665.44 838.57,654.95 838.65,651.81 838.89,659.31 839.21,668.16 839.53,675.66 839.85,682.06 840.17,687.54 840.49,692.26 840.81,696.36 841.13,699.93 841.45,703.06 841.77,705.8 842.09,708.22 842.41,710.37 842.73,712.27 843.05,713.97 843.37,715.49 843.69,716.86 844.01,718.09 844.33,719.2 844.65,720.2 844.97,721.11 845.29,721.94 845.61,722.69 845.93,723.38 846.25,724.01 846.57,724.58 846.89,725.11 847.21,725.6 847.53,726.05 847.85,726.47 848.17,726.85 848.49,727.2 848.81,727.53 849.13,727.83 849.45,728.11 849.77,728.37 850.09,728.61 850.41,728.84 850.73,729.04 851.05,729.24 851.37,729.42 851.69,729.58 852.01,729.73 852.33,729.87 852.65,730 852.97,730.12 853.29,730.23 853.61,730.33 853.93,730.43 854.25,730.51 854.57,730.58 854.89,730.65 855.21,730.71 855.53,730.76 855.85,730.8 856.17,730.84 856.49,730.87 856.81,730.89 857.13,730.91 857.45,730.91 857.77,730.92 858.09,730.91 858.41,730.9 858.73,730.88 859.05,730.86 859.37,730.82 859.69,730.78 860.01,730.74 860.33,730.68 860.65,730.62 860.97,730.55 861.29,730.48 861.61,730.39 861.93,730.29 862.25,730.19 862.57,730.08 862.89,729.95 863.21,729.82 863.53,729.67 863.85,729.51 864.17,729.34 864.49,729.16 864.81,728.96 865.13,728.75 865.45,728.52 865.77,728.27 866.09,728 866.41,727.71 866.73,727.4 867.05,727.06 867.37,726.69 867.69,726.3 868.01,725.87 868.33,725.41 868.65,724.9 868.97,724.35 869.29,723.75 869.61,723.1 869.93,722.39 870.25,721.6 870.57,720.74 870.89,719.8 871.21,718.75 871.53,717.6 871.85,716.31 872.17,714.89 872.49,713.29 872.81,711.51 873.13,709.51 873.45,707.26 873.77,704.71 874.09,701.82 874.41,698.52 874.73,694.74 875.05,690.4 875.37,685.38 875.69,679.54 876.01,672.72 876.33,664.69 876.65,655.18 876.75,651.81 876.97,659.49 877.29,669.3 877.61,677.68 877.93,684.89 878.25,691.14 878.57,696.57 878.89,701.34 879.21,705.53 879.53,709.23 879.85,712.52 880.17,715.45 880.49,718.07 880.81,720.42 881.13,722.54 881.45,724.45 881.77,726.18 882.09,727.76 882.41,729.19 882.73,730.5 883.05,731.7 883.37,732.8 883.69,733.81 884.01,734.74 884.33,735.6 884.65,736.39 884.97,737.12 885.29,737.8 885.61,738.43 885.93,739.02 886.25,739.57 886.57,740.08 886.89,740.55 887.21,741 887.53,741.41 887.85,741.8 888.17,742.17 888.49,742.51 888.81,742.83 889.13,743.14 889.45,743.42 889.77,743.69 890.09,743.94 890.41,744.18 890.73,744.41 891.05,744.62 891.37,744.82 891.69,745.01 892.01,745.19 892.33,745.36 892.65,745.52 892.97,745.67 893.29,745.81 893.62,745.95 893.94,746.08 894.26,746.2 894.58,746.31 894.9,746.42 895.22,746.52 895.54,746.62 895.86,746.71 896.18,746.8 896.5,746.88 896.82,746.96 897.14,747.03 897.46,747.1 897.78,747.17 898.1,747.23 898.42,747.28 898.74,747.34 899.06,747.39 899.38,747.43 899.7,747.47 900.02,747.51 900.34,747.55 900.66,747.58 900.98,747.61 901.3,747.64 901.62,747.67 901.94,747.69 902.26,747.71 902.58,747.72 902.9,747.74 903.22,747.75 903.54,747.75 903.86,747.76 904.18,747.76 904.5,747.76 904.82,747.76 905.14,747.75 905.46,747.75 905.78,747.74 906.1,747.72 906.42,747.71 906.74,747.69 907.06,747.67 907.38,747.64 907.7,747.62 908.02,747.59 908.34,747.55 908.66,747.52 908.98,747.48 909.3,747.43 909.62,747.39 909.94,747.34 910.26,747.29 910.58,747.23 910.9,747.17 911.22,747.1 911.54,747.03 911.86,746.96 912.18,746.88 912.5,746.8 912.82,746.71 913.14,746.62 913.46,746.52 913.78,746.42 914.1,746.31 914.42,746.2 914.74,746.07 915.06,745.95 915.38,745.81 915.7,745.67 916.02,745.51 916.34,745.35 916.66,745.19 916.98,745.01 917.3,744.82 917.62,744.62 917.94,744.41 918.26,744.18 918.58,743.94 918.9,743.69 919.22,743.43 919.54,743.14 919.86,742.84 920.18,742.52 920.5,742.18 920.82,741.82 921.14,741.44 921.46,741.03 921.78,740.59 922.1,740.13 922.42,739.63 922.74,739.1 923.06,738.53 923.38,737.91 923.7,737.26 924.02,736.55 924.34,735.79 924.66,734.96 924.98,734.08 925.3,733.12 925.62,732.08 925.94,730.95 926.26,729.72 926.58,728.38 926.9,726.91 927.22,725.31 927.54,723.55 927.86,721.62 928.18,719.48 928.5,717.12 928.82,714.51 929.14,711.59 929.46,708.34 929.78,704.69 930.1,700.59 930.42,695.96 930.74,690.7 931.06,684.71 931.38,677.84 931.7,669.93 932.02,660.76 932.34,650.05 932.66,637.48 932.7,635.83 932.98,646.53 933.3,656.9 933.62,665.71 933.94,673.25 934.26,679.74 934.58,685.36 934.9,690.24 935.22,694.52 935.54,698.28 935.86,701.59 936.18,704.53 936.5,707.14 936.82,709.47 937.14,711.56 937.46,713.44 937.78,715.13 938.1,716.66 938.42,718.05 938.74,719.31 939.06,720.46 939.38,721.51 939.7,722.48 940.02,723.36 940.34,724.18 940.66,724.93 940.98,725.63 941.3,726.27 941.62,726.87 941.94,727.43 942.26,727.94 942.58,728.43 942.9,728.88 943.22,729.3 943.54,729.7 943.86,730.07 944.18,730.42 944.5,730.75 944.82,731.06 945.14,731.36 945.46,731.64 945.78,731.9 946.1,732.15 946.42,732.39 946.74,732.61 947.06,732.82 947.38,733.03 947.7,733.22 948.02,733.4 948.34,733.58 948.66,733.75 948.98,733.91 949.3,734.06 949.62,734.21 949.94,734.35 950.26,734.49 950.58,734.61 950.9,734.74 951.22,734.86 951.54,734.97 951.86,735.08 952.18,735.19 952.5,735.29 952.82,735.39 953.14,735.48 953.46,735.57 953.78,735.66 954.1,735.74 954.42,735.83 954.74,735.91 955.06,735.98 955.38,736.05 955.7,736.13 956.02,736.19 956.34,736.26 956.66,736.32 956.98,736.39 957.3,736.45 957.62,736.51 957.94,736.56 958.26,736.62 958.58,736.67 958.9,736.72 959.22,736.77" fill="none" stroke="#dcdcdc" stroke-width="1.5" stroke-linejoin="round" stroke-linecap="round" filter="url(#g4)"/>
</g>
<rect x="977.3" y="500.9" width="14.5" height="258.7" fill="url(#infb)" stroke="#2a2a30" stroke-width="1.3"/><line x1="982.3" y1="520.9" x2="991.8" y2="520.9" stroke="#1a1a28" stroke-width="1.6" /><text x="0" y="0" class="s" font-size="18.5" fill="#24243a"  transform="translate(1001 527.6) scale(1.1 1)">40</text><line x1="982.3" y1="582.4" x2="991.8" y2="582.4" stroke="#1a1a28" stroke-width="1.6" /><text x="0" y="0" class="s" font-size="18.5" fill="#24243a"  transform="translate(1001 589.1) scale(1.1 1)">30</text><line x1="982.3" y1="643.6" x2="991.8" y2="643.6" stroke="#1a1a28" stroke-width="1.6" /><text x="0" y="0" class="s" font-size="18.5" fill="#24243a"  transform="translate(1001 650.3) scale(1.1 1)">20</text><line x1="982.3" y1="704.6" x2="991.8" y2="704.6" stroke="#1a1a28" stroke-width="1.6" /><text x="0" y="0" class="s" font-size="18.5" fill="#24243a"  transform="translate(1001 711.3) scale(1.1 1)">10</text><text class="s" transform="translate(1051.5 632) rotate(-90)" font-size="18.5" fill="#3e3e48" text-anchor="middle" stroke="#3e3e48" stroke-width="0.3" textLength="85" lengthAdjust="spacing">(|<tspan font-style="italic">E</tspan>|/|<tspan font-style="italic">E</tspan><tspan font-size="11.47" dy="4.07">0</tspan><tspan dy="-4.07">|)</tspan><tspan font-size="11.47" dy="-7.77">2</tspan></text>
<clipPath id="fc"><rect x="716.4" y="820" width="249.6" height="258.7"/></clipPath><g clip-path="url(#fc)">
<rect x="716.4" y="820" width="249.6" height="258.7" fill="#030208" />
<path d="M751.52,878.51 A36.8,36.8 0 0 1 820.68,878.51" fill="none" stroke="#4428a0" stroke-width="11" opacity="0.7" filter="url(#g1)"/>
<path d="M754.3,878.25 A34.3,34.3 0 0 1 817.9,878.25" fill="none" stroke="#7a2c9c" stroke-width="4" opacity="0.9" filter="url(#g2)"/>
<path d="M820.68,903.69 A36.8,36.8 0 0 1 751.52,903.69" fill="none" stroke="#4428a0" stroke-width="11" opacity="0.7" filter="url(#g1)"/>
<path d="M817.9,903.95 A34.3,34.3 0 0 1 754.3,903.95" fill="none" stroke="#7a2c9c" stroke-width="4" opacity="0.9" filter="url(#g2)"/>
<path d="M863.12,878.51 A36.8,36.8 0 0 1 932.28,878.51" fill="none" stroke="#4428a0" stroke-width="11" opacity="0.7" filter="url(#g1)"/>
<path d="M865.9,878.25 A34.3,34.3 0 0 1 929.5,878.25" fill="none" stroke="#7a2c9c" stroke-width="4" opacity="0.9" filter="url(#g2)"/>
<path d="M932.28,903.69 A36.8,36.8 0 0 1 863.12,903.69" fill="none" stroke="#4428a0" stroke-width="11" opacity="0.7" filter="url(#g1)"/>
<path d="M929.5,903.95 A34.3,34.3 0 0 1 865.9,903.95" fill="none" stroke="#7a2c9c" stroke-width="4" opacity="0.9" filter="url(#g2)"/>
<circle cx="786.1" cy="891.1" r="32.5" fill="#030308"/><circle cx="897.7" cy="891.1" r="32.5" fill="#030308"/>
<g filter="url(#g3)"><path d="M754.17,880.97 A33.5,33.5 0 0 1 755.13,878.33" fill="none" stroke="#321e6f" stroke-width="1.58"/><path d="M754.95,878.77 A33.5,33.5 0 0 1 756.09,876.2" fill="none" stroke="#53228c" stroke-width="1.65"/><path d="M755.89,876.63 A33.5,33.5 0 0 1 757.21,874.15" fill="none" stroke="#5c2390" stroke-width="1.75"/><path d="M756.97,874.55 A33.5,33.5 0 0 1 758.46,872.17" fill="none" stroke="#672496" stroke-width="1.86"/><path d="M758.2,872.56 A33.5,33.5 0 0 1 759.85,870.29" fill="none" stroke="#752597" stroke-width="1.99"/><path d="M759.56,870.66 A33.5,33.5 0 0 1 761.36,868.51" fill="none" stroke="#842894" stroke-width="2.13"/><path d="M761.05,868.86 A33.5,33.5 0 0 1 763,866.84" fill="none" stroke="#942a92" stroke-width="2.27"/><path d="M762.66,867.17 A33.5,33.5 0 0 1 764.75,865.29" fill="none" stroke="#a42e8d" stroke-width="2.43"/><path d="M764.39,865.59 A33.5,33.5 0 0 1 766.6,863.86" fill="none" stroke="#b3347f" stroke-width="2.59"/><path d="M766.22,864.14 A33.5,33.5 0 0 1 768.55,862.57" fill="none" stroke="#c23a71" stroke-width="2.74"/><path d="M768.15,862.82 A33.5,33.5 0 0 1 770.58,861.41" fill="none" stroke="#ce4362" stroke-width="2.89"/><path d="M770.17,861.63 A33.5,33.5 0 0 1 772.69,860.4" fill="none" stroke="#d84d53" stroke-width="3.03"/><path d="M772.26,860.59 A33.5,33.5 0 0 1 774.86,859.54" fill="none" stroke="#e15645" stroke-width="3.15"/><path d="M774.42,859.7 A33.5,33.5 0 0 1 777.09,858.83" fill="none" stroke="#e7603b" stroke-width="3.26"/><path d="M776.64,858.96 A33.5,33.5 0 0 1 779.36,858.28" fill="none" stroke="#ea6a34" stroke-width="3.35"/><path d="M778.91,858.38 A33.5,33.5 0 0 1 781.67,857.89" fill="none" stroke="#ed712e" stroke-width="3.42"/><path d="M781.21,857.96 A33.5,33.5 0 0 1 784,857.67" fill="none" stroke="#ef762a" stroke-width="3.47"/><path d="M783.53,857.7 A33.5,33.5 0 0 1 786.33,857.6" fill="none" stroke="#f07929" stroke-width="3.5"/><path d="M785.87,857.6 A33.5,33.5 0 0 1 788.67,857.7" fill="none" stroke="#f07929" stroke-width="3.5"/><path d="M788.2,857.67 A33.5,33.5 0 0 1 790.99,857.96" fill="none" stroke="#ef762a" stroke-width="3.47"/><path d="M790.53,857.89 A33.5,33.5 0 0 1 793.29,858.38" fill="none" stroke="#ed712e" stroke-width="3.42"/><path d="M792.84,858.28 A33.5,33.5 0 0 1 795.56,858.96" fill="none" stroke="#ea6a34" stroke-width="3.35"/><path d="M795.11,858.83 A33.5,33.5 0 0 1 797.78,859.7" fill="none" stroke="#e7603b" stroke-width="3.26"/><path d="M797.34,859.54 A33.5,33.5 0 0 1 799.94,860.59" fill="none" stroke="#e15645" stroke-width="3.15"/><path d="M799.51,860.4 A33.5,33.5 0 0 1 802.03,861.63" fill="none" stroke="#d84d53" stroke-width="3.03"/><path d="M801.62,861.41 A33.5,33.5 0 0 1 804.05,862.82" fill="none" stroke="#ce4362" stroke-width="2.89"/><path d="M803.65,862.57 A33.5,33.5 0 0 1 805.98,864.14" fill="none" stroke="#c23a71" stroke-width="2.74"/><path d="M805.6,863.86 A33.5,33.5 0 0 1 807.81,865.59" fill="none" stroke="#b3347f" stroke-width="2.59"/><path d="M807.45,865.29 A33.5,33.5 0 0 1 809.54,867.17" fill="none" stroke="#a42e8d" stroke-width="2.43"/><path d="M809.2,866.84 A33.5,33.5 0 0 1 811.15,868.86" fill="none" stroke="#942a92" stroke-width="2.27"/><path d="M810.84,868.51 A33.5,33.5 0 0 1 812.64,870.66" fill="none" stroke="#842894" stroke-width="2.13"/><path d="M812.35,870.29 A33.5,33.5 0 0 1 814,872.56" fill="none" stroke="#752597" stroke-width="1.99"/><path d="M813.74,872.17 A33.5,33.5 0 0 1 815.23,874.55" fill="none" stroke="#672496" stroke-width="1.86"/><path d="M814.99,874.15 A33.5,33.5 0 0 1 816.31,876.63" fill="none" stroke="#5c2390" stroke-width="1.75"/><path d="M816.11,876.2 A33.5,33.5 0 0 1 817.25,878.77" fill="none" stroke="#53228c" stroke-width="1.65"/><path d="M817.07,878.33 A33.5,33.5 0 0 1 818.03,880.97" fill="none" stroke="#321e6f" stroke-width="1.58"/></g>
<g filter="url(#g3)"><path d="M818.03,901.23 A33.5,33.5 0 0 1 817.07,903.87" fill="none" stroke="#321e6f" stroke-width="1.58"/><path d="M817.25,903.43 A33.5,33.5 0 0 1 816.11,906" fill="none" stroke="#53228c" stroke-width="1.65"/><path d="M816.31,905.57 A33.5,33.5 0 0 1 814.99,908.05" fill="none" stroke="#5c2390" stroke-width="1.75"/><path d="M815.23,907.65 A33.5,33.5 0 0 1 813.74,910.03" fill="none" stroke="#672496" stroke-width="1.86"/><path d="M814,909.64 A33.5,33.5 0 0 1 812.35,911.91" fill="none" stroke="#752597" stroke-width="1.99"/><path d="M812.64,911.54 A33.5,33.5 0 0 1 810.84,913.69" fill="none" stroke="#842894" stroke-width="2.13"/><path d="M811.15,913.34 A33.5,33.5 0 0 1 809.2,915.36" fill="none" stroke="#942a92" stroke-width="2.27"/><path d="M809.54,915.03 A33.5,33.5 0 0 1 807.45,916.91" fill="none" stroke="#a42e8d" stroke-width="2.43"/><path d="M807.81,916.61 A33.5,33.5 0 0 1 805.6,918.34" fill="none" stroke="#b3347f" stroke-width="2.59"/><path d="M805.98,918.06 A33.5,33.5 0 0 1 803.65,919.63" fill="none" stroke="#c23a71" stroke-width="2.74"/><path d="M804.05,919.38 A33.5,33.5 0 0 1 801.62,920.79" fill="none" stroke="#ce4362" stroke-width="2.89"/><path d="M802.03,920.57 A33.5,33.5 0 0 1 799.51,921.8" fill="none" stroke="#d84d53" stroke-width="3.03"/><path d="M799.94,921.61 A33.5,33.5 0 0 1 797.34,922.66" fill="none" stroke="#e15645" stroke-width="3.15"/><path d="M797.78,922.5 A33.5,33.5 0 0 1 795.11,923.37" fill="none" stroke="#e7603b" stroke-width="3.26"/><path d="M795.56,923.24 A33.5,33.5 0 0 1 792.84,923.92" fill="none" stroke="#ea6a34" stroke-width="3.35"/><path d="M793.29,923.82 A33.5,33.5 0 0 1 790.53,924.31" fill="none" stroke="#ed712e" stroke-width="3.42"/><path d="M790.99,924.24 A33.5,33.5 0 0 1 788.2,924.53" fill="none" stroke="#ef762a" stroke-width="3.47"/><path d="M788.67,924.5 A33.5,33.5 0 0 1 785.87,924.6" fill="none" stroke="#f07929" stroke-width="3.5"/><path d="M786.33,924.6 A33.5,33.5 0 0 1 783.53,924.5" fill="none" stroke="#f07929" stroke-width="3.5"/><path d="M784,924.53 A33.5,33.5 0 0 1 781.21,924.24" fill="none" stroke="#ef762a" stroke-width="3.47"/><path d="M781.67,924.31 A33.5,33.5 0 0 1 778.91,923.82" fill="none" stroke="#ed712e" stroke-width="3.42"/><path d="M779.36,923.92 A33.5,33.5 0 0 1 776.64,923.24" fill="none" stroke="#ea6a34" stroke-width="3.35"/><path d="M777.09,923.37 A33.5,33.5 0 0 1 774.42,922.5" fill="none" stroke="#e7603b" stroke-width="3.26"/><path d="M774.86,922.66 A33.5,33.5 0 0 1 772.26,921.61" fill="none" stroke="#e15645" stroke-width="3.15"/><path d="M772.69,921.8 A33.5,33.5 0 0 1 770.17,920.57" fill="none" stroke="#d84d53" stroke-width="3.03"/><path d="M770.58,920.79 A33.5,33.5 0 0 1 768.15,919.38" fill="none" stroke="#ce4362" stroke-width="2.89"/><path d="M768.55,919.63 A33.5,33.5 0 0 1 766.22,918.06" fill="none" stroke="#c23a71" stroke-width="2.74"/><path d="M766.6,918.34 A33.5,33.5 0 0 1 764.39,916.61" fill="none" stroke="#b3347f" stroke-width="2.59"/><path d="M764.75,916.91 A33.5,33.5 0 0 1 762.66,915.03" fill="none" stroke="#a42e8d" stroke-width="2.43"/><path d="M763,915.36 A33.5,33.5 0 0 1 761.05,913.34" fill="none" stroke="#942a92" stroke-width="2.27"/><path d="M761.36,913.69 A33.5,33.5 0 0 1 759.56,911.54" fill="none" stroke="#842894" stroke-width="2.13"/><path d="M759.85,911.91 A33.5,33.5 0 0 1 758.2,909.64" fill="none" stroke="#752597" stroke-width="1.99"/><path d="M758.46,910.03 A33.5,33.5 0 0 1 756.97,907.65" fill="none" stroke="#672496" stroke-width="1.86"/><path d="M757.21,908.05 A33.5,33.5 0 0 1 755.89,905.57" fill="none" stroke="#5c2390" stroke-width="1.75"/><path d="M756.09,906 A33.5,33.5 0 0 1 754.95,903.43" fill="none" stroke="#53228c" stroke-width="1.65"/><path d="M755.13,903.87 A33.5,33.5 0 0 1 754.17,901.23" fill="none" stroke="#321e6f" stroke-width="1.58"/></g>
<g filter="url(#g3)"><path d="M865.77,880.97 A33.5,33.5 0 0 1 866.73,878.33" fill="none" stroke="#321e6f" stroke-width="1.58"/><path d="M866.55,878.77 A33.5,33.5 0 0 1 867.69,876.2" fill="none" stroke="#53228c" stroke-width="1.65"/><path d="M867.49,876.63 A33.5,33.5 0 0 1 868.81,874.15" fill="none" stroke="#5c2390" stroke-width="1.75"/><path d="M868.57,874.55 A33.5,33.5 0 0 1 870.06,872.17" fill="none" stroke="#672496" stroke-width="1.86"/><path d="M869.8,872.56 A33.5,33.5 0 0 1 871.45,870.29" fill="none" stroke="#752597" stroke-width="1.99"/><path d="M871.16,870.66 A33.5,33.5 0 0 1 872.96,868.51" fill="none" stroke="#842894" stroke-width="2.13"/><path d="M872.65,868.86 A33.5,33.5 0 0 1 874.6,866.84" fill="none" stroke="#942a92" stroke-width="2.27"/><path d="M874.26,867.17 A33.5,33.5 0 0 1 876.35,865.29" fill="none" stroke="#a42e8d" stroke-width="2.43"/><path d="M875.99,865.59 A33.5,33.5 0 0 1 878.2,863.86" fill="none" stroke="#b3347f" stroke-width="2.59"/><path d="M877.82,864.14 A33.5,33.5 0 0 1 880.15,862.57" fill="none" stroke="#c23a71" stroke-width="2.74"/><path d="M879.75,862.82 A33.5,33.5 0 0 1 882.18,861.41" fill="none" stroke="#ce4362" stroke-width="2.89"/><path d="M881.77,861.63 A33.5,33.5 0 0 1 884.29,860.4" fill="none" stroke="#d84d53" stroke-width="3.03"/><path d="M883.86,860.59 A33.5,33.5 0 0 1 886.46,859.54" fill="none" stroke="#e15645" stroke-width="3.15"/><path d="M886.02,859.7 A33.5,33.5 0 0 1 888.69,858.83" fill="none" stroke="#e7603b" stroke-width="3.26"/><path d="M888.24,858.96 A33.5,33.5 0 0 1 890.96,858.28" fill="none" stroke="#ea6a34" stroke-width="3.35"/><path d="M890.51,858.38 A33.5,33.5 0 0 1 893.27,857.89" fill="none" stroke="#ed712e" stroke-width="3.42"/><path d="M892.81,857.96 A33.5,33.5 0 0 1 895.6,857.67" fill="none" stroke="#ef762a" stroke-width="3.47"/><path d="M895.13,857.7 A33.5,33.5 0 0 1 897.93,857.6" fill="none" stroke="#f07929" stroke-width="3.5"/><path d="M897.47,857.6 A33.5,33.5 0 0 1 900.27,857.7" fill="none" stroke="#f07929" stroke-width="3.5"/><path d="M899.8,857.67 A33.5,33.5 0 0 1 902.59,857.96" fill="none" stroke="#ef762a" stroke-width="3.47"/><path d="M902.13,857.89 A33.5,33.5 0 0 1 904.89,858.38" fill="none" stroke="#ed712e" stroke-width="3.42"/><path d="M904.44,858.28 A33.5,33.5 0 0 1 907.16,858.96" fill="none" stroke="#ea6a34" stroke-width="3.35"/><path d="M906.71,858.83 A33.5,33.5 0 0 1 909.38,859.7" fill="none" stroke="#e7603b" stroke-width="3.26"/><path d="M908.94,859.54 A33.5,33.5 0 0 1 911.54,860.59" fill="none" stroke="#e15645" stroke-width="3.15"/><path d="M911.11,860.4 A33.5,33.5 0 0 1 913.63,861.63" fill="none" stroke="#d84d53" stroke-width="3.03"/><path d="M913.22,861.41 A33.5,33.5 0 0 1 915.65,862.82" fill="none" stroke="#ce4362" stroke-width="2.89"/><path d="M915.25,862.57 A33.5,33.5 0 0 1 917.58,864.14" fill="none" stroke="#c23a71" stroke-width="2.74"/><path d="M917.2,863.86 A33.5,33.5 0 0 1 919.41,865.59" fill="none" stroke="#b3347f" stroke-width="2.59"/><path d="M919.05,865.29 A33.5,33.5 0 0 1 921.14,867.17" fill="none" stroke="#a42e8d" stroke-width="2.43"/><path d="M920.8,866.84 A33.5,33.5 0 0 1 922.75,868.86" fill="none" stroke="#942a92" stroke-width="2.27"/><path d="M922.44,868.51 A33.5,33.5 0 0 1 924.24,870.66" fill="none" stroke="#842894" stroke-width="2.13"/><path d="M923.95,870.29 A33.5,33.5 0 0 1 925.6,872.56" fill="none" stroke="#752597" stroke-width="1.99"/><path d="M925.34,872.17 A33.5,33.5 0 0 1 926.83,874.55" fill="none" stroke="#672496" stroke-width="1.86"/><path d="M926.59,874.15 A33.5,33.5 0 0 1 927.91,876.63" fill="none" stroke="#5c2390" stroke-width="1.75"/><path d="M927.71,876.2 A33.5,33.5 0 0 1 928.85,878.77" fill="none" stroke="#53228c" stroke-width="1.65"/><path d="M928.67,878.33 A33.5,33.5 0 0 1 929.63,880.97" fill="none" stroke="#321e6f" stroke-width="1.58"/></g>
<g filter="url(#g3)"><path d="M929.63,901.23 A33.5,33.5 0 0 1 928.67,903.87" fill="none" stroke="#321e6f" stroke-width="1.58"/><path d="M928.85,903.43 A33.5,33.5 0 0 1 927.71,906" fill="none" stroke="#53228c" stroke-width="1.65"/><path d="M927.91,905.57 A33.5,33.5 0 0 1 926.59,908.05" fill="none" stroke="#5c2390" stroke-width="1.75"/><path d="M926.83,907.65 A33.5,33.5 0 0 1 925.34,910.03" fill="none" stroke="#672496" stroke-width="1.86"/><path d="M925.6,909.64 A33.5,33.5 0 0 1 923.95,911.91" fill="none" stroke="#752597" stroke-width="1.99"/><path d="M924.24,911.54 A33.5,33.5 0 0 1 922.44,913.69" fill="none" stroke="#842894" stroke-width="2.13"/><path d="M922.75,913.34 A33.5,33.5 0 0 1 920.8,915.36" fill="none" stroke="#942a92" stroke-width="2.27"/><path d="M921.14,915.03 A33.5,33.5 0 0 1 919.05,916.91" fill="none" stroke="#a42e8d" stroke-width="2.43"/><path d="M919.41,916.61 A33.5,33.5 0 0 1 917.2,918.34" fill="none" stroke="#b3347f" stroke-width="2.59"/><path d="M917.58,918.06 A33.5,33.5 0 0 1 915.25,919.63" fill="none" stroke="#c23a71" stroke-width="2.74"/><path d="M915.65,919.38 A33.5,33.5 0 0 1 913.22,920.79" fill="none" stroke="#ce4362" stroke-width="2.89"/><path d="M913.63,920.57 A33.5,33.5 0 0 1 911.11,921.8" fill="none" stroke="#d84d53" stroke-width="3.03"/><path d="M911.54,921.61 A33.5,33.5 0 0 1 908.94,922.66" fill="none" stroke="#e15645" stroke-width="3.15"/><path d="M909.38,922.5 A33.5,33.5 0 0 1 906.71,923.37" fill="none" stroke="#e7603b" stroke-width="3.26"/><path d="M907.16,923.24 A33.5,33.5 0 0 1 904.44,923.92" fill="none" stroke="#ea6a34" stroke-width="3.35"/><path d="M904.89,923.82 A33.5,33.5 0 0 1 902.13,924.31" fill="none" stroke="#ed712e" stroke-width="3.42"/><path d="M902.59,924.24 A33.5,33.5 0 0 1 899.8,924.53" fill="none" stroke="#ef762a" stroke-width="3.47"/><path d="M900.27,924.5 A33.5,33.5 0 0 1 897.47,924.6" fill="none" stroke="#f07929" stroke-width="3.5"/><path d="M897.93,924.6 A33.5,33.5 0 0 1 895.13,924.5" fill="none" stroke="#f07929" stroke-width="3.5"/><path d="M895.6,924.53 A33.5,33.5 0 0 1 892.81,924.24" fill="none" stroke="#ef762a" stroke-width="3.47"/><path d="M893.27,924.31 A33.5,33.5 0 0 1 890.51,923.82" fill="none" stroke="#ed712e" stroke-width="3.42"/><path d="M890.96,923.92 A33.5,33.5 0 0 1 888.24,923.24" fill="none" stroke="#ea6a34" stroke-width="3.35"/><path d="M888.69,923.37 A33.5,33.5 0 0 1 886.02,922.5" fill="none" stroke="#e7603b" stroke-width="3.26"/><path d="M886.46,922.66 A33.5,33.5 0 0 1 883.86,921.61" fill="none" stroke="#e15645" stroke-width="3.15"/><path d="M884.29,921.8 A33.5,33.5 0 0 1 881.77,920.57" fill="none" stroke="#d84d53" stroke-width="3.03"/><path d="M882.18,920.79 A33.5,33.5 0 0 1 879.75,919.38" fill="none" stroke="#ce4362" stroke-width="2.89"/><path d="M880.15,919.63 A33.5,33.5 0 0 1 877.82,918.06" fill="none" stroke="#c23a71" stroke-width="2.74"/><path d="M878.2,918.34 A33.5,33.5 0 0 1 875.99,916.61" fill="none" stroke="#b3347f" stroke-width="2.59"/><path d="M876.35,916.91 A33.5,33.5 0 0 1 874.26,915.03" fill="none" stroke="#a42e8d" stroke-width="2.43"/><path d="M874.6,915.36 A33.5,33.5 0 0 1 872.65,913.34" fill="none" stroke="#942a92" stroke-width="2.27"/><path d="M872.96,913.69 A33.5,33.5 0 0 1 871.16,911.54" fill="none" stroke="#842894" stroke-width="2.13"/><path d="M871.45,911.91 A33.5,33.5 0 0 1 869.8,909.64" fill="none" stroke="#752597" stroke-width="1.99"/><path d="M870.06,910.03 A33.5,33.5 0 0 1 868.57,907.65" fill="none" stroke="#672496" stroke-width="1.86"/><path d="M868.81,908.05 A33.5,33.5 0 0 1 867.49,905.57" fill="none" stroke="#5c2390" stroke-width="1.75"/><path d="M867.69,906 A33.5,33.5 0 0 1 866.55,903.43" fill="none" stroke="#53228c" stroke-width="1.65"/><path d="M866.73,903.87 A33.5,33.5 0 0 1 865.77,901.23" fill="none" stroke="#321e6f" stroke-width="1.58"/></g>
<rect x="716.4" y="820" width="38" height="27.5" fill="#000" />
<line x1="786.1" y1="829.1" x2="786.1" y2="949.7" stroke="#f4f4f4" stroke-width="1.5" stroke-dasharray="6 2 1.5 2"/>
<text x="833.5" y="847.5" class="s" font-size="12" fill="#f4f4f4" text-anchor="middle" transform="rotate(-90 833.5 847.5)" font-weight="bold">Y-pol</text>
<line x1="839.4" y1="831" x2="839.4" y2="866" stroke="#f4f4f4" stroke-width="2" />
<polygon points="839.4,825.5 835.4,834.5 843.4,834.5" fill="#f4f4f4"/><polygon points="839.4,871.3 835.4,862.3 843.4,862.3" fill="#f4f4f4"/>
<text x="851.3" y="853.4" class="s" font-size="17.5" fill="#f4f4f4" text-anchor="middle" font-weight="bold" font-style="italic">E</text>
<polyline points="770.4,946 770.4,1069.8 962.8,1069.8" fill="none" stroke="#e8e8e8" stroke-width="1.5" stroke-linejoin="round" stroke-linecap="round" stroke-linejoin="miter"/>
<line x1="785.85" y1="1069.8" x2="785.85" y2="1066.4" stroke="#e8e8e8" stroke-width="1.1" />
<line x1="800.1" y1="1069.8" x2="800.1" y2="1067.8" stroke="#e8e8e8" stroke-width="1.1" />
<line x1="814.35" y1="1069.8" x2="814.35" y2="1066.4" stroke="#e8e8e8" stroke-width="1.1" />
<line x1="828.6" y1="1069.8" x2="828.6" y2="1067.8" stroke="#e8e8e8" stroke-width="1.1" />
<line x1="842.85" y1="1069.8" x2="842.85" y2="1066.4" stroke="#e8e8e8" stroke-width="1.1" />
<line x1="857.1" y1="1069.8" x2="857.1" y2="1067.8" stroke="#e8e8e8" stroke-width="1.1" />
<line x1="871.35" y1="1069.8" x2="871.35" y2="1066.4" stroke="#e8e8e8" stroke-width="1.1" />
<line x1="885.6" y1="1069.8" x2="885.6" y2="1067.8" stroke="#e8e8e8" stroke-width="1.1" />
<line x1="899.85" y1="1069.8" x2="899.85" y2="1066.4" stroke="#e8e8e8" stroke-width="1.1" />
<line x1="914.1" y1="1069.8" x2="914.1" y2="1067.8" stroke="#e8e8e8" stroke-width="1.1" />
<line x1="928.35" y1="1069.8" x2="928.35" y2="1066.4" stroke="#e8e8e8" stroke-width="1.1" />
<line x1="942.6" y1="1069.8" x2="942.6" y2="1067.8" stroke="#e8e8e8" stroke-width="1.1" />
<line x1="956.85" y1="1069.8" x2="956.85" y2="1066.4" stroke="#e8e8e8" stroke-width="1.1" />
<line x1="770.4" y1="969.5" x2="773.2" y2="969.5" stroke="#e8e8e8" stroke-width="1.1" />
<line x1="770.4" y1="1017.2" x2="773.2" y2="1017.2" stroke="#e8e8e8" stroke-width="1.1" />
<text x="766.3" y="974.1" class="s" font-size="15" fill="#f4f4f4" text-anchor="end" font-weight="bold">20</text>
<text x="766.3" y="1069.6" class="s" font-size="15" fill="#f4f4f4" text-anchor="end" font-weight="bold">0</text>
<text class="s" transform="translate(740 1009) rotate(-90)" font-size="18.5" fill="#f4f4f4" text-anchor="middle" stroke="#f4f4f4" stroke-width="0.55">(|<tspan font-style="italic">E</tspan>|/|<tspan font-style="italic">E</tspan><tspan font-size="11.47" dy="4.07">0</tspan><tspan dy="-4.07">|)</tspan><tspan font-size="11.47" dy="-7.77">2</tspan></text>
<polyline points="771.14,1054 771.41,1053.97 771.68,1053.95 771.96,1053.92 772.23,1053.89 772.51,1053.87 772.78,1053.84 773.06,1053.82 773.33,1053.79 773.6,1053.76 773.88,1053.74 774.15,1053.71 774.43,1053.68 774.7,1053.66 774.98,1053.63 775.25,1053.6 775.52,1053.57 775.8,1053.54 776.07,1053.52 776.35,1053.49 776.62,1053.46 776.9,1053.43 777.17,1053.4 777.44,1053.37 777.72,1053.34 777.99,1053.32 778.27,1053.29 778.54,1053.26 778.81,1053.23 779.09,1053.2 779.36,1053.17 779.64,1053.14 779.91,1053.1 780.19,1053.07 780.46,1053.04 780.73,1053.01 781.01,1052.98 781.28,1052.95 781.56,1052.92 781.83,1052.88 782.11,1052.85 782.38,1052.82 782.65,1052.79 782.93,1052.75 783.2,1052.72 783.48,1052.69 783.75,1052.65 784.03,1052.62 784.3,1052.58 784.57,1052.55 784.85,1052.51 785.12,1052.48 785.4,1052.44 785.67,1052.41 785.95,1052.37 786.22,1052.34 786.49,1052.3 786.77,1052.26 787.04,1052.22 787.32,1052.19 787.59,1052.15 787.87,1052.11 788.14,1052.07 788.41,1052.04 788.69,1052 788.96,1051.96 789.24,1051.92 789.51,1051.88 789.79,1051.84 790.06,1051.8 790.33,1051.76 790.61,1051.72 790.88,1051.67 791.16,1051.63 791.43,1051.59 791.7,1051.55 791.98,1051.51 792.25,1051.46 792.53,1051.42 792.8,1051.37 793.08,1051.33 793.35,1051.29 793.62,1051.24 793.9,1051.2 794.17,1051.15 794.45,1051.1 794.72,1051.06 795,1051.01 795.27,1050.96 795.54,1050.91 795.82,1050.86 796.09,1050.82 796.37,1050.77 796.64,1050.72 796.92,1050.67 797.19,1050.62 797.46,1050.56 797.74,1050.51 798.01,1050.46 798.29,1050.41 798.56,1050.35 798.84,1050.3 799.11,1050.24 799.38,1050.19 799.66,1050.13 799.93,1050.08 800.21,1050.02 800.48,1049.96 800.76,1049.91 801.03,1049.85 801.3,1049.79 801.58,1049.73 801.85,1049.67 802.13,1049.61 802.4,1049.54 802.68,1049.48 802.95,1049.42 803.22,1049.35 803.5,1049.29 803.77,1049.22 804.05,1049.16 804.32,1049.09 804.59,1049.02 804.87,1048.95 805.14,1048.88 805.42,1048.81 805.69,1048.74 805.97,1048.67 806.24,1048.6 806.51,1048.52 806.79,1048.45 807.06,1048.37 807.34,1048.3 807.61,1048.22 807.89,1048.14 808.16,1048.06 808.43,1047.98 808.71,1047.89 808.98,1047.81 809.26,1047.73 809.53,1047.64 809.81,1047.55 810.08,1047.47 810.35,1047.38 810.63,1047.29 810.9,1047.19 811.18,1047.1 811.45,1047 811.73,1046.91 812,1046.81 812.27,1046.71 812.55,1046.61 812.82,1046.51 813.1,1046.4 813.37,1046.3 813.65,1046.19 813.92,1046.08 814.19,1045.97 814.47,1045.85 814.74,1045.74 815.02,1045.62 815.29,1045.5 815.57,1045.38 815.84,1045.26 816.11,1045.13 816.39,1045 816.66,1044.87 816.94,1044.74 817.21,1044.6 817.49,1044.46 817.76,1044.32 818.03,1044.17 818.31,1044.02 818.58,1043.87 818.86,1043.72 819.13,1043.56 819.4,1043.4 819.68,1043.23 819.95,1043.07 820.23,1042.89 820.5,1042.72 820.78,1042.53 821.05,1042.35 821.32,1042.16 821.6,1041.96 821.87,1041.76 822.15,1041.56 822.42,1041.35 822.7,1041.13 822.97,1040.9 823.24,1040.67 823.52,1040.44 823.79,1040.19 824.07,1039.94 824.34,1039.68 824.62,1039.42 824.89,1039.14 825.16,1038.85 825.44,1038.56 825.71,1038.25 825.99,1037.93 826.26,1037.6 826.54,1037.26 826.81,1036.91 827.08,1036.53 827.36,1036.15 827.63,1035.75 827.91,1035.32 828.18,1034.88 828.46,1034.42 828.73,1033.94 829,1033.43 829.28,1032.89 829.55,1032.32 829.83,1031.72 830.1,1031.09 830.38,1030.41 830.65,1029.69 830.92,1028.91 831.2,1028.08 831.47,1027.19 831.75,1026.22 832.02,1025.16 832.29,1024.01 832.57,1022.74 832.84,1021.34 833.12,1019.76 833.39,1017.99 833.67,1015.96 833.94,1013.61 834.21,1010.83 834.49,1007.49 834.76,1003.33 835.04,997.95 835.31,990.55 835.59,979.33 835.86,958.72 835.88,956.29 836.13,946.07 836.24,946.07 836.41,946.07 836.6,946.07 836.68,946.07 836.96,958.7 837.23,972.38 837.51,982.65 837.78,990.69 838.05,997.23 838.33,1002.7 838.6,1007.41 838.88,1011.53 839.15,1015.19 839.43,1018.49 839.7,1021.47 839.97,1024.18 840.25,1026.67 840.52,1028.96 840.8,1031.06 841.07,1033.01 841.35,1034.81 841.62,1036.48 841.89,1038.03 842.17,1039.48 842.44,1040.82 842.72,1042.08 842.99,1043.26 843.27,1044.36 843.54,1045.39 843.81,1046.35 844.09,1047.26 844.36,1048.12 844.64,1048.92 844.91,1049.68 845.18,1050.39 845.46,1051.06 845.73,1051.7 846.01,1052.3 846.28,1052.87 846.56,1053.4 846.83,1053.91 847.1,1054.39 847.38,1054.85 847.65,1055.29 847.93,1055.7 848.2,1056.09 848.48,1056.46 848.75,1056.81 849.02,1057.15 849.3,1057.47 849.57,1057.77 849.85,1058.06 850.12,1058.34 850.4,1058.6 850.67,1058.85 850.94,1059.09 851.22,1059.32 851.49,1059.53 851.77,1059.74 852.04,1059.93 852.32,1060.12 852.59,1060.3 852.86,1060.47 853.14,1060.63 853.41,1060.78 853.69,1060.93 853.96,1061.07 854.24,1061.2 854.51,1061.33 854.78,1061.45 855.06,1061.56 855.33,1061.67 855.61,1061.77 855.88,1061.86 856.16,1061.95 856.43,1062.04 856.7,1062.12 856.98,1062.2 857.25,1062.27 857.53,1062.33 857.8,1062.39 858.07,1062.45 858.35,1062.5 858.62,1062.55 858.9,1062.6 859.17,1062.64 859.45,1062.67 859.72,1062.71 859.99,1062.73 860.27,1062.76 860.54,1062.78 860.82,1062.8 861.09,1062.81 861.37,1062.82 861.64,1062.82 861.91,1062.83 862.19,1062.82 862.46,1062.82 862.74,1062.81 863.01,1062.8 863.29,1062.78 863.56,1062.76 863.83,1062.74 864.11,1062.71 864.38,1062.68 864.66,1062.64 864.93,1062.6 865.21,1062.56 865.48,1062.51 865.75,1062.46 866.03,1062.4 866.3,1062.34 866.58,1062.27 866.85,1062.2 867.13,1062.13 867.4,1062.05 867.67,1061.96 867.95,1061.87 868.22,1061.77 868.5,1061.67 868.77,1061.57 869.05,1061.45 869.32,1061.34 869.59,1061.21 869.87,1061.08 870.14,1060.94 870.42,1060.79 870.69,1060.64 870.96,1060.48 871.24,1060.31 871.51,1060.13 871.79,1059.95 872.06,1059.75 872.34,1059.55 872.61,1059.33 872.88,1059.11 873.16,1058.87 873.43,1058.62 873.71,1058.36 873.98,1058.08 874.26,1057.79 874.53,1057.49 874.8,1057.17 875.08,1056.84 875.35,1056.49 875.63,1056.12 875.9,1055.73 876.18,1055.32 876.45,1054.88 876.72,1054.43 877,1053.95 877.27,1053.44 877.55,1052.91 877.82,1052.34 878.1,1051.74 878.37,1051.11 878.64,1050.44 878.92,1049.73 879.19,1048.98 879.47,1048.18 879.74,1047.33 880.02,1046.42 880.29,1045.46 880.56,1044.43 880.84,1043.34 881.11,1042.17 881.39,1040.92 881.66,1039.58 881.94,1038.14 882.21,1036.59 882.48,1034.93 882.76,1033.14 883.03,1031.21 883.31,1029.11 883.58,1026.84 883.85,1024.37 884.13,1021.67 884.4,1018.71 884.68,1015.44 884.95,1011.81 885.23,1007.72 885.5,1003.06 885.77,997.65 886.05,991.21 886.32,983.29 886.6,973.21 886.87,959.83 887.15,946.07 887.24,946.07 887.42,946.07 887.61,946.07 887.69,946.07 887.97,956.29 887.97,956.47 888.24,978.28 888.52,989.91 888.79,997.5 889.07,1002.99 889.34,1007.22 889.61,1010.62 889.89,1013.42 890.16,1015.8 890.44,1017.85 890.71,1019.64 890.99,1021.23 891.26,1022.65 891.53,1023.92 891.81,1025.09 892.08,1026.15 892.36,1027.12 892.63,1028.02 892.91,1028.86 893.18,1029.63 893.45,1030.36 893.73,1031.04 894,1031.68 894.28,1032.28 894.55,1032.85 894.83,1033.39 895.1,1033.9 895.37,1034.39 895.65,1034.85 895.92,1035.29 896.2,1035.72 896.47,1036.12 896.74,1036.51 897.02,1036.88 897.29,1037.24 897.57,1037.58 897.84,1037.91 898.12,1038.23 898.39,1038.54 898.66,1038.83 898.94,1039.12 899.21,1039.4 899.49,1039.66 899.76,1039.92 900.04,1040.18 900.31,1040.42 900.58,1040.66 900.86,1040.89 901.13,1041.11 901.41,1041.33 901.68,1041.54 901.96,1041.75 902.23,1041.95 902.5,1042.14 902.78,1042.34 903.05,1042.52 903.33,1042.7 903.6,1042.88 903.88,1043.05 904.15,1043.22 904.42,1043.39 904.7,1043.55 904.97,1043.71 905.25,1043.86 905.52,1044.01 905.8,1044.16 906.07,1044.31 906.34,1044.45 906.62,1044.59 906.89,1044.73 907.17,1044.86 907.44,1044.99 907.72,1045.12 907.99,1045.25 908.26,1045.37 908.54,1045.49 908.81,1045.61 909.09,1045.73 909.36,1045.85 909.63,1045.96 909.91,1046.07 910.18,1046.18 910.46,1046.29 910.73,1046.4 911.01,1046.5 911.28,1046.6 911.55,1046.7 911.83,1046.8 912.1,1046.9 912.38,1047 912.65,1047.09 912.93,1047.19 913.2,1047.28 913.47,1047.37 913.75,1047.46 914.02,1047.55 914.3,1047.63 914.57,1047.72 914.85,1047.81 915.12,1047.89 915.39,1047.97 915.67,1048.05 915.94,1048.13 916.22,1048.21 916.49,1048.29 916.77,1048.37 917.04,1048.44 917.31,1048.52 917.59,1048.59 917.86,1048.66 918.14,1048.74 918.41,1048.81 918.69,1048.88 918.96,1048.95 919.23,1049.02 919.51,1049.09 919.78,1049.15 920.06,1049.22 920.33,1049.28 920.61,1049.35 920.88,1049.41 921.15,1049.48 921.43,1049.54 921.7,1049.6 921.98,1049.66 922.25,1049.72 922.52,1049.78 922.8,1049.84 923.07,1049.9 923.35,1049.96 923.62,1050.02 923.9,1050.07 924.17,1050.13 924.44,1050.19 924.72,1050.24 924.99,1050.3 925.27,1050.35 925.54,1050.4 925.82,1050.46 926.09,1050.51 926.36,1050.56 926.64,1050.61 926.91,1050.66 927.19,1050.71 927.46,1050.76 927.74,1050.81 928.01,1050.86 928.28,1050.91 928.56,1050.96 928.83,1051.01 929.11,1051.05 929.38,1051.1 929.66,1051.15 929.93,1051.19 930.2,1051.24 930.48,1051.28 930.75,1051.33 931.03,1051.37 931.3,1051.42 931.58,1051.46 931.85,1051.5 932.12,1051.55 932.4,1051.59 932.67,1051.63 932.95,1051.67 933.22,1051.71 933.5,1051.75 933.77,1051.79 934.04,1051.84 934.32,1051.88 934.59,1051.92 934.87,1051.95 935.14,1051.99 935.42,1052.03 935.69,1052.07 935.96,1052.11 936.24,1052.15 936.51,1052.18 936.79,1052.22 937.06,1052.26 937.33,1052.3 937.61,1052.33 937.88,1052.37 938.16,1052.4 938.43,1052.44 938.71,1052.48 938.98,1052.51 939.25,1052.55 939.53,1052.58 939.8,1052.61 940.08,1052.65 940.35,1052.68 940.63,1052.72 940.9,1052.75 941.17,1052.78 941.45,1052.82 941.72,1052.85 942,1052.88 942.27,1052.91 942.55,1052.95 942.82,1052.98 943.09,1053.01 943.37,1053.04 943.64,1053.07 943.92,1053.1 944.19,1053.13 944.47,1053.16 944.74,1053.19 945.01,1053.22 945.29,1053.25 945.56,1053.28 945.84,1053.31 946.11,1053.34 946.39,1053.37 946.66,1053.4 946.93,1053.43 947.21,1053.46 947.48,1053.49 947.76,1053.51 948.03,1053.54 948.31,1053.57 948.58,1053.6 948.85,1053.63 949.13,1053.65 949.4,1053.68 949.68,1053.71 949.95,1053.73 950.22,1053.76 950.5,1053.79 950.77,1053.81 951.05,1053.84 951.32,1053.87 951.6,1053.89 951.87,1053.92 952.14,1053.94 952.42,1053.97 952.69,1053.99 952.97,1054.02 953.24,1054.04 953.52,1054.07 953.79,1054.09 954.06,1054.12 954.34,1054.14 954.61,1054.17 954.89,1054.19 955.16,1054.22 955.44,1054.24 955.71,1054.26 955.98,1054.29 956.26,1054.31 956.53,1054.33 956.81,1054.36 957.08,1054.38 957.36,1054.4 957.63,1054.43 957.9,1054.45 958.18,1054.47 958.45,1054.49 958.73,1054.52 959,1054.54 959.28,1054.56 959.55,1054.58 959.82,1054.61 960.1,1054.63 960.37,1054.65 960.65,1054.67 960.92,1054.69 961.2,1054.71 961.47,1054.73 961.74,1054.76 962.02,1054.78 962.29,1054.8 962.57,1054.82 962.84,1054.84" fill="none" stroke="#dcdcdc" stroke-width="1.5" stroke-linejoin="round" stroke-linecap="round" filter="url(#g4)"/>
</g>
<rect x="981" y="820" width="14.5" height="258.7" fill="url(#infb)" stroke="#2a2a30" stroke-width="1.3"/><line x1="986" y1="840" x2="995.5" y2="840" stroke="#1a1a28" stroke-width="1.6" /><text x="0" y="0" class="s" font-size="18.5" fill="#24243a"  transform="translate(1005 846.7) scale(1.1 1)">40</text><line x1="986" y1="901" x2="995.5" y2="901" stroke="#1a1a28" stroke-width="1.6" /><text x="0" y="0" class="s" font-size="18.5" fill="#24243a"  transform="translate(1005 907.7) scale(1.1 1)">30</text><line x1="986" y1="962.2" x2="995.5" y2="962.2" stroke="#1a1a28" stroke-width="1.6" /><text x="0" y="0" class="s" font-size="18.5" fill="#24243a"  transform="translate(1005 968.9) scale(1.1 1)">20</text><line x1="986" y1="1023.2" x2="995.5" y2="1023.2" stroke="#1a1a28" stroke-width="1.6" /><text x="0" y="0" class="s" font-size="18.5" fill="#24243a"  transform="translate(1005 1029.9) scale(1.1 1)">10</text><text class="s" transform="translate(1056 951) rotate(-90)" font-size="18.5" fill="#3e3e48" text-anchor="middle" stroke="#3e3e48" stroke-width="0.3" textLength="85" lengthAdjust="spacing">(|<tspan font-style="italic">E</tspan>|/|<tspan font-style="italic">E</tspan><tspan font-size="11.47" dy="4.07">0</tspan><tspan dy="-4.07">|)</tspan><tspan font-size="11.47" dy="-7.77">2</tspan></text>
</g>
<g id="pg">
<text x="1225.5" y="485.6" class="r" font-size="61" fill="#111">(g)</text>
<g filter="url(#gb)">
<circle cx="1244.5" cy="672.3" r="11.3" fill="#ffa434" fill-opacity="0.93"/>
<circle cx="1329.8" cy="664" r="11.3" fill="#ffa434" fill-opacity="0.93"/>
<circle cx="1329.8" cy="694.3" r="11.3" fill="#ffa434" fill-opacity="0.93"/>
<circle cx="1329.8" cy="703.7" r="11.3" fill="#ffa434" fill-opacity="0.93"/>
<circle cx="1500.4" cy="692.8" r="11.3" fill="#ffa434" fill-opacity="0.93"/>
<circle cx="1500.4" cy="748" r="11.3" fill="#ffa434" fill-opacity="0.93"/>
<circle cx="1500.4" cy="762.6" r="11.3" fill="#ffa434" fill-opacity="0.93"/>
<circle cx="1500.4" cy="785.8" r="11.3" fill="#ffa434" fill-opacity="0.93"/>
<circle cx="1671" cy="775.7" r="11.3" fill="#ffa434" fill-opacity="0.93"/>
<circle cx="1671" cy="812.6" r="11.3" fill="#ffa434" fill-opacity="0.93"/>
<circle cx="1671" cy="829.3" r="11.3" fill="#ffa434" fill-opacity="0.93"/>
<circle cx="1671" cy="836.6" r="11.3" fill="#ffa434" fill-opacity="0.93"/>
<circle cx="1841.6" cy="791.2" r="11.3" fill="#ffa434" fill-opacity="0.93"/>
<circle cx="1841.6" cy="797.1" r="11.3" fill="#ffa434" fill-opacity="0.93"/>
<circle cx="1841.6" cy="811.7" r="11.3" fill="#ffa434" fill-opacity="0.93"/>
<circle cx="1841.6" cy="824.9" r="11.3" fill="#ffa434" fill-opacity="0.93"/>
<circle cx="1841.6" cy="877.6" r="11.3" fill="#ffa434" fill-opacity="0.93"/>
<circle cx="1841.6" cy="887.9" r="11.3" fill="#ffa434" fill-opacity="0.93"/>
<circle cx="2012.2" cy="817.6" r="11.3" fill="#ffa434" fill-opacity="0.93"/>
<circle cx="2012.2" cy="840.1" r="11.3" fill="#ffa434" fill-opacity="0.93"/>
<circle cx="2012.2" cy="889.3" r="11.3" fill="#ffa434" fill-opacity="0.93"/>
<circle cx="2012.2" cy="895.2" r="11.3" fill="#ffa434" fill-opacity="0.93"/>
<circle cx="2012.2" cy="909.3" r="11.3" fill="#ffa434" fill-opacity="0.93"/>
<circle cx="1244.5" cy="532.6" r="11.3" fill="#4a1518" stroke="#3a0c10" stroke-width="0.8"/>
<circle cx="1244.5" cy="571.3" r="11.3" fill="#4a1518" stroke="#3a0c10" stroke-width="0.8"/>
<circle cx="1329.8" cy="595.7" r="11.3" fill="#4a1518" stroke="#3a0c10" stroke-width="0.8"/>
<circle cx="1329.8" cy="684.1" r="11.3" fill="#4a1518" stroke="#3a0c10" stroke-width="0.8"/>
<circle cx="1500.4" cy="734.7" r="11.3" fill="#4a1518" stroke="#3a0c10" stroke-width="0.8"/>
<circle cx="1671" cy="806.8" r="11.3" fill="#4a1518" stroke="#3a0c10" stroke-width="0.8"/>
<circle cx="1671" cy="884.1" r="11.3" fill="#4a1518" stroke="#3a0c10" stroke-width="0.8"/>
<circle cx="1841.6" cy="923" r="11.3" fill="#4a1518" stroke="#3a0c10" stroke-width="0.8"/>
<circle cx="2012.2" cy="995.6" r="11.3" fill="#4a1518" stroke="#3a0c10" stroke-width="0.8"/>
</g>
<rect x="1204.1" y="506.7" width="850.6" height="554.5" fill="none" stroke="#1c1c1c" stroke-width="2.4"/>
<line x1="1329.8" y1="1061.2" x2="1329.8" y2="1048.2" stroke="#1c1c1c" stroke-width="2.2" />
<line x1="1329.8" y1="506.7" x2="1329.8" y2="519.7" stroke="#1c1c1c" stroke-width="2.2" />
<text x="0" y="0" class="s" font-size="30" fill="#1c1c22" text-anchor="middle"  transform="translate(1329.8 1103) scale(1.05 1)">100</text>
<line x1="1500.4" y1="1061.2" x2="1500.4" y2="1048.2" stroke="#1c1c1c" stroke-width="2.2" />
<line x1="1500.4" y1="506.7" x2="1500.4" y2="519.7" stroke="#1c1c1c" stroke-width="2.2" />
<text x="0" y="0" class="s" font-size="30" fill="#1c1c22" text-anchor="middle"  transform="translate(1500.4 1103) scale(1.05 1)">200</text>
<line x1="1671" y1="1061.2" x2="1671" y2="1048.2" stroke="#1c1c1c" stroke-width="2.2" />
<line x1="1671" y1="506.7" x2="1671" y2="519.7" stroke="#1c1c1c" stroke-width="2.2" />
<text x="0" y="0" class="s" font-size="30" fill="#1c1c22" text-anchor="middle"  transform="translate(1671 1103) scale(1.05 1)">300</text>
<line x1="1841.6" y1="1061.2" x2="1841.6" y2="1048.2" stroke="#1c1c1c" stroke-width="2.2" />
<line x1="1841.6" y1="506.7" x2="1841.6" y2="519.7" stroke="#1c1c1c" stroke-width="2.2" />
<text x="0" y="0" class="s" font-size="30" fill="#1c1c22" text-anchor="middle"  transform="translate(1841.6 1103) scale(1.05 1)">400</text>
<line x1="2012.2" y1="1061.2" x2="2012.2" y2="1048.2" stroke="#1c1c1c" stroke-width="2.2" />
<line x1="2012.2" y1="506.7" x2="2012.2" y2="519.7" stroke="#1c1c1c" stroke-width="2.2" />
<text x="0" y="0" class="s" font-size="30" fill="#1c1c22" text-anchor="middle"  transform="translate(2012.2 1103) scale(1.05 1)">500</text>
<line x1="1204.1" y1="1054.53" x2="1211.1" y2="1054.53" stroke="#1c1c1c" stroke-width="1.9" />
<line x1="2054.7" y1="1054.53" x2="2047.7" y2="1054.53" stroke="#1c1c1c" stroke-width="1.9" />
<line x1="1204.1" y1="1033.09" x2="1211.1" y2="1033.09" stroke="#1c1c1c" stroke-width="1.9" />
<line x1="2054.7" y1="1033.09" x2="2047.7" y2="1033.09" stroke="#1c1c1c" stroke-width="1.9" />
<line x1="1204.1" y1="1016.46" x2="1211.1" y2="1016.46" stroke="#1c1c1c" stroke-width="1.9" />
<line x1="2054.7" y1="1016.46" x2="2047.7" y2="1016.46" stroke="#1c1c1c" stroke-width="1.9" />
<line x1="1204.1" y1="1002.87" x2="1211.1" y2="1002.87" stroke="#1c1c1c" stroke-width="1.9" />
<line x1="2054.7" y1="1002.87" x2="2047.7" y2="1002.87" stroke="#1c1c1c" stroke-width="1.9" />
<line x1="1204.1" y1="991.38" x2="1211.1" y2="991.38" stroke="#1c1c1c" stroke-width="1.9" />
<line x1="2054.7" y1="991.38" x2="2047.7" y2="991.38" stroke="#1c1c1c" stroke-width="1.9" />
<line x1="1204.1" y1="981.43" x2="1211.1" y2="981.43" stroke="#1c1c1c" stroke-width="1.9" />
<line x1="2054.7" y1="981.43" x2="2047.7" y2="981.43" stroke="#1c1c1c" stroke-width="1.9" />
<line x1="1204.1" y1="972.65" x2="1211.1" y2="972.65" stroke="#1c1c1c" stroke-width="1.9" />
<line x1="2054.7" y1="972.65" x2="2047.7" y2="972.65" stroke="#1c1c1c" stroke-width="1.9" />
<line x1="1204.1" y1="964.8" x2="1217.1" y2="964.8" stroke="#1c1c1c" stroke-width="2.2" />
<line x1="2054.7" y1="964.8" x2="2041.7" y2="964.8" stroke="#1c1c1c" stroke-width="2.2" />
<line x1="1204.1" y1="913.14" x2="1211.1" y2="913.14" stroke="#1c1c1c" stroke-width="1.9" />
<line x1="2054.7" y1="913.14" x2="2047.7" y2="913.14" stroke="#1c1c1c" stroke-width="1.9" />
<line x1="1204.1" y1="882.93" x2="1211.1" y2="882.93" stroke="#1c1c1c" stroke-width="1.9" />
<line x1="2054.7" y1="882.93" x2="2047.7" y2="882.93" stroke="#1c1c1c" stroke-width="1.9" />
<line x1="1204.1" y1="861.49" x2="1211.1" y2="861.49" stroke="#1c1c1c" stroke-width="1.9" />
<line x1="2054.7" y1="861.49" x2="2047.7" y2="861.49" stroke="#1c1c1c" stroke-width="1.9" />
<line x1="1204.1" y1="844.86" x2="1211.1" y2="844.86" stroke="#1c1c1c" stroke-width="1.9" />
<line x1="2054.7" y1="844.86" x2="2047.7" y2="844.86" stroke="#1c1c1c" stroke-width="1.9" />
<line x1="1204.1" y1="831.27" x2="1211.1" y2="831.27" stroke="#1c1c1c" stroke-width="1.9" />
<line x1="2054.7" y1="831.27" x2="2047.7" y2="831.27" stroke="#1c1c1c" stroke-width="1.9" />
<line x1="1204.1" y1="819.78" x2="1211.1" y2="819.78" stroke="#1c1c1c" stroke-width="1.9" />
<line x1="2054.7" y1="819.78" x2="2047.7" y2="819.78" stroke="#1c1c1c" stroke-width="1.9" />
<line x1="1204.1" y1="809.83" x2="1211.1" y2="809.83" stroke="#1c1c1c" stroke-width="1.9" />
<line x1="2054.7" y1="809.83" x2="2047.7" y2="809.83" stroke="#1c1c1c" stroke-width="1.9" />
<line x1="1204.1" y1="801.05" x2="1211.1" y2="801.05" stroke="#1c1c1c" stroke-width="1.9" />
<line x1="2054.7" y1="801.05" x2="2047.7" y2="801.05" stroke="#1c1c1c" stroke-width="1.9" />
<line x1="1204.1" y1="793.2" x2="1217.1" y2="793.2" stroke="#1c1c1c" stroke-width="2.2" />
<line x1="2054.7" y1="793.2" x2="2041.7" y2="793.2" stroke="#1c1c1c" stroke-width="2.2" />
<line x1="1204.1" y1="741.54" x2="1211.1" y2="741.54" stroke="#1c1c1c" stroke-width="1.9" />
<line x1="2054.7" y1="741.54" x2="2047.7" y2="741.54" stroke="#1c1c1c" stroke-width="1.9" />
<line x1="1204.1" y1="711.33" x2="1211.1" y2="711.33" stroke="#1c1c1c" stroke-width="1.9" />
<line x1="2054.7" y1="711.33" x2="2047.7" y2="711.33" stroke="#1c1c1c" stroke-width="1.9" />
<line x1="1204.1" y1="689.89" x2="1211.1" y2="689.89" stroke="#1c1c1c" stroke-width="1.9" />
<line x1="2054.7" y1="689.89" x2="2047.7" y2="689.89" stroke="#1c1c1c" stroke-width="1.9" />
<line x1="1204.1" y1="673.26" x2="1211.1" y2="673.26" stroke="#1c1c1c" stroke-width="1.9" />
<line x1="2054.7" y1="673.26" x2="2047.7" y2="673.26" stroke="#1c1c1c" stroke-width="1.9" />
<line x1="1204.1" y1="659.67" x2="1211.1" y2="659.67" stroke="#1c1c1c" stroke-width="1.9" />
<line x1="2054.7" y1="659.67" x2="2047.7" y2="659.67" stroke="#1c1c1c" stroke-width="1.9" />
<line x1="1204.1" y1="648.18" x2="1211.1" y2="648.18" stroke="#1c1c1c" stroke-width="1.9" />
<line x1="2054.7" y1="648.18" x2="2047.7" y2="648.18" stroke="#1c1c1c" stroke-width="1.9" />
<line x1="1204.1" y1="638.23" x2="1211.1" y2="638.23" stroke="#1c1c1c" stroke-width="1.9" />
<line x1="2054.7" y1="638.23" x2="2047.7" y2="638.23" stroke="#1c1c1c" stroke-width="1.9" />
<line x1="1204.1" y1="629.45" x2="1211.1" y2="629.45" stroke="#1c1c1c" stroke-width="1.9" />
<line x1="2054.7" y1="629.45" x2="2047.7" y2="629.45" stroke="#1c1c1c" stroke-width="1.9" />
<line x1="1204.1" y1="621.6" x2="1217.1" y2="621.6" stroke="#1c1c1c" stroke-width="2.2" />
<line x1="2054.7" y1="621.6" x2="2041.7" y2="621.6" stroke="#1c1c1c" stroke-width="2.2" />
<line x1="1204.1" y1="569.94" x2="1211.1" y2="569.94" stroke="#1c1c1c" stroke-width="1.9" />
<line x1="2054.7" y1="569.94" x2="2047.7" y2="569.94" stroke="#1c1c1c" stroke-width="1.9" />
<line x1="1204.1" y1="539.73" x2="1211.1" y2="539.73" stroke="#1c1c1c" stroke-width="1.9" />
<line x1="2054.7" y1="539.73" x2="2047.7" y2="539.73" stroke="#1c1c1c" stroke-width="1.9" />
<line x1="1204.1" y1="518.29" x2="1211.1" y2="518.29" stroke="#1c1c1c" stroke-width="1.9" />
<line x1="2054.7" y1="518.29" x2="2047.7" y2="518.29" stroke="#1c1c1c" stroke-width="1.9" />
<text x="0" y="0" class="s" font-size="28" fill="#1c1c22"  transform="translate(1142.5 974.3) scale(1.05 1)">10</text><text x="1175.5" y="959.8" class="s" font-size="18" fill="#1c1c22">2</text>
<text x="0" y="0" class="s" font-size="28" fill="#1c1c22"  transform="translate(1142.5 802.7) scale(1.05 1)">10</text><text x="1175.5" y="788.2" class="s" font-size="18" fill="#1c1c22">3</text>
<text x="0" y="0" class="s" font-size="28" fill="#1c1c22"  transform="translate(1142.5 631.1) scale(1.05 1)">10</text><text x="1175.5" y="616.6" class="s" font-size="18" fill="#1c1c22">4</text>
<text x="0" y="0" class="s" font-size="30" fill="#1c1c22" text-anchor="middle"  transform="translate(1629.5 1151.3) scale(1.03 1)">Antenna radius, <tspan font-style="italic">r</tspan> (nm)</text>
<text x="0" y="0" class="s" font-size="30" fill="#1c1c22" text-anchor="middle"  transform="translate(1108.5 784.5) rotate(-90) scale(1.02 1)">Enhancement factor, ⟨<tspan font-style="italic">EF</tspan>⟩</text>
<text x="0" y="0" class="s" font-size="30.5" fill="#1c1c22"  transform="translate(1231.5 908.7) scale(1.01 1)">Experiment</text>
<line x1="1231.6" y1="913.2" x2="1389.7" y2="913.2" stroke="#1c1c22" stroke-width="1.8" />
<rect x="1217.6" y="956.4" width="216.9" height="90.2" rx="5" fill="#fff" fill-opacity="0.85" stroke="#d2d2d2" stroke-width="2"/>
<circle cx="1256.5" cy="981.8" r="12.2" fill="#ffa434" fill-opacity="0.93" filter="url(#gb)"/>
<circle cx="1256.5" cy="1023.8" r="12.2" fill="#4a1518" filter="url(#gb)"/>
<text x="0" y="0" class="s" font-size="24.8" fill="#1c1c22"  transform="translate(1285.5 989.1) scale(1.02 1)">1L-WSe</text><text x="1377.5" y="993.7" class="s" font-size="14" fill="#1c1c22">2</text>
<text x="0" y="0" class="s" font-size="24.8" fill="#1c1c22"  transform="translate(1285.5 1031.1) scale(1.02 1)">2L-WSe</text><text x="1377.5" y="1035.7" class="s" font-size="14" fill="#1c1c22">2</text>
<text x="1516.5" y="618.6" class="s" font-size="40" fill="#1a1a1a">⟨</text><text x="0" y="0" class="s" font-size="40" fill="#1a1a1a"  transform="translate(1533.5 618.6) scale(1.0 1)">EF</text><text x="1583" y="618.6" class="s" font-size="40" fill="#1a1a1a">⟩</text>
<text x="1609" y="621.5" class="s" font-size="38" fill="#1a1a1a">=</text>
<line x1="1642.7" y1="608.3" x2="1749.8" y2="608.3" stroke="#1a1a1a" stroke-width="2.8" />
<text x="1671.5" y="587.6" class="s" font-size="39" fill="#1a1a1a" font-style="italic">I</text><text x="1681.5" y="598.6" class="s" font-size="29.5" fill="#1a1a1a">on</text>
<text x="1643.5" y="645.1" class="s" font-size="39" fill="#1a1a1a" font-style="italic">A</text><text x="1670.5" y="655.5" class="s" font-size="30" fill="#1a1a1a">dimer</text>
<line x1="1786.6" y1="608.3" x2="1879.8" y2="608.3" stroke="#1a1a1a" stroke-width="3.2" />
<text x="1814.5" y="587.6" class="s" font-size="39" fill="#1a1a1a" font-style="italic">I</text><text x="0" y="0" class="s" font-size="29.5" fill="#1a1a1a"  transform="translate(1823 598.6) scale(1.05 1)">off</text>
<text x="1793.5" y="645.1" class="s" font-size="39" fill="#1a1a1a" font-style="italic">A</text><text x="1820.5" y="655.5" class="s" font-size="30" fill="#1a1a1a">laser</text>
<text transform="translate(1759.5 638.5) scale(1.05 1)" font-family="DejaVu Sans Light, DejaVu Sans, Liberation Sans, sans-serif" font-weight="200" font-size="98" fill="#1a1a1a">(</text>
<text transform="translate(1890 638.5) scale(1.05 1)" font-family="DejaVu Sans Light, DejaVu Sans, Liberation Sans, sans-serif" font-weight="200" font-size="98" fill="#1a1a1a">)</text>
<text x="0" y="0" class="s" font-size="35" fill="#1a1a1a"  transform="translate(1910 574.9) scale(1.02 1)">−1</text>
</g>
</svg>
</body></html>
